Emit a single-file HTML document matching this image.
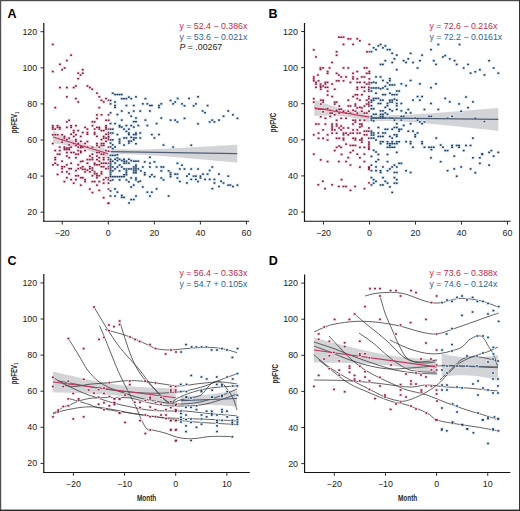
<!DOCTYPE html>
<html><head><meta charset="utf-8"><style>
html,body{margin:0;padding:0;background:#fff;}
#wrap{position:relative;width:520px;height:511px;overflow:hidden;background:#fff;}
svg{position:absolute;left:0;top:0;}
.tk{font-family:"Liberation Sans", sans-serif;font-size:8.9px;fill:#222;}
.let{font-family:"Liberation Sans", sans-serif;font-size:12.5px;font-weight:bold;fill:#000;}
.yt{font-family:"Liberation Sans", sans-serif;font-size:8.4px;font-weight:bold;fill:#2a2a2a;}
.xt{font-family:"Liberation Sans", sans-serif;font-size:9.8px;font-weight:bold;fill:#2a2a2a;}
.eq{font-family:"Liberation Sans", sans-serif;font-size:8.8px;}
</style></head><body><div id="wrap">
<svg width="520" height="511" viewBox="0 0 520 511">
<rect x="0" y="0" width="520" height="1.2" fill="#4a4a4a"/><rect x="0" y="0" width="1.2" height="511" fill="#505050"/><rect x="519" y="0" width="1" height="511" fill="#333"/><rect x="0" y="509.6" width="520" height="1.4" fill="#2a2a2a"/>
<path d="M53.03,130.99 L54.41,131.61 L55.79,132.23 L57.17,132.84 L58.56,133.45 L59.94,134.06 L61.32,134.66 L62.70,135.26 L64.08,135.86 L65.46,136.45 L66.85,137.04 L68.23,137.62 L69.61,138.19 L70.99,138.76 L72.37,139.32 L73.75,139.86 L75.14,140.40 L76.52,140.93 L77.90,141.44 L79.28,141.94 L80.66,142.43 L82.05,142.90 L83.43,143.35 L84.81,143.78 L86.19,144.20 L87.57,144.59 L88.95,144.97 L90.34,145.34 L91.72,145.68 L93.10,146.01 L94.48,146.33 L95.86,146.64 L97.25,146.93 L98.63,147.21 L100.01,147.49 L101.39,147.75 L102.77,148.01 L104.15,148.27 L105.54,148.51 L106.92,148.76 L108.30,149.00 L108.30,158.44 L106.92,157.84 L105.54,157.25 L104.15,156.66 L102.77,156.08 L101.39,155.50 L100.01,154.93 L98.63,154.37 L97.25,153.82 L95.86,153.28 L94.48,152.75 L93.10,152.23 L91.72,151.72 L90.34,151.23 L88.95,150.76 L87.57,150.30 L86.19,149.86 L84.81,149.44 L83.43,149.04 L82.05,148.65 L80.66,148.29 L79.28,147.93 L77.90,147.60 L76.52,147.28 L75.14,146.97 L73.75,146.67 L72.37,146.38 L70.99,146.10 L69.61,145.84 L68.23,145.57 L66.85,145.32 L65.46,145.07 L64.08,144.82 L62.70,144.58 L61.32,144.35 L59.94,144.12 L58.56,143.89 L57.17,143.66 L55.79,143.44 L54.41,143.22 L53.03,143.00 Z" fill="#c4c6cb" fill-opacity="0.75"/>
<path d="M110.60,148.83 L113.77,148.99 L116.94,149.13 L120.10,149.24 L123.27,149.33 L126.44,149.40 L129.60,149.44 L132.77,149.46 L135.94,149.45 L139.10,149.42 L142.27,149.38 L145.44,149.31 L148.60,149.22 L151.77,149.13 L154.94,149.02 L158.10,148.90 L161.27,148.77 L164.44,148.64 L167.60,148.49 L170.77,148.35 L173.94,148.19 L177.10,148.04 L180.27,147.88 L183.44,147.71 L186.60,147.55 L189.77,147.38 L192.94,147.21 L196.10,147.03 L199.27,146.86 L202.44,146.68 L205.60,146.50 L208.77,146.32 L211.94,146.14 L215.10,145.96 L218.27,145.78 L221.43,145.60 L224.60,145.41 L227.77,145.23 L230.93,145.04 L234.10,144.86 L237.27,144.67 L237.27,162.68 L234.10,162.39 L230.93,162.10 L227.77,161.81 L224.60,161.52 L221.43,161.23 L218.27,160.95 L215.10,160.66 L211.94,160.37 L208.77,160.09 L205.60,159.80 L202.44,159.52 L199.27,159.24 L196.10,158.96 L192.94,158.68 L189.77,158.41 L186.60,158.14 L183.44,157.86 L180.27,157.60 L177.10,157.33 L173.94,157.07 L170.77,156.81 L167.60,156.56 L164.44,156.32 L161.27,156.08 L158.10,155.84 L154.94,155.62 L151.77,155.41 L148.60,155.21 L145.44,155.02 L142.27,154.85 L139.10,154.69 L135.94,154.56 L132.77,154.45 L129.60,154.36 L126.44,154.30 L123.27,154.26 L120.10,154.25 L116.94,154.26 L113.77,154.29 L110.60,154.35 Z" fill="#c4c6cb" fill-opacity="0.75"/>
<g fill="#f8dbe3"><rect x="51.13" y="42.76" width="3.3" height="3.3"/><rect x="69.47" y="53.48" width="3.3" height="3.3"/><rect x="65.21" y="58.90" width="3.3" height="3.3"/><rect x="58.24" y="62.65" width="3.3" height="3.3"/><rect x="63.02" y="66.26" width="3.3" height="3.3"/><rect x="60.43" y="68.07" width="3.3" height="3.3"/><rect x="51.13" y="69.88" width="3.3" height="3.3"/><rect x="81.10" y="68.07" width="3.3" height="3.3"/><rect x="76.58" y="71.56" width="3.3" height="3.3"/><rect x="81.10" y="71.56" width="3.3" height="3.3"/><rect x="78.90" y="73.37" width="3.3" height="3.3"/><rect x="76.58" y="76.98" width="3.3" height="3.3"/><rect x="58.24" y="85.90" width="3.3" height="3.3"/><rect x="65.21" y="85.90" width="3.3" height="3.3"/><rect x="72.06" y="85.90" width="3.3" height="3.3"/><rect x="74.25" y="84.35" width="3.3" height="3.3"/><rect x="85.75" y="84.35" width="3.3" height="3.3"/><rect x="88.20" y="85.90" width="3.3" height="3.3"/><rect x="90.53" y="87.58" width="3.3" height="3.3"/><rect x="95.30" y="91.52" width="3.3" height="3.3"/><rect x="65.21" y="95.13" width="3.3" height="3.3"/><rect x="97.63" y="95.13" width="3.3" height="3.3"/><rect x="74.25" y="96.94" width="3.3" height="3.3"/><rect x="76.58" y="100.30" width="3.3" height="3.3"/><rect x="99.83" y="98.62" width="3.3" height="3.3"/><rect x="102.02" y="100.30" width="3.3" height="3.3"/><rect x="104.35" y="96.94" width="3.3" height="3.3"/><rect x="106.93" y="98.62" width="3.3" height="3.3"/><rect x="53.59" y="105.98" width="3.3" height="3.3"/><rect x="97.63" y="105.98" width="3.3" height="3.3"/><rect x="95.30" y="113.21" width="3.3" height="3.3"/><rect x="99.83" y="113.21" width="3.3" height="3.3"/><rect x="106.93" y="113.21" width="3.3" height="3.3"/><rect x="95.30" y="116.83" width="3.3" height="3.3"/><rect x="67.54" y="118.64" width="3.3" height="3.3"/><rect x="65.21" y="120.19" width="3.3" height="3.3"/><rect x="90.78" y="120.19" width="3.3" height="3.3"/><rect x="92.98" y="120.19" width="3.3" height="3.3"/><rect x="104.35" y="118.64" width="3.3" height="3.3"/><rect x="106.93" y="118.64" width="3.3" height="3.3"/><rect x="51.13" y="124.06" width="3.3" height="3.3"/><rect x="51.13" y="125.74" width="3.3" height="3.3"/><rect x="51.13" y="127.42" width="3.3" height="3.3"/><rect x="53.59" y="127.42" width="3.3" height="3.3"/><rect x="55.91" y="124.06" width="3.3" height="3.3"/><rect x="55.91" y="125.74" width="3.3" height="3.3"/><rect x="58.11" y="125.74" width="3.3" height="3.3"/><rect x="58.11" y="127.42" width="3.3" height="3.3"/><rect x="65.21" y="125.74" width="3.3" height="3.3"/><rect x="69.47" y="124.06" width="3.3" height="3.3"/><rect x="69.47" y="125.74" width="3.3" height="3.3"/><rect x="74.25" y="124.06" width="3.3" height="3.3"/><rect x="83.42" y="125.74" width="3.3" height="3.3"/><rect x="85.75" y="127.42" width="3.3" height="3.3"/><rect x="90.78" y="124.06" width="3.3" height="3.3"/><rect x="92.98" y="127.42" width="3.3" height="3.3"/><rect x="95.30" y="125.74" width="3.3" height="3.3"/><rect x="97.63" y="125.74" width="3.3" height="3.3"/><rect x="97.63" y="127.42" width="3.3" height="3.3"/><rect x="99.83" y="128.97" width="3.3" height="3.3"/><rect x="102.02" y="128.97" width="3.3" height="3.3"/><rect x="104.35" y="124.06" width="3.3" height="3.3"/><rect x="104.35" y="125.74" width="3.3" height="3.3"/><rect x="104.35" y="127.42" width="3.3" height="3.3"/><rect x="106.93" y="127.42" width="3.3" height="3.3"/><rect x="72.06" y="128.97" width="3.3" height="3.3"/><rect x="72.06" y="130.91" width="3.3" height="3.3"/><rect x="76.58" y="128.97" width="3.3" height="3.3"/><rect x="81.10" y="130.91" width="3.3" height="3.3"/><rect x="85.75" y="130.91" width="3.3" height="3.3"/><rect x="85.75" y="132.59" width="3.3" height="3.3"/><rect x="92.98" y="130.91" width="3.3" height="3.3"/><rect x="92.98" y="132.59" width="3.3" height="3.3"/><rect x="106.93" y="130.91" width="3.3" height="3.3"/><rect x="106.93" y="132.59" width="3.3" height="3.3"/><rect x="51.13" y="133.11" width="3.3" height="3.3"/><rect x="53.59" y="133.11" width="3.3" height="3.3"/><rect x="55.91" y="133.11" width="3.3" height="3.3"/><rect x="60.43" y="133.11" width="3.3" height="3.3"/><rect x="69.47" y="132.59" width="3.3" height="3.3"/><rect x="74.25" y="133.11" width="3.3" height="3.3"/><rect x="104.35" y="132.59" width="3.3" height="3.3"/><rect x="62.76" y="134.78" width="3.3" height="3.3"/><rect x="62.76" y="136.46" width="3.3" height="3.3"/><rect x="67.54" y="136.46" width="3.3" height="3.3"/><rect x="72.06" y="134.78" width="3.3" height="3.3"/><rect x="79.16" y="134.78" width="3.3" height="3.3"/><rect x="95.30" y="134.78" width="3.3" height="3.3"/><rect x="102.02" y="134.78" width="3.3" height="3.3"/><rect x="102.02" y="136.46" width="3.3" height="3.3"/><rect x="104.35" y="136.46" width="3.3" height="3.3"/><rect x="106.93" y="134.78" width="3.3" height="3.3"/><rect x="106.93" y="136.46" width="3.3" height="3.3"/><rect x="106.93" y="138.01" width="3.3" height="3.3"/><rect x="60.43" y="138.01" width="3.3" height="3.3"/><rect x="65.21" y="138.01" width="3.3" height="3.3"/><rect x="74.25" y="138.01" width="3.3" height="3.3"/><rect x="74.25" y="139.69" width="3.3" height="3.3"/><rect x="79.16" y="139.69" width="3.3" height="3.3"/><rect x="99.83" y="138.01" width="3.3" height="3.3"/><rect x="104.35" y="139.69" width="3.3" height="3.3"/><rect x="51.13" y="141.89" width="3.3" height="3.3"/><rect x="60.43" y="140.60" width="3.3" height="3.3"/><rect x="67.54" y="143.18" width="3.3" height="3.3"/><rect x="72.06" y="141.89" width="3.3" height="3.3"/><rect x="76.58" y="141.89" width="3.3" height="3.3"/><rect x="83.42" y="141.89" width="3.3" height="3.3"/><rect x="85.75" y="139.95" width="3.3" height="3.3"/><rect x="95.30" y="141.89" width="3.3" height="3.3"/><rect x="99.83" y="141.89" width="3.3" height="3.3"/><rect x="102.02" y="141.89" width="3.3" height="3.3"/><rect x="58.11" y="145.50" width="3.3" height="3.3"/><rect x="62.76" y="145.50" width="3.3" height="3.3"/><rect x="62.76" y="147.05" width="3.3" height="3.3"/><rect x="65.21" y="146.41" width="3.3" height="3.3"/><rect x="67.54" y="146.41" width="3.3" height="3.3"/><rect x="69.47" y="145.50" width="3.3" height="3.3"/><rect x="74.25" y="143.83" width="3.3" height="3.3"/><rect x="76.58" y="145.50" width="3.3" height="3.3"/><rect x="79.16" y="144.47" width="3.3" height="3.3"/><rect x="79.16" y="146.02" width="3.3" height="3.3"/><rect x="81.10" y="145.50" width="3.3" height="3.3"/><rect x="85.75" y="145.50" width="3.3" height="3.3"/><rect x="90.78" y="145.50" width="3.3" height="3.3"/><rect x="95.30" y="143.83" width="3.3" height="3.3"/><rect x="97.63" y="145.50" width="3.3" height="3.3"/><rect x="99.83" y="143.83" width="3.3" height="3.3"/><rect x="102.02" y="143.83" width="3.3" height="3.3"/><rect x="106.93" y="145.50" width="3.3" height="3.3"/><rect x="53.59" y="148.93" width="3.3" height="3.3"/><rect x="58.11" y="148.93" width="3.3" height="3.3"/><rect x="76.58" y="148.93" width="3.3" height="3.3"/><rect x="83.42" y="148.93" width="3.3" height="3.3"/><rect x="104.35" y="148.93" width="3.3" height="3.3"/><rect x="106.93" y="149.58" width="3.3" height="3.3"/><rect x="63.02" y="147.90" width="3.3" height="3.3"/><rect x="65.21" y="147.90" width="3.3" height="3.3"/><rect x="67.54" y="147.90" width="3.3" height="3.3"/><rect x="55.91" y="152.55" width="3.3" height="3.3"/><rect x="58.11" y="152.55" width="3.3" height="3.3"/><rect x="65.21" y="150.87" width="3.3" height="3.3"/><rect x="69.47" y="150.87" width="3.3" height="3.3"/><rect x="72.06" y="150.87" width="3.3" height="3.3"/><rect x="74.25" y="152.55" width="3.3" height="3.3"/><rect x="76.58" y="152.55" width="3.3" height="3.3"/><rect x="79.16" y="149.58" width="3.3" height="3.3"/><rect x="79.16" y="150.87" width="3.3" height="3.3"/><rect x="90.78" y="152.55" width="3.3" height="3.3"/><rect x="95.30" y="150.87" width="3.3" height="3.3"/><rect x="97.63" y="150.87" width="3.3" height="3.3"/><rect x="99.83" y="152.55" width="3.3" height="3.3"/><rect x="102.02" y="152.55" width="3.3" height="3.3"/><rect x="53.59" y="156.04" width="3.3" height="3.3"/><rect x="53.59" y="157.97" width="3.3" height="3.3"/><rect x="65.21" y="154.36" width="3.3" height="3.3"/><rect x="67.54" y="156.04" width="3.3" height="3.3"/><rect x="74.25" y="156.04" width="3.3" height="3.3"/><rect x="88.20" y="154.36" width="3.3" height="3.3"/><rect x="90.78" y="156.04" width="3.3" height="3.3"/><rect x="95.30" y="154.36" width="3.3" height="3.3"/><rect x="95.30" y="157.97" width="3.3" height="3.3"/><rect x="97.63" y="156.04" width="3.3" height="3.3"/><rect x="102.02" y="156.04" width="3.3" height="3.3"/><rect x="102.02" y="157.97" width="3.3" height="3.3"/><rect x="106.93" y="156.04" width="3.3" height="3.3"/><rect x="106.93" y="157.97" width="3.3" height="3.3"/><rect x="60.43" y="159.52" width="3.3" height="3.3"/><rect x="79.16" y="159.91" width="3.3" height="3.3"/><rect x="81.10" y="159.52" width="3.3" height="3.3"/><rect x="85.75" y="157.97" width="3.3" height="3.3"/><rect x="88.20" y="157.97" width="3.3" height="3.3"/><rect x="90.78" y="157.97" width="3.3" height="3.3"/><rect x="97.63" y="159.52" width="3.3" height="3.3"/><rect x="51.39" y="163.14" width="3.3" height="3.3"/><rect x="53.59" y="161.59" width="3.3" height="3.3"/><rect x="55.91" y="163.14" width="3.3" height="3.3"/><rect x="65.21" y="163.14" width="3.3" height="3.3"/><rect x="69.47" y="161.59" width="3.3" height="3.3"/><rect x="76.58" y="163.14" width="3.3" height="3.3"/><rect x="85.75" y="161.59" width="3.3" height="3.3"/><rect x="92.98" y="161.59" width="3.3" height="3.3"/><rect x="92.98" y="163.14" width="3.3" height="3.3"/><rect x="95.30" y="163.14" width="3.3" height="3.3"/><rect x="97.63" y="163.14" width="3.3" height="3.3"/><rect x="99.83" y="161.59" width="3.3" height="3.3"/><rect x="102.02" y="161.59" width="3.3" height="3.3"/><rect x="104.35" y="161.59" width="3.3" height="3.3"/><rect x="106.93" y="161.59" width="3.3" height="3.3"/><rect x="60.43" y="165.08" width="3.3" height="3.3"/><rect x="60.43" y="167.02" width="3.3" height="3.3"/><rect x="62.76" y="165.08" width="3.3" height="3.3"/><rect x="67.54" y="167.02" width="3.3" height="3.3"/><rect x="69.47" y="167.02" width="3.3" height="3.3"/><rect x="76.58" y="167.02" width="3.3" height="3.3"/><rect x="79.16" y="166.37" width="3.3" height="3.3"/><rect x="81.10" y="165.08" width="3.3" height="3.3"/><rect x="81.10" y="167.66" width="3.3" height="3.3"/><rect x="83.42" y="167.66" width="3.3" height="3.3"/><rect x="85.75" y="168.57" width="3.3" height="3.3"/><rect x="88.20" y="165.08" width="3.3" height="3.3"/><rect x="88.20" y="167.02" width="3.3" height="3.3"/><rect x="90.78" y="166.37" width="3.3" height="3.3"/><rect x="90.78" y="168.57" width="3.3" height="3.3"/><rect x="99.83" y="165.08" width="3.3" height="3.3"/><rect x="102.02" y="165.08" width="3.3" height="3.3"/><rect x="104.35" y="167.02" width="3.3" height="3.3"/><rect x="106.93" y="165.08" width="3.3" height="3.3"/><rect x="106.93" y="167.02" width="3.3" height="3.3"/><rect x="60.43" y="170.24" width="3.3" height="3.3"/><rect x="65.21" y="170.24" width="3.3" height="3.3"/><rect x="67.54" y="172.18" width="3.3" height="3.3"/><rect x="74.25" y="168.95" width="3.3" height="3.3"/><rect x="83.42" y="170.24" width="3.3" height="3.3"/><rect x="88.20" y="170.24" width="3.3" height="3.3"/><rect x="92.98" y="170.24" width="3.3" height="3.3"/><rect x="92.98" y="172.18" width="3.3" height="3.3"/><rect x="95.30" y="172.18" width="3.3" height="3.3"/><rect x="99.83" y="170.24" width="3.3" height="3.3"/><rect x="99.83" y="172.18" width="3.3" height="3.3"/><rect x="55.91" y="172.83" width="3.3" height="3.3"/><rect x="65.21" y="176.06" width="3.3" height="3.3"/><rect x="69.47" y="177.99" width="3.3" height="3.3"/><rect x="74.25" y="174.12" width="3.3" height="3.3"/><rect x="76.58" y="174.12" width="3.3" height="3.3"/><rect x="74.25" y="177.99" width="3.3" height="3.3"/><rect x="79.16" y="176.06" width="3.3" height="3.3"/><rect x="81.10" y="176.06" width="3.3" height="3.3"/><rect x="83.42" y="177.99" width="3.3" height="3.3"/><rect x="83.42" y="179.93" width="3.3" height="3.3"/><rect x="90.78" y="174.12" width="3.3" height="3.3"/><rect x="95.30" y="174.12" width="3.3" height="3.3"/><rect x="97.63" y="174.12" width="3.3" height="3.3"/><rect x="95.30" y="176.06" width="3.3" height="3.3"/><rect x="102.02" y="177.99" width="3.3" height="3.3"/><rect x="104.35" y="176.06" width="3.3" height="3.3"/><rect x="106.93" y="176.06" width="3.3" height="3.3"/><rect x="106.93" y="177.99" width="3.3" height="3.3"/><rect x="62.76" y="179.93" width="3.3" height="3.3"/><rect x="72.06" y="181.48" width="3.3" height="3.3"/><rect x="90.78" y="179.93" width="3.3" height="3.3"/><rect x="92.98" y="179.93" width="3.3" height="3.3"/><rect x="97.63" y="179.93" width="3.3" height="3.3"/><rect x="102.02" y="181.48" width="3.3" height="3.3"/><rect x="106.93" y="181.48" width="3.3" height="3.3"/><rect x="79.16" y="183.55" width="3.3" height="3.3"/><rect x="95.30" y="183.55" width="3.3" height="3.3"/><rect x="88.20" y="187.42" width="3.3" height="3.3"/><rect x="97.63" y="188.71" width="3.3" height="3.3"/><rect x="106.93" y="187.42" width="3.3" height="3.3"/><rect x="90.78" y="190.91" width="3.3" height="3.3"/><rect x="102.02" y="196.08" width="3.3" height="3.3"/><rect x="106.93" y="201.63" width="3.3" height="3.3"/><rect x="106.55" y="201.65" width="3.3" height="3.3"/></g>
<g fill="#7c1c3c"><rect x="51.88" y="43.66" width="1.8" height="1.5"/><rect x="70.22" y="54.38" width="1.8" height="1.5"/><rect x="65.96" y="59.80" width="1.8" height="1.5"/><rect x="58.99" y="63.55" width="1.8" height="1.5"/><rect x="63.77" y="67.16" width="1.8" height="1.5"/><rect x="61.18" y="68.97" width="1.8" height="1.5"/><rect x="51.88" y="70.78" width="1.8" height="1.5"/><rect x="81.85" y="68.97" width="1.8" height="1.5"/><rect x="77.33" y="72.46" width="1.8" height="1.5"/><rect x="81.85" y="72.46" width="1.8" height="1.5"/><rect x="79.65" y="74.27" width="1.8" height="1.5"/><rect x="77.33" y="77.88" width="1.8" height="1.5"/><rect x="58.99" y="86.80" width="1.8" height="1.5"/><rect x="65.96" y="86.80" width="1.8" height="1.5"/><rect x="72.81" y="86.80" width="1.8" height="1.5"/><rect x="75.00" y="85.25" width="1.8" height="1.5"/><rect x="86.50" y="85.25" width="1.8" height="1.5"/><rect x="88.95" y="86.80" width="1.8" height="1.5"/><rect x="91.28" y="88.48" width="1.8" height="1.5"/><rect x="96.05" y="92.42" width="1.8" height="1.5"/><rect x="65.96" y="96.03" width="1.8" height="1.5"/><rect x="98.38" y="96.03" width="1.8" height="1.5"/><rect x="75.00" y="97.84" width="1.8" height="1.5"/><rect x="77.33" y="101.20" width="1.8" height="1.5"/><rect x="100.58" y="99.52" width="1.8" height="1.5"/><rect x="102.77" y="101.20" width="1.8" height="1.5"/><rect x="105.10" y="97.84" width="1.8" height="1.5"/><rect x="107.68" y="99.52" width="1.8" height="1.5"/><rect x="54.34" y="106.88" width="1.8" height="1.5"/><rect x="98.38" y="106.88" width="1.8" height="1.5"/><rect x="96.05" y="114.11" width="1.8" height="1.5"/><rect x="100.58" y="114.11" width="1.8" height="1.5"/><rect x="107.68" y="114.11" width="1.8" height="1.5"/><rect x="96.05" y="117.73" width="1.8" height="1.5"/><rect x="68.29" y="119.54" width="1.8" height="1.5"/><rect x="65.96" y="121.09" width="1.8" height="1.5"/><rect x="91.53" y="121.09" width="1.8" height="1.5"/><rect x="93.73" y="121.09" width="1.8" height="1.5"/><rect x="105.10" y="119.54" width="1.8" height="1.5"/><rect x="107.68" y="119.54" width="1.8" height="1.5"/><rect x="51.88" y="124.96" width="1.8" height="1.5"/><rect x="51.88" y="126.64" width="1.8" height="1.5"/><rect x="51.88" y="128.32" width="1.8" height="1.5"/><rect x="54.34" y="128.32" width="1.8" height="1.5"/><rect x="56.66" y="124.96" width="1.8" height="1.5"/><rect x="56.66" y="126.64" width="1.8" height="1.5"/><rect x="58.86" y="126.64" width="1.8" height="1.5"/><rect x="58.86" y="128.32" width="1.8" height="1.5"/><rect x="65.96" y="126.64" width="1.8" height="1.5"/><rect x="70.22" y="124.96" width="1.8" height="1.5"/><rect x="70.22" y="126.64" width="1.8" height="1.5"/><rect x="75.00" y="124.96" width="1.8" height="1.5"/><rect x="84.17" y="126.64" width="1.8" height="1.5"/><rect x="86.50" y="128.32" width="1.8" height="1.5"/><rect x="91.53" y="124.96" width="1.8" height="1.5"/><rect x="93.73" y="128.32" width="1.8" height="1.5"/><rect x="96.05" y="126.64" width="1.8" height="1.5"/><rect x="98.38" y="126.64" width="1.8" height="1.5"/><rect x="98.38" y="128.32" width="1.8" height="1.5"/><rect x="100.58" y="129.87" width="1.8" height="1.5"/><rect x="102.77" y="129.87" width="1.8" height="1.5"/><rect x="105.10" y="124.96" width="1.8" height="1.5"/><rect x="105.10" y="126.64" width="1.8" height="1.5"/><rect x="105.10" y="128.32" width="1.8" height="1.5"/><rect x="107.68" y="128.32" width="1.8" height="1.5"/><rect x="72.81" y="129.87" width="1.8" height="1.5"/><rect x="72.81" y="131.81" width="1.8" height="1.5"/><rect x="77.33" y="129.87" width="1.8" height="1.5"/><rect x="81.85" y="131.81" width="1.8" height="1.5"/><rect x="86.50" y="131.81" width="1.8" height="1.5"/><rect x="86.50" y="133.49" width="1.8" height="1.5"/><rect x="93.73" y="131.81" width="1.8" height="1.5"/><rect x="93.73" y="133.49" width="1.8" height="1.5"/><rect x="107.68" y="131.81" width="1.8" height="1.5"/><rect x="107.68" y="133.49" width="1.8" height="1.5"/><rect x="51.88" y="134.01" width="1.8" height="1.5"/><rect x="54.34" y="134.01" width="1.8" height="1.5"/><rect x="56.66" y="134.01" width="1.8" height="1.5"/><rect x="61.18" y="134.01" width="1.8" height="1.5"/><rect x="70.22" y="133.49" width="1.8" height="1.5"/><rect x="75.00" y="134.01" width="1.8" height="1.5"/><rect x="105.10" y="133.49" width="1.8" height="1.5"/><rect x="63.51" y="135.68" width="1.8" height="1.5"/><rect x="63.51" y="137.36" width="1.8" height="1.5"/><rect x="68.29" y="137.36" width="1.8" height="1.5"/><rect x="72.81" y="135.68" width="1.8" height="1.5"/><rect x="79.91" y="135.68" width="1.8" height="1.5"/><rect x="96.05" y="135.68" width="1.8" height="1.5"/><rect x="102.77" y="135.68" width="1.8" height="1.5"/><rect x="102.77" y="137.36" width="1.8" height="1.5"/><rect x="105.10" y="137.36" width="1.8" height="1.5"/><rect x="107.68" y="135.68" width="1.8" height="1.5"/><rect x="107.68" y="137.36" width="1.8" height="1.5"/><rect x="107.68" y="138.91" width="1.8" height="1.5"/><rect x="61.18" y="138.91" width="1.8" height="1.5"/><rect x="65.96" y="138.91" width="1.8" height="1.5"/><rect x="75.00" y="138.91" width="1.8" height="1.5"/><rect x="75.00" y="140.59" width="1.8" height="1.5"/><rect x="79.91" y="140.59" width="1.8" height="1.5"/><rect x="100.58" y="138.91" width="1.8" height="1.5"/><rect x="105.10" y="140.59" width="1.8" height="1.5"/><rect x="51.88" y="142.79" width="1.8" height="1.5"/><rect x="61.18" y="141.50" width="1.8" height="1.5"/><rect x="68.29" y="144.08" width="1.8" height="1.5"/><rect x="72.81" y="142.79" width="1.8" height="1.5"/><rect x="77.33" y="142.79" width="1.8" height="1.5"/><rect x="84.17" y="142.79" width="1.8" height="1.5"/><rect x="86.50" y="140.85" width="1.8" height="1.5"/><rect x="96.05" y="142.79" width="1.8" height="1.5"/><rect x="100.58" y="142.79" width="1.8" height="1.5"/><rect x="102.77" y="142.79" width="1.8" height="1.5"/><rect x="58.86" y="146.40" width="1.8" height="1.5"/><rect x="63.51" y="146.40" width="1.8" height="1.5"/><rect x="63.51" y="147.95" width="1.8" height="1.5"/><rect x="65.96" y="147.31" width="1.8" height="1.5"/><rect x="68.29" y="147.31" width="1.8" height="1.5"/><rect x="70.22" y="146.40" width="1.8" height="1.5"/><rect x="75.00" y="144.73" width="1.8" height="1.5"/><rect x="77.33" y="146.40" width="1.8" height="1.5"/><rect x="79.91" y="145.37" width="1.8" height="1.5"/><rect x="79.91" y="146.92" width="1.8" height="1.5"/><rect x="81.85" y="146.40" width="1.8" height="1.5"/><rect x="86.50" y="146.40" width="1.8" height="1.5"/><rect x="91.53" y="146.40" width="1.8" height="1.5"/><rect x="96.05" y="144.73" width="1.8" height="1.5"/><rect x="98.38" y="146.40" width="1.8" height="1.5"/><rect x="100.58" y="144.73" width="1.8" height="1.5"/><rect x="102.77" y="144.73" width="1.8" height="1.5"/><rect x="107.68" y="146.40" width="1.8" height="1.5"/><rect x="54.34" y="149.83" width="1.8" height="1.5"/><rect x="58.86" y="149.83" width="1.8" height="1.5"/><rect x="77.33" y="149.83" width="1.8" height="1.5"/><rect x="84.17" y="149.83" width="1.8" height="1.5"/><rect x="105.10" y="149.83" width="1.8" height="1.5"/><rect x="107.68" y="150.48" width="1.8" height="1.5"/><rect x="63.77" y="148.80" width="1.8" height="1.5"/><rect x="65.96" y="148.80" width="1.8" height="1.5"/><rect x="68.29" y="148.80" width="1.8" height="1.5"/><rect x="56.66" y="153.45" width="1.8" height="1.5"/><rect x="58.86" y="153.45" width="1.8" height="1.5"/><rect x="65.96" y="151.77" width="1.8" height="1.5"/><rect x="70.22" y="151.77" width="1.8" height="1.5"/><rect x="72.81" y="151.77" width="1.8" height="1.5"/><rect x="75.00" y="153.45" width="1.8" height="1.5"/><rect x="77.33" y="153.45" width="1.8" height="1.5"/><rect x="79.91" y="150.48" width="1.8" height="1.5"/><rect x="79.91" y="151.77" width="1.8" height="1.5"/><rect x="91.53" y="153.45" width="1.8" height="1.5"/><rect x="96.05" y="151.77" width="1.8" height="1.5"/><rect x="98.38" y="151.77" width="1.8" height="1.5"/><rect x="100.58" y="153.45" width="1.8" height="1.5"/><rect x="102.77" y="153.45" width="1.8" height="1.5"/><rect x="54.34" y="156.94" width="1.8" height="1.5"/><rect x="54.34" y="158.87" width="1.8" height="1.5"/><rect x="65.96" y="155.26" width="1.8" height="1.5"/><rect x="68.29" y="156.94" width="1.8" height="1.5"/><rect x="75.00" y="156.94" width="1.8" height="1.5"/><rect x="88.95" y="155.26" width="1.8" height="1.5"/><rect x="91.53" y="156.94" width="1.8" height="1.5"/><rect x="96.05" y="155.26" width="1.8" height="1.5"/><rect x="96.05" y="158.87" width="1.8" height="1.5"/><rect x="98.38" y="156.94" width="1.8" height="1.5"/><rect x="102.77" y="156.94" width="1.8" height="1.5"/><rect x="102.77" y="158.87" width="1.8" height="1.5"/><rect x="107.68" y="156.94" width="1.8" height="1.5"/><rect x="107.68" y="158.87" width="1.8" height="1.5"/><rect x="61.18" y="160.42" width="1.8" height="1.5"/><rect x="79.91" y="160.81" width="1.8" height="1.5"/><rect x="81.85" y="160.42" width="1.8" height="1.5"/><rect x="86.50" y="158.87" width="1.8" height="1.5"/><rect x="88.95" y="158.87" width="1.8" height="1.5"/><rect x="91.53" y="158.87" width="1.8" height="1.5"/><rect x="98.38" y="160.42" width="1.8" height="1.5"/><rect x="52.14" y="164.04" width="1.8" height="1.5"/><rect x="54.34" y="162.49" width="1.8" height="1.5"/><rect x="56.66" y="164.04" width="1.8" height="1.5"/><rect x="65.96" y="164.04" width="1.8" height="1.5"/><rect x="70.22" y="162.49" width="1.8" height="1.5"/><rect x="77.33" y="164.04" width="1.8" height="1.5"/><rect x="86.50" y="162.49" width="1.8" height="1.5"/><rect x="93.73" y="162.49" width="1.8" height="1.5"/><rect x="93.73" y="164.04" width="1.8" height="1.5"/><rect x="96.05" y="164.04" width="1.8" height="1.5"/><rect x="98.38" y="164.04" width="1.8" height="1.5"/><rect x="100.58" y="162.49" width="1.8" height="1.5"/><rect x="102.77" y="162.49" width="1.8" height="1.5"/><rect x="105.10" y="162.49" width="1.8" height="1.5"/><rect x="107.68" y="162.49" width="1.8" height="1.5"/><rect x="61.18" y="165.98" width="1.8" height="1.5"/><rect x="61.18" y="167.92" width="1.8" height="1.5"/><rect x="63.51" y="165.98" width="1.8" height="1.5"/><rect x="68.29" y="167.92" width="1.8" height="1.5"/><rect x="70.22" y="167.92" width="1.8" height="1.5"/><rect x="77.33" y="167.92" width="1.8" height="1.5"/><rect x="79.91" y="167.27" width="1.8" height="1.5"/><rect x="81.85" y="165.98" width="1.8" height="1.5"/><rect x="81.85" y="168.56" width="1.8" height="1.5"/><rect x="84.17" y="168.56" width="1.8" height="1.5"/><rect x="86.50" y="169.47" width="1.8" height="1.5"/><rect x="88.95" y="165.98" width="1.8" height="1.5"/><rect x="88.95" y="167.92" width="1.8" height="1.5"/><rect x="91.53" y="167.27" width="1.8" height="1.5"/><rect x="91.53" y="169.47" width="1.8" height="1.5"/><rect x="100.58" y="165.98" width="1.8" height="1.5"/><rect x="102.77" y="165.98" width="1.8" height="1.5"/><rect x="105.10" y="167.92" width="1.8" height="1.5"/><rect x="107.68" y="165.98" width="1.8" height="1.5"/><rect x="107.68" y="167.92" width="1.8" height="1.5"/><rect x="61.18" y="171.14" width="1.8" height="1.5"/><rect x="65.96" y="171.14" width="1.8" height="1.5"/><rect x="68.29" y="173.08" width="1.8" height="1.5"/><rect x="75.00" y="169.85" width="1.8" height="1.5"/><rect x="84.17" y="171.14" width="1.8" height="1.5"/><rect x="88.95" y="171.14" width="1.8" height="1.5"/><rect x="93.73" y="171.14" width="1.8" height="1.5"/><rect x="93.73" y="173.08" width="1.8" height="1.5"/><rect x="96.05" y="173.08" width="1.8" height="1.5"/><rect x="100.58" y="171.14" width="1.8" height="1.5"/><rect x="100.58" y="173.08" width="1.8" height="1.5"/><rect x="56.66" y="173.73" width="1.8" height="1.5"/><rect x="65.96" y="176.96" width="1.8" height="1.5"/><rect x="70.22" y="178.89" width="1.8" height="1.5"/><rect x="75.00" y="175.02" width="1.8" height="1.5"/><rect x="77.33" y="175.02" width="1.8" height="1.5"/><rect x="75.00" y="178.89" width="1.8" height="1.5"/><rect x="79.91" y="176.96" width="1.8" height="1.5"/><rect x="81.85" y="176.96" width="1.8" height="1.5"/><rect x="84.17" y="178.89" width="1.8" height="1.5"/><rect x="84.17" y="180.83" width="1.8" height="1.5"/><rect x="91.53" y="175.02" width="1.8" height="1.5"/><rect x="96.05" y="175.02" width="1.8" height="1.5"/><rect x="98.38" y="175.02" width="1.8" height="1.5"/><rect x="96.05" y="176.96" width="1.8" height="1.5"/><rect x="102.77" y="178.89" width="1.8" height="1.5"/><rect x="105.10" y="176.96" width="1.8" height="1.5"/><rect x="107.68" y="176.96" width="1.8" height="1.5"/><rect x="107.68" y="178.89" width="1.8" height="1.5"/><rect x="63.51" y="180.83" width="1.8" height="1.5"/><rect x="72.81" y="182.38" width="1.8" height="1.5"/><rect x="91.53" y="180.83" width="1.8" height="1.5"/><rect x="93.73" y="180.83" width="1.8" height="1.5"/><rect x="98.38" y="180.83" width="1.8" height="1.5"/><rect x="102.77" y="182.38" width="1.8" height="1.5"/><rect x="107.68" y="182.38" width="1.8" height="1.5"/><rect x="79.91" y="184.45" width="1.8" height="1.5"/><rect x="96.05" y="184.45" width="1.8" height="1.5"/><rect x="88.95" y="188.32" width="1.8" height="1.5"/><rect x="98.38" y="189.61" width="1.8" height="1.5"/><rect x="107.68" y="188.32" width="1.8" height="1.5"/><rect x="91.53" y="191.81" width="1.8" height="1.5"/><rect x="102.77" y="196.98" width="1.8" height="1.5"/><rect x="107.68" y="202.53" width="1.8" height="1.5"/><rect x="107.30" y="202.55" width="1.8" height="1.5"/></g>
<g fill="#d9e9f5"><rect x="111.07" y="91.60" width="3.3" height="3.3"/><rect x="113.39" y="92.89" width="3.3" height="3.3"/><rect x="115.72" y="92.89" width="3.3" height="3.3"/><rect x="117.91" y="92.89" width="3.3" height="3.3"/><rect x="120.11" y="92.89" width="3.3" height="3.3"/><rect x="120.11" y="97.02" width="3.3" height="3.3"/><rect x="122.43" y="97.02" width="3.3" height="3.3"/><rect x="124.76" y="97.02" width="3.3" height="3.3"/><rect x="127.21" y="95.47" width="3.3" height="3.3"/><rect x="129.54" y="97.02" width="3.3" height="3.3"/><rect x="134.31" y="95.21" width="3.3" height="3.3"/><rect x="143.74" y="97.02" width="3.3" height="3.3"/><rect x="168.93" y="98.83" width="3.3" height="3.3"/><rect x="108.87" y="98.83" width="3.3" height="3.3"/><rect x="113.39" y="100.38" width="3.3" height="3.3"/><rect x="113.39" y="103.87" width="3.3" height="3.3"/><rect x="113.39" y="105.81" width="3.3" height="3.3"/><rect x="108.87" y="102.19" width="3.3" height="3.3"/><rect x="124.76" y="103.87" width="3.3" height="3.3"/><rect x="132.12" y="103.87" width="3.3" height="3.3"/><rect x="141.16" y="102.19" width="3.3" height="3.3"/><rect x="145.68" y="102.19" width="3.3" height="3.3"/><rect x="148.26" y="103.87" width="3.3" height="3.3"/><rect x="150.20" y="103.87" width="3.3" height="3.3"/><rect x="157.30" y="103.87" width="3.3" height="3.3"/><rect x="157.30" y="105.81" width="3.3" height="3.3"/><rect x="159.63" y="102.19" width="3.3" height="3.3"/><rect x="120.11" y="109.42" width="3.3" height="3.3"/><rect x="127.21" y="111.23" width="3.3" height="3.3"/><rect x="132.12" y="109.42" width="3.3" height="3.3"/><rect x="138.58" y="109.42" width="3.3" height="3.3"/><rect x="148.26" y="109.42" width="3.3" height="3.3"/><rect x="108.87" y="111.23" width="3.3" height="3.3"/><rect x="115.72" y="112.91" width="3.3" height="3.3"/><rect x="129.54" y="114.59" width="3.3" height="3.3"/><rect x="134.31" y="116.40" width="3.3" height="3.3"/><rect x="143.74" y="118.46" width="3.3" height="3.3"/><rect x="159.63" y="116.40" width="3.3" height="3.3"/><rect x="168.93" y="118.46" width="3.3" height="3.3"/><rect x="120.11" y="118.46" width="3.3" height="3.3"/><rect x="132.12" y="120.01" width="3.3" height="3.3"/><rect x="134.31" y="120.01" width="3.3" height="3.3"/><rect x="108.87" y="121.95" width="3.3" height="3.3"/><rect x="113.39" y="121.95" width="3.3" height="3.3"/><rect x="117.91" y="123.89" width="3.3" height="3.3"/><rect x="120.11" y="125.44" width="3.3" height="3.3"/><rect x="124.76" y="123.89" width="3.3" height="3.3"/><rect x="129.54" y="123.89" width="3.3" height="3.3"/><rect x="132.12" y="125.44" width="3.3" height="3.3"/><rect x="136.64" y="123.89" width="3.3" height="3.3"/><rect x="145.68" y="123.89" width="3.3" height="3.3"/><rect x="154.98" y="121.95" width="3.3" height="3.3"/><rect x="108.87" y="127.50" width="3.3" height="3.3"/><rect x="111.07" y="127.50" width="3.3" height="3.3"/><rect x="122.43" y="127.50" width="3.3" height="3.3"/><rect x="127.21" y="127.50" width="3.3" height="3.3"/><rect x="117.91" y="125.18" width="3.3" height="3.3"/><rect x="108.87" y="131.38" width="3.3" height="3.3"/><rect x="111.07" y="131.38" width="3.3" height="3.3"/><rect x="115.72" y="132.93" width="3.3" height="3.3"/><rect x="124.76" y="129.70" width="3.3" height="3.3"/><rect x="127.21" y="131.38" width="3.3" height="3.3"/><rect x="127.21" y="132.93" width="3.3" height="3.3"/><rect x="132.12" y="132.93" width="3.3" height="3.3"/><rect x="134.31" y="131.38" width="3.3" height="3.3"/><rect x="134.31" y="132.93" width="3.3" height="3.3"/><rect x="138.58" y="131.38" width="3.3" height="3.3"/><rect x="150.20" y="132.93" width="3.3" height="3.3"/><rect x="157.30" y="132.93" width="3.3" height="3.3"/><rect x="176.04" y="96.81" width="3.3" height="3.3"/><rect x="173.48" y="100.37" width="3.3" height="3.3"/><rect x="171.49" y="102.22" width="3.3" height="3.3"/><rect x="180.31" y="102.22" width="3.3" height="3.3"/><rect x="182.87" y="104.21" width="3.3" height="3.3"/><rect x="187.43" y="96.81" width="3.3" height="3.3"/><rect x="196.39" y="95.10" width="3.3" height="3.3"/><rect x="194.26" y="102.22" width="3.3" height="3.3"/><rect x="191.98" y="104.21" width="3.3" height="3.3"/><rect x="205.93" y="103.93" width="3.3" height="3.3"/><rect x="200.95" y="109.33" width="3.3" height="3.3"/><rect x="203.37" y="111.04" width="3.3" height="3.3"/><rect x="226.56" y="109.33" width="3.3" height="3.3"/><rect x="231.26" y="113.18" width="3.3" height="3.3"/><rect x="221.87" y="114.60" width="3.3" height="3.3"/><rect x="235.81" y="116.73" width="3.3" height="3.3"/><rect x="173.48" y="118.44" width="3.3" height="3.3"/><rect x="175.76" y="120.29" width="3.3" height="3.3"/><rect x="182.87" y="116.73" width="3.3" height="3.3"/><rect x="196.39" y="122.14" width="3.3" height="3.3"/><rect x="208.06" y="120.29" width="3.3" height="3.3"/><rect x="210.62" y="118.44" width="3.3" height="3.3"/><rect x="212.76" y="120.29" width="3.3" height="3.3"/><rect x="217.31" y="118.44" width="3.3" height="3.3"/><rect x="122.43" y="136.29" width="3.3" height="3.3"/><rect x="124.76" y="136.29" width="3.3" height="3.3"/><rect x="129.54" y="135.64" width="3.3" height="3.3"/><rect x="132.12" y="136.29" width="3.3" height="3.3"/><rect x="134.31" y="136.29" width="3.3" height="3.3"/><rect x="138.58" y="136.29" width="3.3" height="3.3"/><rect x="152.78" y="136.29" width="3.3" height="3.3"/><rect x="108.87" y="138.22" width="3.3" height="3.3"/><rect x="111.07" y="138.22" width="3.3" height="3.3"/><rect x="117.91" y="137.58" width="3.3" height="3.3"/><rect x="117.91" y="139.52" width="3.3" height="3.3"/><rect x="127.21" y="139.52" width="3.3" height="3.3"/><rect x="129.54" y="139.52" width="3.3" height="3.3"/><rect x="132.12" y="138.22" width="3.3" height="3.3"/><rect x="108.87" y="141.45" width="3.3" height="3.3"/><rect x="111.07" y="143.13" width="3.3" height="3.3"/><rect x="117.91" y="141.45" width="3.3" height="3.3"/><rect x="122.43" y="143.39" width="3.3" height="3.3"/><rect x="127.21" y="141.45" width="3.3" height="3.3"/><rect x="134.31" y="142.10" width="3.3" height="3.3"/><rect x="161.83" y="143.39" width="3.3" height="3.3"/><rect x="108.87" y="145.33" width="3.3" height="3.3"/><rect x="111.07" y="147.01" width="3.3" height="3.3"/><rect x="113.39" y="145.33" width="3.3" height="3.3"/><rect x="108.87" y="153.72" width="3.3" height="3.3"/><rect x="111.07" y="153.72" width="3.3" height="3.3"/><rect x="113.39" y="153.72" width="3.3" height="3.3"/><rect x="115.72" y="153.08" width="3.3" height="3.3"/><rect x="108.87" y="157.60" width="3.3" height="3.3"/><rect x="108.87" y="159.54" width="3.3" height="3.3"/><rect x="108.87" y="161.47" width="3.3" height="3.3"/><rect x="111.07" y="159.54" width="3.3" height="3.3"/><rect x="113.39" y="157.60" width="3.3" height="3.3"/><rect x="113.39" y="161.47" width="3.3" height="3.3"/><rect x="115.72" y="156.31" width="3.3" height="3.3"/><rect x="115.72" y="158.89" width="3.3" height="3.3"/><rect x="117.91" y="157.60" width="3.3" height="3.3"/><rect x="120.11" y="158.89" width="3.3" height="3.3"/><rect x="122.43" y="157.60" width="3.3" height="3.3"/><rect x="122.43" y="159.54" width="3.3" height="3.3"/><rect x="122.43" y="161.47" width="3.3" height="3.3"/><rect x="124.76" y="159.54" width="3.3" height="3.3"/><rect x="124.76" y="161.47" width="3.3" height="3.3"/><rect x="127.21" y="157.60" width="3.3" height="3.3"/><rect x="127.21" y="161.47" width="3.3" height="3.3"/><rect x="129.54" y="158.89" width="3.3" height="3.3"/><rect x="132.12" y="159.54" width="3.3" height="3.3"/><rect x="134.31" y="159.54" width="3.3" height="3.3"/><rect x="136.64" y="159.54" width="3.3" height="3.3"/><rect x="143.10" y="160.18" width="3.3" height="3.3"/><rect x="148.26" y="155.66" width="3.3" height="3.3"/><rect x="148.26" y="161.47" width="3.3" height="3.3"/><rect x="152.78" y="160.18" width="3.3" height="3.3"/><rect x="108.87" y="163.41" width="3.3" height="3.3"/><rect x="108.87" y="165.35" width="3.3" height="3.3"/><rect x="108.87" y="167.29" width="3.3" height="3.3"/><rect x="108.87" y="169.22" width="3.3" height="3.3"/><rect x="108.87" y="171.16" width="3.3" height="3.3"/><rect x="111.07" y="165.35" width="3.3" height="3.3"/><rect x="111.07" y="169.22" width="3.3" height="3.3"/><rect x="113.39" y="167.29" width="3.3" height="3.3"/><rect x="115.72" y="165.35" width="3.3" height="3.3"/><rect x="117.91" y="163.41" width="3.3" height="3.3"/><rect x="117.91" y="169.22" width="3.3" height="3.3"/><rect x="120.11" y="165.35" width="3.3" height="3.3"/><rect x="122.43" y="167.29" width="3.3" height="3.3"/><rect x="124.76" y="167.29" width="3.3" height="3.3"/><rect x="124.76" y="169.22" width="3.3" height="3.3"/><rect x="124.76" y="171.16" width="3.3" height="3.3"/><rect x="127.21" y="167.29" width="3.3" height="3.3"/><rect x="129.54" y="167.29" width="3.3" height="3.3"/><rect x="132.12" y="165.35" width="3.3" height="3.3"/><rect x="132.12" y="167.29" width="3.3" height="3.3"/><rect x="132.12" y="169.22" width="3.3" height="3.3"/><rect x="132.12" y="171.16" width="3.3" height="3.3"/><rect x="134.31" y="163.41" width="3.3" height="3.3"/><rect x="134.31" y="165.35" width="3.3" height="3.3"/><rect x="134.31" y="167.29" width="3.3" height="3.3"/><rect x="134.31" y="169.22" width="3.3" height="3.3"/><rect x="134.31" y="171.16" width="3.3" height="3.3"/><rect x="136.64" y="167.29" width="3.3" height="3.3"/><rect x="139.22" y="169.22" width="3.3" height="3.3"/><rect x="141.16" y="165.35" width="3.3" height="3.3"/><rect x="143.10" y="171.16" width="3.3" height="3.3"/><rect x="148.26" y="165.35" width="3.3" height="3.3"/><rect x="150.20" y="173.10" width="3.3" height="3.3"/><rect x="154.98" y="165.35" width="3.3" height="3.3"/><rect x="159.63" y="165.35" width="3.3" height="3.3"/><rect x="161.83" y="165.35" width="3.3" height="3.3"/><rect x="159.63" y="169.22" width="3.3" height="3.3"/><rect x="166.99" y="169.22" width="3.3" height="3.3"/><rect x="168.93" y="171.16" width="3.3" height="3.3"/><rect x="108.87" y="173.10" width="3.3" height="3.3"/><rect x="108.87" y="175.03" width="3.3" height="3.3"/><rect x="111.07" y="175.03" width="3.3" height="3.3"/><rect x="113.39" y="175.03" width="3.3" height="3.3"/><rect x="115.72" y="175.03" width="3.3" height="3.3"/><rect x="117.91" y="175.03" width="3.3" height="3.3"/><rect x="120.11" y="175.03" width="3.3" height="3.3"/><rect x="122.43" y="173.10" width="3.3" height="3.3"/><rect x="122.43" y="175.03" width="3.3" height="3.3"/><rect x="124.76" y="173.10" width="3.3" height="3.3"/><rect x="129.54" y="176.33" width="3.3" height="3.3"/><rect x="134.31" y="176.33" width="3.3" height="3.3"/><rect x="143.10" y="173.10" width="3.3" height="3.3"/><rect x="148.26" y="175.03" width="3.3" height="3.3"/><rect x="152.78" y="175.03" width="3.3" height="3.3"/><rect x="159.63" y="176.33" width="3.3" height="3.3"/><rect x="168.93" y="173.10" width="3.3" height="3.3"/><rect x="168.93" y="175.03" width="3.3" height="3.3"/><rect x="108.87" y="178.91" width="3.3" height="3.3"/><rect x="111.07" y="178.26" width="3.3" height="3.3"/><rect x="117.91" y="178.26" width="3.3" height="3.3"/><rect x="124.76" y="178.26" width="3.3" height="3.3"/><rect x="127.21" y="180.20" width="3.3" height="3.3"/><rect x="134.31" y="178.26" width="3.3" height="3.3"/><rect x="136.64" y="180.20" width="3.3" height="3.3"/><rect x="138.58" y="179.56" width="3.3" height="3.3"/><rect x="161.83" y="178.26" width="3.3" height="3.3"/><rect x="129.54" y="185.37" width="3.3" height="3.3"/><rect x="132.12" y="183.43" width="3.3" height="3.3"/><rect x="141.16" y="185.37" width="3.3" height="3.3"/><rect x="113.39" y="187.30" width="3.3" height="3.3"/><rect x="154.98" y="187.30" width="3.3" height="3.3"/><rect x="108.87" y="189.24" width="3.3" height="3.3"/><rect x="115.72" y="190.53" width="3.3" height="3.3"/><rect x="145.68" y="190.53" width="3.3" height="3.3"/><rect x="150.20" y="190.53" width="3.3" height="3.3"/><rect x="108.87" y="194.41" width="3.3" height="3.3"/><rect x="113.39" y="194.41" width="3.3" height="3.3"/><rect x="120.11" y="193.76" width="3.3" height="3.3"/><rect x="120.11" y="195.70" width="3.3" height="3.3"/><rect x="122.43" y="195.70" width="3.3" height="3.3"/><rect x="134.31" y="194.41" width="3.3" height="3.3"/><rect x="148.26" y="194.41" width="3.3" height="3.3"/><rect x="166.99" y="194.41" width="3.3" height="3.3"/><rect x="129.54" y="197.90" width="3.3" height="3.3"/><rect x="132.12" y="197.90" width="3.3" height="3.3"/><rect x="189.56" y="143.60" width="3.3" height="3.3"/><rect x="171.49" y="145.45" width="3.3" height="3.3"/><rect x="175.76" y="161.67" width="3.3" height="3.3"/><rect x="180.31" y="163.52" width="3.3" height="3.3"/><rect x="178.18" y="167.37" width="3.3" height="3.3"/><rect x="182.87" y="167.37" width="3.3" height="3.3"/><rect x="189.56" y="167.37" width="3.3" height="3.3"/><rect x="196.39" y="167.37" width="3.3" height="3.3"/><rect x="210.62" y="165.37" width="3.3" height="3.3"/><rect x="208.06" y="168.79" width="3.3" height="3.3"/><rect x="173.48" y="172.49" width="3.3" height="3.3"/><rect x="175.76" y="172.49" width="3.3" height="3.3"/><rect x="175.76" y="176.33" width="3.3" height="3.3"/><rect x="185.29" y="174.48" width="3.3" height="3.3"/><rect x="187.43" y="172.49" width="3.3" height="3.3"/><rect x="191.98" y="174.48" width="3.3" height="3.3"/><rect x="194.26" y="174.48" width="3.3" height="3.3"/><rect x="198.81" y="174.48" width="3.3" height="3.3"/><rect x="198.81" y="176.33" width="3.3" height="3.3"/><rect x="201.37" y="172.49" width="3.3" height="3.3"/><rect x="205.93" y="172.49" width="3.3" height="3.3"/><rect x="217.31" y="172.49" width="3.3" height="3.3"/><rect x="226.56" y="174.48" width="3.3" height="3.3"/><rect x="178.18" y="179.89" width="3.3" height="3.3"/><rect x="185.29" y="181.31" width="3.3" height="3.3"/><rect x="189.56" y="177.75" width="3.3" height="3.3"/><rect x="194.26" y="177.75" width="3.3" height="3.3"/><rect x="196.39" y="179.89" width="3.3" height="3.3"/><rect x="203.37" y="177.75" width="3.3" height="3.3"/><rect x="208.06" y="177.75" width="3.3" height="3.3"/><rect x="212.76" y="177.75" width="3.3" height="3.3"/><rect x="212.76" y="181.31" width="3.3" height="3.3"/><rect x="219.45" y="179.60" width="3.3" height="3.3"/><rect x="221.87" y="181.31" width="3.3" height="3.3"/><rect x="226.56" y="183.45" width="3.3" height="3.3"/><rect x="228.70" y="183.45" width="3.3" height="3.3"/><rect x="231.26" y="184.87" width="3.3" height="3.3"/><rect x="235.81" y="183.45" width="3.3" height="3.3"/><rect x="217.31" y="184.87" width="3.3" height="3.3"/><rect x="210.62" y="187.00" width="3.3" height="3.3"/><rect x="127.35" y="201.35" width="3.3" height="3.3"/></g>
<g fill="#1f3a58"><rect x="111.82" y="92.50" width="1.8" height="1.5"/><rect x="114.14" y="93.79" width="1.8" height="1.5"/><rect x="116.47" y="93.79" width="1.8" height="1.5"/><rect x="118.66" y="93.79" width="1.8" height="1.5"/><rect x="120.86" y="93.79" width="1.8" height="1.5"/><rect x="120.86" y="97.92" width="1.8" height="1.5"/><rect x="123.18" y="97.92" width="1.8" height="1.5"/><rect x="125.51" y="97.92" width="1.8" height="1.5"/><rect x="127.96" y="96.37" width="1.8" height="1.5"/><rect x="130.29" y="97.92" width="1.8" height="1.5"/><rect x="135.06" y="96.11" width="1.8" height="1.5"/><rect x="144.49" y="97.92" width="1.8" height="1.5"/><rect x="169.68" y="99.73" width="1.8" height="1.5"/><rect x="109.62" y="99.73" width="1.8" height="1.5"/><rect x="114.14" y="101.28" width="1.8" height="1.5"/><rect x="114.14" y="104.77" width="1.8" height="1.5"/><rect x="114.14" y="106.71" width="1.8" height="1.5"/><rect x="109.62" y="103.09" width="1.8" height="1.5"/><rect x="125.51" y="104.77" width="1.8" height="1.5"/><rect x="132.87" y="104.77" width="1.8" height="1.5"/><rect x="141.91" y="103.09" width="1.8" height="1.5"/><rect x="146.43" y="103.09" width="1.8" height="1.5"/><rect x="149.01" y="104.77" width="1.8" height="1.5"/><rect x="150.95" y="104.77" width="1.8" height="1.5"/><rect x="158.05" y="104.77" width="1.8" height="1.5"/><rect x="158.05" y="106.71" width="1.8" height="1.5"/><rect x="160.38" y="103.09" width="1.8" height="1.5"/><rect x="120.86" y="110.32" width="1.8" height="1.5"/><rect x="127.96" y="112.13" width="1.8" height="1.5"/><rect x="132.87" y="110.32" width="1.8" height="1.5"/><rect x="139.33" y="110.32" width="1.8" height="1.5"/><rect x="149.01" y="110.32" width="1.8" height="1.5"/><rect x="109.62" y="112.13" width="1.8" height="1.5"/><rect x="116.47" y="113.81" width="1.8" height="1.5"/><rect x="130.29" y="115.49" width="1.8" height="1.5"/><rect x="135.06" y="117.30" width="1.8" height="1.5"/><rect x="144.49" y="119.36" width="1.8" height="1.5"/><rect x="160.38" y="117.30" width="1.8" height="1.5"/><rect x="169.68" y="119.36" width="1.8" height="1.5"/><rect x="120.86" y="119.36" width="1.8" height="1.5"/><rect x="132.87" y="120.91" width="1.8" height="1.5"/><rect x="135.06" y="120.91" width="1.8" height="1.5"/><rect x="109.62" y="122.85" width="1.8" height="1.5"/><rect x="114.14" y="122.85" width="1.8" height="1.5"/><rect x="118.66" y="124.79" width="1.8" height="1.5"/><rect x="120.86" y="126.34" width="1.8" height="1.5"/><rect x="125.51" y="124.79" width="1.8" height="1.5"/><rect x="130.29" y="124.79" width="1.8" height="1.5"/><rect x="132.87" y="126.34" width="1.8" height="1.5"/><rect x="137.39" y="124.79" width="1.8" height="1.5"/><rect x="146.43" y="124.79" width="1.8" height="1.5"/><rect x="155.73" y="122.85" width="1.8" height="1.5"/><rect x="109.62" y="128.40" width="1.8" height="1.5"/><rect x="111.82" y="128.40" width="1.8" height="1.5"/><rect x="123.18" y="128.40" width="1.8" height="1.5"/><rect x="127.96" y="128.40" width="1.8" height="1.5"/><rect x="118.66" y="126.08" width="1.8" height="1.5"/><rect x="109.62" y="132.28" width="1.8" height="1.5"/><rect x="111.82" y="132.28" width="1.8" height="1.5"/><rect x="116.47" y="133.83" width="1.8" height="1.5"/><rect x="125.51" y="130.60" width="1.8" height="1.5"/><rect x="127.96" y="132.28" width="1.8" height="1.5"/><rect x="127.96" y="133.83" width="1.8" height="1.5"/><rect x="132.87" y="133.83" width="1.8" height="1.5"/><rect x="135.06" y="132.28" width="1.8" height="1.5"/><rect x="135.06" y="133.83" width="1.8" height="1.5"/><rect x="139.33" y="132.28" width="1.8" height="1.5"/><rect x="150.95" y="133.83" width="1.8" height="1.5"/><rect x="158.05" y="133.83" width="1.8" height="1.5"/><rect x="176.79" y="97.71" width="1.8" height="1.5"/><rect x="174.23" y="101.27" width="1.8" height="1.5"/><rect x="172.24" y="103.12" width="1.8" height="1.5"/><rect x="181.06" y="103.12" width="1.8" height="1.5"/><rect x="183.62" y="105.11" width="1.8" height="1.5"/><rect x="188.18" y="97.71" width="1.8" height="1.5"/><rect x="197.14" y="96.00" width="1.8" height="1.5"/><rect x="195.01" y="103.12" width="1.8" height="1.5"/><rect x="192.73" y="105.11" width="1.8" height="1.5"/><rect x="206.68" y="104.83" width="1.8" height="1.5"/><rect x="201.70" y="110.23" width="1.8" height="1.5"/><rect x="204.12" y="111.94" width="1.8" height="1.5"/><rect x="227.31" y="110.23" width="1.8" height="1.5"/><rect x="232.01" y="114.08" width="1.8" height="1.5"/><rect x="222.62" y="115.50" width="1.8" height="1.5"/><rect x="236.56" y="117.63" width="1.8" height="1.5"/><rect x="174.23" y="119.34" width="1.8" height="1.5"/><rect x="176.51" y="121.19" width="1.8" height="1.5"/><rect x="183.62" y="117.63" width="1.8" height="1.5"/><rect x="197.14" y="123.04" width="1.8" height="1.5"/><rect x="208.81" y="121.19" width="1.8" height="1.5"/><rect x="211.37" y="119.34" width="1.8" height="1.5"/><rect x="213.51" y="121.19" width="1.8" height="1.5"/><rect x="218.06" y="119.34" width="1.8" height="1.5"/><rect x="123.18" y="137.19" width="1.8" height="1.5"/><rect x="125.51" y="137.19" width="1.8" height="1.5"/><rect x="130.29" y="136.54" width="1.8" height="1.5"/><rect x="132.87" y="137.19" width="1.8" height="1.5"/><rect x="135.06" y="137.19" width="1.8" height="1.5"/><rect x="139.33" y="137.19" width="1.8" height="1.5"/><rect x="153.53" y="137.19" width="1.8" height="1.5"/><rect x="109.62" y="139.12" width="1.8" height="1.5"/><rect x="111.82" y="139.12" width="1.8" height="1.5"/><rect x="118.66" y="138.48" width="1.8" height="1.5"/><rect x="118.66" y="140.42" width="1.8" height="1.5"/><rect x="127.96" y="140.42" width="1.8" height="1.5"/><rect x="130.29" y="140.42" width="1.8" height="1.5"/><rect x="132.87" y="139.12" width="1.8" height="1.5"/><rect x="109.62" y="142.35" width="1.8" height="1.5"/><rect x="111.82" y="144.03" width="1.8" height="1.5"/><rect x="118.66" y="142.35" width="1.8" height="1.5"/><rect x="123.18" y="144.29" width="1.8" height="1.5"/><rect x="127.96" y="142.35" width="1.8" height="1.5"/><rect x="135.06" y="143.00" width="1.8" height="1.5"/><rect x="162.58" y="144.29" width="1.8" height="1.5"/><rect x="109.62" y="146.23" width="1.8" height="1.5"/><rect x="111.82" y="147.91" width="1.8" height="1.5"/><rect x="114.14" y="146.23" width="1.8" height="1.5"/><rect x="109.62" y="154.62" width="1.8" height="1.5"/><rect x="111.82" y="154.62" width="1.8" height="1.5"/><rect x="114.14" y="154.62" width="1.8" height="1.5"/><rect x="116.47" y="153.98" width="1.8" height="1.5"/><rect x="109.62" y="158.50" width="1.8" height="1.5"/><rect x="109.62" y="160.44" width="1.8" height="1.5"/><rect x="109.62" y="162.37" width="1.8" height="1.5"/><rect x="111.82" y="160.44" width="1.8" height="1.5"/><rect x="114.14" y="158.50" width="1.8" height="1.5"/><rect x="114.14" y="162.37" width="1.8" height="1.5"/><rect x="116.47" y="157.21" width="1.8" height="1.5"/><rect x="116.47" y="159.79" width="1.8" height="1.5"/><rect x="118.66" y="158.50" width="1.8" height="1.5"/><rect x="120.86" y="159.79" width="1.8" height="1.5"/><rect x="123.18" y="158.50" width="1.8" height="1.5"/><rect x="123.18" y="160.44" width="1.8" height="1.5"/><rect x="123.18" y="162.37" width="1.8" height="1.5"/><rect x="125.51" y="160.44" width="1.8" height="1.5"/><rect x="125.51" y="162.37" width="1.8" height="1.5"/><rect x="127.96" y="158.50" width="1.8" height="1.5"/><rect x="127.96" y="162.37" width="1.8" height="1.5"/><rect x="130.29" y="159.79" width="1.8" height="1.5"/><rect x="132.87" y="160.44" width="1.8" height="1.5"/><rect x="135.06" y="160.44" width="1.8" height="1.5"/><rect x="137.39" y="160.44" width="1.8" height="1.5"/><rect x="143.85" y="161.08" width="1.8" height="1.5"/><rect x="149.01" y="156.56" width="1.8" height="1.5"/><rect x="149.01" y="162.37" width="1.8" height="1.5"/><rect x="153.53" y="161.08" width="1.8" height="1.5"/><rect x="109.62" y="164.31" width="1.8" height="1.5"/><rect x="109.62" y="166.25" width="1.8" height="1.5"/><rect x="109.62" y="168.19" width="1.8" height="1.5"/><rect x="109.62" y="170.12" width="1.8" height="1.5"/><rect x="109.62" y="172.06" width="1.8" height="1.5"/><rect x="111.82" y="166.25" width="1.8" height="1.5"/><rect x="111.82" y="170.12" width="1.8" height="1.5"/><rect x="114.14" y="168.19" width="1.8" height="1.5"/><rect x="116.47" y="166.25" width="1.8" height="1.5"/><rect x="118.66" y="164.31" width="1.8" height="1.5"/><rect x="118.66" y="170.12" width="1.8" height="1.5"/><rect x="120.86" y="166.25" width="1.8" height="1.5"/><rect x="123.18" y="168.19" width="1.8" height="1.5"/><rect x="125.51" y="168.19" width="1.8" height="1.5"/><rect x="125.51" y="170.12" width="1.8" height="1.5"/><rect x="125.51" y="172.06" width="1.8" height="1.5"/><rect x="127.96" y="168.19" width="1.8" height="1.5"/><rect x="130.29" y="168.19" width="1.8" height="1.5"/><rect x="132.87" y="166.25" width="1.8" height="1.5"/><rect x="132.87" y="168.19" width="1.8" height="1.5"/><rect x="132.87" y="170.12" width="1.8" height="1.5"/><rect x="132.87" y="172.06" width="1.8" height="1.5"/><rect x="135.06" y="164.31" width="1.8" height="1.5"/><rect x="135.06" y="166.25" width="1.8" height="1.5"/><rect x="135.06" y="168.19" width="1.8" height="1.5"/><rect x="135.06" y="170.12" width="1.8" height="1.5"/><rect x="135.06" y="172.06" width="1.8" height="1.5"/><rect x="137.39" y="168.19" width="1.8" height="1.5"/><rect x="139.97" y="170.12" width="1.8" height="1.5"/><rect x="141.91" y="166.25" width="1.8" height="1.5"/><rect x="143.85" y="172.06" width="1.8" height="1.5"/><rect x="149.01" y="166.25" width="1.8" height="1.5"/><rect x="150.95" y="174.00" width="1.8" height="1.5"/><rect x="155.73" y="166.25" width="1.8" height="1.5"/><rect x="160.38" y="166.25" width="1.8" height="1.5"/><rect x="162.58" y="166.25" width="1.8" height="1.5"/><rect x="160.38" y="170.12" width="1.8" height="1.5"/><rect x="167.74" y="170.12" width="1.8" height="1.5"/><rect x="169.68" y="172.06" width="1.8" height="1.5"/><rect x="109.62" y="174.00" width="1.8" height="1.5"/><rect x="109.62" y="175.93" width="1.8" height="1.5"/><rect x="111.82" y="175.93" width="1.8" height="1.5"/><rect x="114.14" y="175.93" width="1.8" height="1.5"/><rect x="116.47" y="175.93" width="1.8" height="1.5"/><rect x="118.66" y="175.93" width="1.8" height="1.5"/><rect x="120.86" y="175.93" width="1.8" height="1.5"/><rect x="123.18" y="174.00" width="1.8" height="1.5"/><rect x="123.18" y="175.93" width="1.8" height="1.5"/><rect x="125.51" y="174.00" width="1.8" height="1.5"/><rect x="130.29" y="177.23" width="1.8" height="1.5"/><rect x="135.06" y="177.23" width="1.8" height="1.5"/><rect x="143.85" y="174.00" width="1.8" height="1.5"/><rect x="149.01" y="175.93" width="1.8" height="1.5"/><rect x="153.53" y="175.93" width="1.8" height="1.5"/><rect x="160.38" y="177.23" width="1.8" height="1.5"/><rect x="169.68" y="174.00" width="1.8" height="1.5"/><rect x="169.68" y="175.93" width="1.8" height="1.5"/><rect x="109.62" y="179.81" width="1.8" height="1.5"/><rect x="111.82" y="179.16" width="1.8" height="1.5"/><rect x="118.66" y="179.16" width="1.8" height="1.5"/><rect x="125.51" y="179.16" width="1.8" height="1.5"/><rect x="127.96" y="181.10" width="1.8" height="1.5"/><rect x="135.06" y="179.16" width="1.8" height="1.5"/><rect x="137.39" y="181.10" width="1.8" height="1.5"/><rect x="139.33" y="180.46" width="1.8" height="1.5"/><rect x="162.58" y="179.16" width="1.8" height="1.5"/><rect x="130.29" y="186.27" width="1.8" height="1.5"/><rect x="132.87" y="184.33" width="1.8" height="1.5"/><rect x="141.91" y="186.27" width="1.8" height="1.5"/><rect x="114.14" y="188.20" width="1.8" height="1.5"/><rect x="155.73" y="188.20" width="1.8" height="1.5"/><rect x="109.62" y="190.14" width="1.8" height="1.5"/><rect x="116.47" y="191.43" width="1.8" height="1.5"/><rect x="146.43" y="191.43" width="1.8" height="1.5"/><rect x="150.95" y="191.43" width="1.8" height="1.5"/><rect x="109.62" y="195.31" width="1.8" height="1.5"/><rect x="114.14" y="195.31" width="1.8" height="1.5"/><rect x="120.86" y="194.66" width="1.8" height="1.5"/><rect x="120.86" y="196.60" width="1.8" height="1.5"/><rect x="123.18" y="196.60" width="1.8" height="1.5"/><rect x="135.06" y="195.31" width="1.8" height="1.5"/><rect x="149.01" y="195.31" width="1.8" height="1.5"/><rect x="167.74" y="195.31" width="1.8" height="1.5"/><rect x="130.29" y="198.80" width="1.8" height="1.5"/><rect x="132.87" y="198.80" width="1.8" height="1.5"/><rect x="190.31" y="144.50" width="1.8" height="1.5"/><rect x="172.24" y="146.35" width="1.8" height="1.5"/><rect x="176.51" y="162.57" width="1.8" height="1.5"/><rect x="181.06" y="164.42" width="1.8" height="1.5"/><rect x="178.93" y="168.27" width="1.8" height="1.5"/><rect x="183.62" y="168.27" width="1.8" height="1.5"/><rect x="190.31" y="168.27" width="1.8" height="1.5"/><rect x="197.14" y="168.27" width="1.8" height="1.5"/><rect x="211.37" y="166.27" width="1.8" height="1.5"/><rect x="208.81" y="169.69" width="1.8" height="1.5"/><rect x="174.23" y="173.39" width="1.8" height="1.5"/><rect x="176.51" y="173.39" width="1.8" height="1.5"/><rect x="176.51" y="177.23" width="1.8" height="1.5"/><rect x="186.04" y="175.38" width="1.8" height="1.5"/><rect x="188.18" y="173.39" width="1.8" height="1.5"/><rect x="192.73" y="175.38" width="1.8" height="1.5"/><rect x="195.01" y="175.38" width="1.8" height="1.5"/><rect x="199.56" y="175.38" width="1.8" height="1.5"/><rect x="199.56" y="177.23" width="1.8" height="1.5"/><rect x="202.12" y="173.39" width="1.8" height="1.5"/><rect x="206.68" y="173.39" width="1.8" height="1.5"/><rect x="218.06" y="173.39" width="1.8" height="1.5"/><rect x="227.31" y="175.38" width="1.8" height="1.5"/><rect x="178.93" y="180.79" width="1.8" height="1.5"/><rect x="186.04" y="182.21" width="1.8" height="1.5"/><rect x="190.31" y="178.65" width="1.8" height="1.5"/><rect x="195.01" y="178.65" width="1.8" height="1.5"/><rect x="197.14" y="180.79" width="1.8" height="1.5"/><rect x="204.12" y="178.65" width="1.8" height="1.5"/><rect x="208.81" y="178.65" width="1.8" height="1.5"/><rect x="213.51" y="178.65" width="1.8" height="1.5"/><rect x="213.51" y="182.21" width="1.8" height="1.5"/><rect x="220.20" y="180.50" width="1.8" height="1.5"/><rect x="222.62" y="182.21" width="1.8" height="1.5"/><rect x="227.31" y="184.35" width="1.8" height="1.5"/><rect x="229.45" y="184.35" width="1.8" height="1.5"/><rect x="232.01" y="185.77" width="1.8" height="1.5"/><rect x="236.56" y="184.35" width="1.8" height="1.5"/><rect x="218.06" y="185.77" width="1.8" height="1.5"/><rect x="211.37" y="187.90" width="1.8" height="1.5"/><rect x="128.10" y="202.25" width="1.8" height="1.5"/></g>
<line x1="53.03" y1="137.00" x2="108.30" y2="153.72" stroke="#c0345a" stroke-width="1.15"/>
<line x1="110.60" y1="151.59" x2="237.27" y2="153.67" stroke="#4f5e73" stroke-width="1.15"/>
<path d="M314.30,99.70 L315.68,100.19 L317.06,100.68 L318.44,101.17 L319.82,101.66 L321.20,102.14 L322.58,102.62 L323.96,103.10 L325.34,103.57 L326.72,104.04 L328.10,104.50 L329.48,104.95 L330.86,105.40 L332.24,105.84 L333.62,106.28 L335.00,106.70 L336.38,107.11 L337.76,107.51 L339.14,107.90 L340.52,108.27 L341.90,108.63 L343.28,108.96 L344.66,109.28 L346.04,109.57 L347.42,109.84 L348.80,110.08 L350.18,110.31 L351.56,110.50 L352.94,110.68 L354.32,110.83 L355.70,110.97 L357.08,111.08 L358.46,111.18 L359.84,111.26 L361.22,111.32 L362.60,111.38 L363.98,111.42 L365.36,111.46 L366.74,111.48 L368.12,111.50 L369.50,111.52 L369.50,122.60 L368.12,122.14 L366.74,121.69 L365.36,121.25 L363.98,120.82 L362.60,120.39 L361.22,119.98 L359.84,119.58 L358.46,119.19 L357.08,118.82 L355.70,118.47 L354.32,118.13 L352.94,117.82 L351.56,117.53 L350.18,117.26 L348.80,117.01 L347.42,116.79 L346.04,116.59 L344.66,116.42 L343.28,116.26 L341.90,116.13 L340.52,116.02 L339.14,115.92 L337.76,115.84 L336.38,115.77 L335.00,115.72 L333.62,115.67 L332.24,115.64 L330.86,115.61 L329.48,115.59 L328.10,115.58 L326.72,115.57 L325.34,115.57 L323.96,115.58 L322.58,115.59 L321.20,115.60 L319.82,115.61 L318.44,115.63 L317.06,115.65 L315.68,115.67 L314.30,115.70 Z" fill="#c4c6cb" fill-opacity="0.75"/>
<path d="M371.80,114.40 L374.96,114.58 L378.12,114.73 L381.29,114.86 L384.45,114.95 L387.61,115.01 L390.77,115.03 L393.94,115.03 L397.10,114.99 L400.26,114.92 L403.43,114.83 L406.59,114.71 L409.75,114.57 L412.91,114.41 L416.07,114.24 L419.24,114.06 L422.40,113.86 L425.56,113.66 L428.73,113.45 L431.89,113.23 L435.05,113.00 L438.21,112.77 L441.38,112.53 L444.54,112.29 L447.70,112.05 L450.86,111.81 L454.02,111.56 L457.19,111.31 L460.35,111.05 L463.51,110.80 L466.68,110.54 L469.84,110.28 L473.00,110.03 L476.16,109.77 L479.32,109.50 L482.49,109.24 L485.65,108.98 L488.81,108.71 L491.98,108.45 L495.14,108.18 L498.30,107.92 L498.30,130.90 L495.14,130.55 L491.98,130.20 L488.81,129.86 L485.65,129.52 L482.49,129.17 L479.32,128.83 L476.16,128.49 L473.00,128.15 L469.84,127.81 L466.68,127.47 L463.51,127.13 L460.35,126.80 L457.19,126.47 L454.02,126.14 L450.86,125.81 L447.70,125.48 L444.54,125.16 L441.38,124.84 L438.21,124.53 L435.05,124.21 L431.89,123.91 L428.73,123.61 L425.56,123.32 L422.40,123.03 L419.24,122.76 L416.07,122.49 L412.91,122.24 L409.75,122.00 L406.59,121.79 L403.43,121.59 L400.26,121.41 L397.10,121.27 L393.94,121.15 L390.77,121.06 L387.61,121.01 L384.45,120.99 L381.29,121.00 L378.12,121.04 L374.96,121.12 L371.80,121.22 Z" fill="#c4c6cb" fill-opacity="0.75"/>
<g fill="#f8dbe3"><rect x="337.19" y="35.52" width="3.3" height="3.3"/><rect x="339.51" y="35.52" width="3.3" height="3.3"/><rect x="341.84" y="35.52" width="3.3" height="3.3"/><rect x="346.62" y="37.20" width="3.3" height="3.3"/><rect x="348.81" y="37.20" width="3.3" height="3.3"/><rect x="355.66" y="37.20" width="3.3" height="3.3"/><rect x="358.24" y="39.14" width="3.3" height="3.3"/><rect x="341.84" y="42.76" width="3.3" height="3.3"/><rect x="351.40" y="42.76" width="3.3" height="3.3"/><rect x="367.67" y="42.76" width="3.3" height="3.3"/><rect x="312.13" y="48.18" width="3.3" height="3.3"/><rect x="334.99" y="50.12" width="3.3" height="3.3"/><rect x="334.99" y="53.61" width="3.3" height="3.3"/><rect x="365.35" y="50.12" width="3.3" height="3.3"/><rect x="367.93" y="50.12" width="3.3" height="3.3"/><rect x="314.33" y="55.29" width="3.3" height="3.3"/><rect x="330.47" y="60.84" width="3.3" height="3.3"/><rect x="318.85" y="66.26" width="3.3" height="3.3"/><rect x="318.85" y="67.81" width="3.3" height="3.3"/><rect x="321.43" y="66.26" width="3.3" height="3.3"/><rect x="327.89" y="66.26" width="3.3" height="3.3"/><rect x="341.84" y="66.26" width="3.3" height="3.3"/><rect x="346.62" y="66.26" width="3.3" height="3.3"/><rect x="362.76" y="66.26" width="3.3" height="3.3"/><rect x="365.09" y="66.26" width="3.3" height="3.3"/><rect x="325.95" y="69.88" width="3.3" height="3.3"/><rect x="325.95" y="71.69" width="3.3" height="3.3"/><rect x="334.99" y="71.69" width="3.3" height="3.3"/><rect x="337.19" y="73.37" width="3.3" height="3.3"/><rect x="339.51" y="75.30" width="3.3" height="3.3"/><rect x="344.42" y="75.30" width="3.3" height="3.3"/><rect x="351.40" y="71.69" width="3.3" height="3.3"/><rect x="351.40" y="75.30" width="3.3" height="3.3"/><rect x="351.40" y="77.24" width="3.3" height="3.3"/><rect x="355.66" y="69.88" width="3.3" height="3.3"/><rect x="355.66" y="77.24" width="3.3" height="3.3"/><rect x="360.18" y="75.30" width="3.3" height="3.3"/><rect x="362.76" y="75.30" width="3.3" height="3.3"/><rect x="365.09" y="71.69" width="3.3" height="3.3"/><rect x="367.67" y="69.88" width="3.3" height="3.3"/><rect x="367.67" y="71.69" width="3.3" height="3.3"/><rect x="367.67" y="77.24" width="3.3" height="3.3"/><rect x="312.13" y="75.30" width="3.3" height="3.3"/><rect x="312.13" y="77.24" width="3.3" height="3.3"/><rect x="312.13" y="79.18" width="3.3" height="3.3"/><rect x="316.27" y="73.37" width="3.3" height="3.3"/><rect x="314.33" y="80.73" width="3.3" height="3.3"/><rect x="316.91" y="79.18" width="3.3" height="3.3"/><rect x="314.33" y="82.41" width="3.3" height="3.3"/><rect x="318.85" y="82.41" width="3.3" height="3.3"/><rect x="318.85" y="84.35" width="3.3" height="3.3"/><rect x="321.43" y="84.35" width="3.3" height="3.3"/><rect x="323.76" y="82.41" width="3.3" height="3.3"/><rect x="323.76" y="80.73" width="3.3" height="3.3"/><rect x="325.95" y="80.73" width="3.3" height="3.3"/><rect x="330.47" y="82.41" width="3.3" height="3.3"/><rect x="334.99" y="79.18" width="3.3" height="3.3"/><rect x="337.19" y="79.18" width="3.3" height="3.3"/><rect x="341.84" y="79.18" width="3.3" height="3.3"/><rect x="348.81" y="80.73" width="3.3" height="3.3"/><rect x="355.66" y="80.73" width="3.3" height="3.3"/><rect x="358.24" y="80.73" width="3.3" height="3.3"/><rect x="362.76" y="80.73" width="3.3" height="3.3"/><rect x="365.09" y="82.41" width="3.3" height="3.3"/><rect x="367.67" y="80.73" width="3.3" height="3.3"/><rect x="367.67" y="82.41" width="3.3" height="3.3"/><rect x="314.33" y="85.64" width="3.3" height="3.3"/><rect x="319.11" y="85.64" width="3.3" height="3.3"/><rect x="323.76" y="85.64" width="3.3" height="3.3"/><rect x="325.95" y="85.64" width="3.3" height="3.3"/><rect x="355.66" y="85.64" width="3.3" height="3.3"/><rect x="360.18" y="85.64" width="3.3" height="3.3"/><rect x="362.76" y="85.64" width="3.3" height="3.3"/><rect x="367.28" y="85.64" width="3.3" height="3.3"/><rect x="319.11" y="87.58" width="3.3" height="3.3"/><rect x="325.95" y="89.52" width="3.3" height="3.3"/><rect x="333.06" y="87.58" width="3.3" height="3.3"/><rect x="355.66" y="87.58" width="3.3" height="3.3"/><rect x="362.76" y="89.52" width="3.3" height="3.3"/><rect x="367.28" y="87.58" width="3.3" height="3.3"/><rect x="367.28" y="89.52" width="3.3" height="3.3"/><rect x="325.95" y="93.39" width="3.3" height="3.3"/><rect x="330.47" y="94.94" width="3.3" height="3.3"/><rect x="351.40" y="94.94" width="3.3" height="3.3"/><rect x="353.72" y="93.13" width="3.3" height="3.3"/><rect x="355.66" y="93.13" width="3.3" height="3.3"/><rect x="360.18" y="93.13" width="3.3" height="3.3"/><rect x="367.28" y="94.94" width="3.3" height="3.3"/><rect x="312.13" y="97.01" width="3.3" height="3.3"/><rect x="319.11" y="98.56" width="3.3" height="3.3"/><rect x="321.43" y="98.56" width="3.3" height="3.3"/><rect x="321.43" y="100.49" width="3.3" height="3.3"/><rect x="346.62" y="98.56" width="3.3" height="3.3"/><rect x="355.66" y="97.01" width="3.3" height="3.3"/><rect x="358.24" y="98.56" width="3.3" height="3.3"/><rect x="365.09" y="98.56" width="3.3" height="3.3"/><rect x="367.28" y="97.01" width="3.3" height="3.3"/><rect x="367.28" y="100.49" width="3.3" height="3.3"/><rect x="367.28" y="102.43" width="3.3" height="3.3"/><rect x="312.13" y="100.49" width="3.3" height="3.3"/><rect x="319.11" y="102.43" width="3.3" height="3.3"/><rect x="333.06" y="100.49" width="3.3" height="3.3"/><rect x="333.06" y="102.43" width="3.3" height="3.3"/><rect x="334.99" y="100.49" width="3.3" height="3.3"/><rect x="337.58" y="104.37" width="3.3" height="3.3"/><rect x="346.62" y="104.37" width="3.3" height="3.3"/><rect x="348.81" y="104.37" width="3.3" height="3.3"/><rect x="353.72" y="102.43" width="3.3" height="3.3"/><rect x="353.72" y="104.37" width="3.3" height="3.3"/><rect x="355.66" y="106.31" width="3.3" height="3.3"/><rect x="358.24" y="105.66" width="3.3" height="3.3"/><rect x="360.18" y="106.31" width="3.3" height="3.3"/><rect x="362.76" y="104.37" width="3.3" height="3.3"/><rect x="365.09" y="102.43" width="3.3" height="3.3"/><rect x="367.28" y="104.37" width="3.3" height="3.3"/><rect x="314.33" y="106.95" width="3.3" height="3.3"/><rect x="316.91" y="107.60" width="3.3" height="3.3"/><rect x="319.11" y="107.60" width="3.3" height="3.3"/><rect x="321.43" y="107.60" width="3.3" height="3.3"/><rect x="323.76" y="107.60" width="3.3" height="3.3"/><rect x="325.95" y="106.95" width="3.3" height="3.3"/><rect x="328.54" y="108.63" width="3.3" height="3.3"/><rect x="334.99" y="108.63" width="3.3" height="3.3"/><rect x="337.58" y="107.60" width="3.3" height="3.3"/><rect x="339.51" y="107.60" width="3.3" height="3.3"/><rect x="341.84" y="109.54" width="3.3" height="3.3"/><rect x="346.62" y="109.54" width="3.3" height="3.3"/><rect x="351.40" y="108.63" width="3.3" height="3.3"/><rect x="353.72" y="109.54" width="3.3" height="3.3"/><rect x="355.66" y="111.47" width="3.3" height="3.3"/><rect x="360.18" y="109.54" width="3.3" height="3.3"/><rect x="362.76" y="111.47" width="3.3" height="3.3"/><rect x="365.09" y="111.47" width="3.3" height="3.3"/><rect x="367.28" y="109.54" width="3.3" height="3.3"/><rect x="321.43" y="110.18" width="3.3" height="3.3"/><rect x="328.54" y="111.47" width="3.3" height="3.3"/><rect x="330.47" y="111.47" width="3.3" height="3.3"/><rect x="333.06" y="113.02" width="3.3" height="3.3"/><rect x="337.58" y="111.47" width="3.3" height="3.3"/><rect x="344.42" y="111.47" width="3.3" height="3.3"/><rect x="348.81" y="111.47" width="3.3" height="3.3"/><rect x="319.11" y="115.09" width="3.3" height="3.3"/><rect x="323.76" y="116.64" width="3.3" height="3.3"/><rect x="328.54" y="114.70" width="3.3" height="3.3"/><rect x="334.99" y="118.58" width="3.3" height="3.3"/><rect x="339.51" y="116.64" width="3.3" height="3.3"/><rect x="344.42" y="116.64" width="3.3" height="3.3"/><rect x="351.40" y="118.58" width="3.3" height="3.3"/><rect x="353.72" y="118.58" width="3.3" height="3.3"/><rect x="358.24" y="118.58" width="3.3" height="3.3"/><rect x="362.76" y="118.58" width="3.3" height="3.3"/><rect x="314.33" y="122.45" width="3.3" height="3.3"/><rect x="316.91" y="122.45" width="3.3" height="3.3"/><rect x="323.76" y="122.45" width="3.3" height="3.3"/><rect x="330.47" y="122.45" width="3.3" height="3.3"/><rect x="330.47" y="124.39" width="3.3" height="3.3"/><rect x="330.47" y="126.33" width="3.3" height="3.3"/><rect x="334.99" y="122.45" width="3.3" height="3.3"/><rect x="334.99" y="124.39" width="3.3" height="3.3"/><rect x="337.58" y="126.33" width="3.3" height="3.3"/><rect x="339.51" y="124.39" width="3.3" height="3.3"/><rect x="341.84" y="126.33" width="3.3" height="3.3"/><rect x="346.62" y="126.33" width="3.3" height="3.3"/><rect x="351.40" y="122.45" width="3.3" height="3.3"/><rect x="353.72" y="120.51" width="3.3" height="3.3"/><rect x="358.24" y="122.45" width="3.3" height="3.3"/><rect x="360.18" y="122.45" width="3.3" height="3.3"/><rect x="360.18" y="124.39" width="3.3" height="3.3"/><rect x="358.24" y="125.42" width="3.3" height="3.3"/><rect x="367.28" y="126.33" width="3.3" height="3.3"/><rect x="321.43" y="128.26" width="3.3" height="3.3"/><rect x="330.47" y="128.26" width="3.3" height="3.3"/><rect x="333.06" y="128.26" width="3.3" height="3.3"/><rect x="339.51" y="128.26" width="3.3" height="3.3"/><rect x="351.40" y="128.26" width="3.3" height="3.3"/><rect x="355.66" y="128.26" width="3.3" height="3.3"/><rect x="362.76" y="129.56" width="3.3" height="3.3"/><rect x="365.09" y="129.56" width="3.3" height="3.3"/><rect x="367.28" y="129.56" width="3.3" height="3.3"/><rect x="312.13" y="133.17" width="3.3" height="3.3"/><rect x="316.91" y="131.49" width="3.3" height="3.3"/><rect x="325.95" y="133.17" width="3.3" height="3.3"/><rect x="330.47" y="131.49" width="3.3" height="3.3"/><rect x="334.99" y="131.49" width="3.3" height="3.3"/><rect x="341.84" y="131.49" width="3.3" height="3.3"/><rect x="341.84" y="133.17" width="3.3" height="3.3"/><rect x="344.42" y="131.49" width="3.3" height="3.3"/><rect x="346.62" y="133.17" width="3.3" height="3.3"/><rect x="348.81" y="131.49" width="3.3" height="3.3"/><rect x="351.40" y="131.49" width="3.3" height="3.3"/><rect x="355.66" y="131.49" width="3.3" height="3.3"/><rect x="358.24" y="131.49" width="3.3" height="3.3"/><rect x="362.76" y="133.17" width="3.3" height="3.3"/><rect x="365.09" y="133.17" width="3.3" height="3.3"/><rect x="316.91" y="136.66" width="3.3" height="3.3"/><rect x="321.43" y="136.66" width="3.3" height="3.3"/><rect x="325.95" y="138.34" width="3.3" height="3.3"/><rect x="334.99" y="136.66" width="3.3" height="3.3"/><rect x="337.58" y="136.66" width="3.3" height="3.3"/><rect x="341.84" y="136.66" width="3.3" height="3.3"/><rect x="341.84" y="138.34" width="3.3" height="3.3"/><rect x="351.40" y="136.66" width="3.3" height="3.3"/><rect x="353.72" y="136.66" width="3.3" height="3.3"/><rect x="353.72" y="138.34" width="3.3" height="3.3"/><rect x="358.24" y="138.34" width="3.3" height="3.3"/><rect x="360.18" y="136.66" width="3.3" height="3.3"/><rect x="360.18" y="138.34" width="3.3" height="3.3"/><rect x="360.18" y="140.53" width="3.3" height="3.3"/><rect x="367.28" y="136.66" width="3.3" height="3.3"/><rect x="367.28" y="140.53" width="3.3" height="3.3"/><rect x="344.42" y="142.47" width="3.3" height="3.3"/><rect x="348.81" y="143.76" width="3.3" height="3.3"/><rect x="351.40" y="143.76" width="3.3" height="3.3"/><rect x="353.72" y="143.76" width="3.3" height="3.3"/><rect x="334.99" y="145.70" width="3.3" height="3.3"/><rect x="337.58" y="144.41" width="3.3" height="3.3"/><rect x="339.51" y="145.70" width="3.3" height="3.3"/><rect x="358.24" y="145.70" width="3.3" height="3.3"/><rect x="362.76" y="145.70" width="3.3" height="3.3"/><rect x="367.28" y="142.47" width="3.3" height="3.3"/><rect x="367.28" y="144.41" width="3.3" height="3.3"/><rect x="367.28" y="146.35" width="3.3" height="3.3"/><rect x="333.06" y="148.93" width="3.3" height="3.3"/><rect x="348.81" y="150.87" width="3.3" height="3.3"/><rect x="351.40" y="148.93" width="3.3" height="3.3"/><rect x="367.28" y="147.64" width="3.3" height="3.3"/><rect x="312.13" y="152.55" width="3.3" height="3.3"/><rect x="339.90" y="152.81" width="3.3" height="3.3"/><rect x="355.66" y="152.55" width="3.3" height="3.3"/><rect x="362.76" y="152.55" width="3.3" height="3.3"/><rect x="346.62" y="156.04" width="3.3" height="3.3"/><rect x="358.24" y="156.04" width="3.3" height="3.3"/><rect x="319.11" y="158.23" width="3.3" height="3.3"/><rect x="325.95" y="159.91" width="3.3" height="3.3"/><rect x="337.19" y="159.91" width="3.3" height="3.3"/><rect x="344.42" y="159.91" width="3.3" height="3.3"/><rect x="362.76" y="159.91" width="3.3" height="3.3"/><rect x="348.81" y="163.40" width="3.3" height="3.3"/><rect x="358.24" y="165.47" width="3.3" height="3.3"/><rect x="367.28" y="165.72" width="3.3" height="3.3"/><rect x="367.28" y="167.27" width="3.3" height="3.3"/><rect x="339.90" y="177.99" width="3.3" height="3.3"/><rect x="321.17" y="179.67" width="3.3" height="3.3"/><rect x="316.65" y="183.16" width="3.3" height="3.3"/><rect x="330.47" y="183.16" width="3.3" height="3.3"/><rect x="337.19" y="184.84" width="3.3" height="3.3"/><rect x="341.84" y="184.84" width="3.3" height="3.3"/><rect x="344.42" y="184.84" width="3.3" height="3.3"/><rect x="353.46" y="184.84" width="3.3" height="3.3"/><rect x="367.28" y="181.22" width="3.3" height="3.3"/><rect x="323.37" y="187.03" width="3.3" height="3.3"/><rect x="348.81" y="188.71" width="3.3" height="3.3"/><rect x="362.76" y="187.03" width="3.3" height="3.3"/><rect x="367.55" y="165.35" width="3.3" height="3.3"/><rect x="367.55" y="167.85" width="3.3" height="3.3"/></g>
<g fill="#7c1c3c"><rect x="337.94" y="36.42" width="1.8" height="1.5"/><rect x="340.26" y="36.42" width="1.8" height="1.5"/><rect x="342.59" y="36.42" width="1.8" height="1.5"/><rect x="347.37" y="38.10" width="1.8" height="1.5"/><rect x="349.56" y="38.10" width="1.8" height="1.5"/><rect x="356.41" y="38.10" width="1.8" height="1.5"/><rect x="358.99" y="40.04" width="1.8" height="1.5"/><rect x="342.59" y="43.66" width="1.8" height="1.5"/><rect x="352.15" y="43.66" width="1.8" height="1.5"/><rect x="368.42" y="43.66" width="1.8" height="1.5"/><rect x="312.88" y="49.08" width="1.8" height="1.5"/><rect x="335.74" y="51.02" width="1.8" height="1.5"/><rect x="335.74" y="54.51" width="1.8" height="1.5"/><rect x="366.10" y="51.02" width="1.8" height="1.5"/><rect x="368.68" y="51.02" width="1.8" height="1.5"/><rect x="315.08" y="56.19" width="1.8" height="1.5"/><rect x="331.22" y="61.74" width="1.8" height="1.5"/><rect x="319.60" y="67.16" width="1.8" height="1.5"/><rect x="319.60" y="68.71" width="1.8" height="1.5"/><rect x="322.18" y="67.16" width="1.8" height="1.5"/><rect x="328.64" y="67.16" width="1.8" height="1.5"/><rect x="342.59" y="67.16" width="1.8" height="1.5"/><rect x="347.37" y="67.16" width="1.8" height="1.5"/><rect x="363.51" y="67.16" width="1.8" height="1.5"/><rect x="365.84" y="67.16" width="1.8" height="1.5"/><rect x="326.70" y="70.78" width="1.8" height="1.5"/><rect x="326.70" y="72.59" width="1.8" height="1.5"/><rect x="335.74" y="72.59" width="1.8" height="1.5"/><rect x="337.94" y="74.27" width="1.8" height="1.5"/><rect x="340.26" y="76.20" width="1.8" height="1.5"/><rect x="345.17" y="76.20" width="1.8" height="1.5"/><rect x="352.15" y="72.59" width="1.8" height="1.5"/><rect x="352.15" y="76.20" width="1.8" height="1.5"/><rect x="352.15" y="78.14" width="1.8" height="1.5"/><rect x="356.41" y="70.78" width="1.8" height="1.5"/><rect x="356.41" y="78.14" width="1.8" height="1.5"/><rect x="360.93" y="76.20" width="1.8" height="1.5"/><rect x="363.51" y="76.20" width="1.8" height="1.5"/><rect x="365.84" y="72.59" width="1.8" height="1.5"/><rect x="368.42" y="70.78" width="1.8" height="1.5"/><rect x="368.42" y="72.59" width="1.8" height="1.5"/><rect x="368.42" y="78.14" width="1.8" height="1.5"/><rect x="312.88" y="76.20" width="1.8" height="1.5"/><rect x="312.88" y="78.14" width="1.8" height="1.5"/><rect x="312.88" y="80.08" width="1.8" height="1.5"/><rect x="317.02" y="74.27" width="1.8" height="1.5"/><rect x="315.08" y="81.63" width="1.8" height="1.5"/><rect x="317.66" y="80.08" width="1.8" height="1.5"/><rect x="315.08" y="83.31" width="1.8" height="1.5"/><rect x="319.60" y="83.31" width="1.8" height="1.5"/><rect x="319.60" y="85.25" width="1.8" height="1.5"/><rect x="322.18" y="85.25" width="1.8" height="1.5"/><rect x="324.51" y="83.31" width="1.8" height="1.5"/><rect x="324.51" y="81.63" width="1.8" height="1.5"/><rect x="326.70" y="81.63" width="1.8" height="1.5"/><rect x="331.22" y="83.31" width="1.8" height="1.5"/><rect x="335.74" y="80.08" width="1.8" height="1.5"/><rect x="337.94" y="80.08" width="1.8" height="1.5"/><rect x="342.59" y="80.08" width="1.8" height="1.5"/><rect x="349.56" y="81.63" width="1.8" height="1.5"/><rect x="356.41" y="81.63" width="1.8" height="1.5"/><rect x="358.99" y="81.63" width="1.8" height="1.5"/><rect x="363.51" y="81.63" width="1.8" height="1.5"/><rect x="365.84" y="83.31" width="1.8" height="1.5"/><rect x="368.42" y="81.63" width="1.8" height="1.5"/><rect x="368.42" y="83.31" width="1.8" height="1.5"/><rect x="315.08" y="86.54" width="1.8" height="1.5"/><rect x="319.86" y="86.54" width="1.8" height="1.5"/><rect x="324.51" y="86.54" width="1.8" height="1.5"/><rect x="326.70" y="86.54" width="1.8" height="1.5"/><rect x="356.41" y="86.54" width="1.8" height="1.5"/><rect x="360.93" y="86.54" width="1.8" height="1.5"/><rect x="363.51" y="86.54" width="1.8" height="1.5"/><rect x="368.03" y="86.54" width="1.8" height="1.5"/><rect x="319.86" y="88.48" width="1.8" height="1.5"/><rect x="326.70" y="90.42" width="1.8" height="1.5"/><rect x="333.81" y="88.48" width="1.8" height="1.5"/><rect x="356.41" y="88.48" width="1.8" height="1.5"/><rect x="363.51" y="90.42" width="1.8" height="1.5"/><rect x="368.03" y="88.48" width="1.8" height="1.5"/><rect x="368.03" y="90.42" width="1.8" height="1.5"/><rect x="326.70" y="94.29" width="1.8" height="1.5"/><rect x="331.22" y="95.84" width="1.8" height="1.5"/><rect x="352.15" y="95.84" width="1.8" height="1.5"/><rect x="354.47" y="94.03" width="1.8" height="1.5"/><rect x="356.41" y="94.03" width="1.8" height="1.5"/><rect x="360.93" y="94.03" width="1.8" height="1.5"/><rect x="368.03" y="95.84" width="1.8" height="1.5"/><rect x="312.88" y="97.91" width="1.8" height="1.5"/><rect x="319.86" y="99.46" width="1.8" height="1.5"/><rect x="322.18" y="99.46" width="1.8" height="1.5"/><rect x="322.18" y="101.39" width="1.8" height="1.5"/><rect x="347.37" y="99.46" width="1.8" height="1.5"/><rect x="356.41" y="97.91" width="1.8" height="1.5"/><rect x="358.99" y="99.46" width="1.8" height="1.5"/><rect x="365.84" y="99.46" width="1.8" height="1.5"/><rect x="368.03" y="97.91" width="1.8" height="1.5"/><rect x="368.03" y="101.39" width="1.8" height="1.5"/><rect x="368.03" y="103.33" width="1.8" height="1.5"/><rect x="312.88" y="101.39" width="1.8" height="1.5"/><rect x="319.86" y="103.33" width="1.8" height="1.5"/><rect x="333.81" y="101.39" width="1.8" height="1.5"/><rect x="333.81" y="103.33" width="1.8" height="1.5"/><rect x="335.74" y="101.39" width="1.8" height="1.5"/><rect x="338.33" y="105.27" width="1.8" height="1.5"/><rect x="347.37" y="105.27" width="1.8" height="1.5"/><rect x="349.56" y="105.27" width="1.8" height="1.5"/><rect x="354.47" y="103.33" width="1.8" height="1.5"/><rect x="354.47" y="105.27" width="1.8" height="1.5"/><rect x="356.41" y="107.21" width="1.8" height="1.5"/><rect x="358.99" y="106.56" width="1.8" height="1.5"/><rect x="360.93" y="107.21" width="1.8" height="1.5"/><rect x="363.51" y="105.27" width="1.8" height="1.5"/><rect x="365.84" y="103.33" width="1.8" height="1.5"/><rect x="368.03" y="105.27" width="1.8" height="1.5"/><rect x="315.08" y="107.85" width="1.8" height="1.5"/><rect x="317.66" y="108.50" width="1.8" height="1.5"/><rect x="319.86" y="108.50" width="1.8" height="1.5"/><rect x="322.18" y="108.50" width="1.8" height="1.5"/><rect x="324.51" y="108.50" width="1.8" height="1.5"/><rect x="326.70" y="107.85" width="1.8" height="1.5"/><rect x="329.29" y="109.53" width="1.8" height="1.5"/><rect x="335.74" y="109.53" width="1.8" height="1.5"/><rect x="338.33" y="108.50" width="1.8" height="1.5"/><rect x="340.26" y="108.50" width="1.8" height="1.5"/><rect x="342.59" y="110.44" width="1.8" height="1.5"/><rect x="347.37" y="110.44" width="1.8" height="1.5"/><rect x="352.15" y="109.53" width="1.8" height="1.5"/><rect x="354.47" y="110.44" width="1.8" height="1.5"/><rect x="356.41" y="112.37" width="1.8" height="1.5"/><rect x="360.93" y="110.44" width="1.8" height="1.5"/><rect x="363.51" y="112.37" width="1.8" height="1.5"/><rect x="365.84" y="112.37" width="1.8" height="1.5"/><rect x="368.03" y="110.44" width="1.8" height="1.5"/><rect x="322.18" y="111.08" width="1.8" height="1.5"/><rect x="329.29" y="112.37" width="1.8" height="1.5"/><rect x="331.22" y="112.37" width="1.8" height="1.5"/><rect x="333.81" y="113.92" width="1.8" height="1.5"/><rect x="338.33" y="112.37" width="1.8" height="1.5"/><rect x="345.17" y="112.37" width="1.8" height="1.5"/><rect x="349.56" y="112.37" width="1.8" height="1.5"/><rect x="319.86" y="115.99" width="1.8" height="1.5"/><rect x="324.51" y="117.54" width="1.8" height="1.5"/><rect x="329.29" y="115.60" width="1.8" height="1.5"/><rect x="335.74" y="119.48" width="1.8" height="1.5"/><rect x="340.26" y="117.54" width="1.8" height="1.5"/><rect x="345.17" y="117.54" width="1.8" height="1.5"/><rect x="352.15" y="119.48" width="1.8" height="1.5"/><rect x="354.47" y="119.48" width="1.8" height="1.5"/><rect x="358.99" y="119.48" width="1.8" height="1.5"/><rect x="363.51" y="119.48" width="1.8" height="1.5"/><rect x="315.08" y="123.35" width="1.8" height="1.5"/><rect x="317.66" y="123.35" width="1.8" height="1.5"/><rect x="324.51" y="123.35" width="1.8" height="1.5"/><rect x="331.22" y="123.35" width="1.8" height="1.5"/><rect x="331.22" y="125.29" width="1.8" height="1.5"/><rect x="331.22" y="127.23" width="1.8" height="1.5"/><rect x="335.74" y="123.35" width="1.8" height="1.5"/><rect x="335.74" y="125.29" width="1.8" height="1.5"/><rect x="338.33" y="127.23" width="1.8" height="1.5"/><rect x="340.26" y="125.29" width="1.8" height="1.5"/><rect x="342.59" y="127.23" width="1.8" height="1.5"/><rect x="347.37" y="127.23" width="1.8" height="1.5"/><rect x="352.15" y="123.35" width="1.8" height="1.5"/><rect x="354.47" y="121.41" width="1.8" height="1.5"/><rect x="358.99" y="123.35" width="1.8" height="1.5"/><rect x="360.93" y="123.35" width="1.8" height="1.5"/><rect x="360.93" y="125.29" width="1.8" height="1.5"/><rect x="358.99" y="126.32" width="1.8" height="1.5"/><rect x="368.03" y="127.23" width="1.8" height="1.5"/><rect x="322.18" y="129.16" width="1.8" height="1.5"/><rect x="331.22" y="129.16" width="1.8" height="1.5"/><rect x="333.81" y="129.16" width="1.8" height="1.5"/><rect x="340.26" y="129.16" width="1.8" height="1.5"/><rect x="352.15" y="129.16" width="1.8" height="1.5"/><rect x="356.41" y="129.16" width="1.8" height="1.5"/><rect x="363.51" y="130.46" width="1.8" height="1.5"/><rect x="365.84" y="130.46" width="1.8" height="1.5"/><rect x="368.03" y="130.46" width="1.8" height="1.5"/><rect x="312.88" y="134.07" width="1.8" height="1.5"/><rect x="317.66" y="132.39" width="1.8" height="1.5"/><rect x="326.70" y="134.07" width="1.8" height="1.5"/><rect x="331.22" y="132.39" width="1.8" height="1.5"/><rect x="335.74" y="132.39" width="1.8" height="1.5"/><rect x="342.59" y="132.39" width="1.8" height="1.5"/><rect x="342.59" y="134.07" width="1.8" height="1.5"/><rect x="345.17" y="132.39" width="1.8" height="1.5"/><rect x="347.37" y="134.07" width="1.8" height="1.5"/><rect x="349.56" y="132.39" width="1.8" height="1.5"/><rect x="352.15" y="132.39" width="1.8" height="1.5"/><rect x="356.41" y="132.39" width="1.8" height="1.5"/><rect x="358.99" y="132.39" width="1.8" height="1.5"/><rect x="363.51" y="134.07" width="1.8" height="1.5"/><rect x="365.84" y="134.07" width="1.8" height="1.5"/><rect x="317.66" y="137.56" width="1.8" height="1.5"/><rect x="322.18" y="137.56" width="1.8" height="1.5"/><rect x="326.70" y="139.24" width="1.8" height="1.5"/><rect x="335.74" y="137.56" width="1.8" height="1.5"/><rect x="338.33" y="137.56" width="1.8" height="1.5"/><rect x="342.59" y="137.56" width="1.8" height="1.5"/><rect x="342.59" y="139.24" width="1.8" height="1.5"/><rect x="352.15" y="137.56" width="1.8" height="1.5"/><rect x="354.47" y="137.56" width="1.8" height="1.5"/><rect x="354.47" y="139.24" width="1.8" height="1.5"/><rect x="358.99" y="139.24" width="1.8" height="1.5"/><rect x="360.93" y="137.56" width="1.8" height="1.5"/><rect x="360.93" y="139.24" width="1.8" height="1.5"/><rect x="360.93" y="141.43" width="1.8" height="1.5"/><rect x="368.03" y="137.56" width="1.8" height="1.5"/><rect x="368.03" y="141.43" width="1.8" height="1.5"/><rect x="345.17" y="143.37" width="1.8" height="1.5"/><rect x="349.56" y="144.66" width="1.8" height="1.5"/><rect x="352.15" y="144.66" width="1.8" height="1.5"/><rect x="354.47" y="144.66" width="1.8" height="1.5"/><rect x="335.74" y="146.60" width="1.8" height="1.5"/><rect x="338.33" y="145.31" width="1.8" height="1.5"/><rect x="340.26" y="146.60" width="1.8" height="1.5"/><rect x="358.99" y="146.60" width="1.8" height="1.5"/><rect x="363.51" y="146.60" width="1.8" height="1.5"/><rect x="368.03" y="143.37" width="1.8" height="1.5"/><rect x="368.03" y="145.31" width="1.8" height="1.5"/><rect x="368.03" y="147.25" width="1.8" height="1.5"/><rect x="333.81" y="149.83" width="1.8" height="1.5"/><rect x="349.56" y="151.77" width="1.8" height="1.5"/><rect x="352.15" y="149.83" width="1.8" height="1.5"/><rect x="368.03" y="148.54" width="1.8" height="1.5"/><rect x="312.88" y="153.45" width="1.8" height="1.5"/><rect x="340.65" y="153.71" width="1.8" height="1.5"/><rect x="356.41" y="153.45" width="1.8" height="1.5"/><rect x="363.51" y="153.45" width="1.8" height="1.5"/><rect x="347.37" y="156.94" width="1.8" height="1.5"/><rect x="358.99" y="156.94" width="1.8" height="1.5"/><rect x="319.86" y="159.13" width="1.8" height="1.5"/><rect x="326.70" y="160.81" width="1.8" height="1.5"/><rect x="337.94" y="160.81" width="1.8" height="1.5"/><rect x="345.17" y="160.81" width="1.8" height="1.5"/><rect x="363.51" y="160.81" width="1.8" height="1.5"/><rect x="349.56" y="164.30" width="1.8" height="1.5"/><rect x="358.99" y="166.37" width="1.8" height="1.5"/><rect x="368.03" y="166.62" width="1.8" height="1.5"/><rect x="368.03" y="168.17" width="1.8" height="1.5"/><rect x="340.65" y="178.89" width="1.8" height="1.5"/><rect x="321.92" y="180.57" width="1.8" height="1.5"/><rect x="317.40" y="184.06" width="1.8" height="1.5"/><rect x="331.22" y="184.06" width="1.8" height="1.5"/><rect x="337.94" y="185.74" width="1.8" height="1.5"/><rect x="342.59" y="185.74" width="1.8" height="1.5"/><rect x="345.17" y="185.74" width="1.8" height="1.5"/><rect x="354.21" y="185.74" width="1.8" height="1.5"/><rect x="368.03" y="182.12" width="1.8" height="1.5"/><rect x="324.12" y="187.93" width="1.8" height="1.5"/><rect x="349.56" y="189.61" width="1.8" height="1.5"/><rect x="363.51" y="187.93" width="1.8" height="1.5"/><rect x="368.30" y="166.25" width="1.8" height="1.5"/><rect x="368.30" y="168.75" width="1.8" height="1.5"/></g>
<g fill="#d9e9f5"><rect x="372.00" y="46.17" width="3.3" height="3.3"/><rect x="374.35" y="47.97" width="3.3" height="3.3"/><rect x="376.70" y="44.23" width="3.3" height="3.3"/><rect x="378.92" y="42.84" width="3.3" height="3.3"/><rect x="381.27" y="46.17" width="3.3" height="3.3"/><rect x="383.63" y="44.23" width="3.3" height="3.3"/><rect x="385.84" y="47.97" width="3.3" height="3.3"/><rect x="388.20" y="47.97" width="3.3" height="3.3"/><rect x="369.78" y="50.04" width="3.3" height="3.3"/><rect x="390.55" y="51.70" width="3.3" height="3.3"/><rect x="395.12" y="53.50" width="3.3" height="3.3"/><rect x="408.97" y="51.70" width="3.3" height="3.3"/><rect x="420.46" y="53.50" width="3.3" height="3.3"/><rect x="429.32" y="47.97" width="3.3" height="3.3"/><rect x="436.66" y="42.84" width="3.3" height="3.3"/><rect x="383.63" y="59.04" width="3.3" height="3.3"/><rect x="390.55" y="60.84" width="3.3" height="3.3"/><rect x="392.77" y="57.24" width="3.3" height="3.3"/><rect x="402.04" y="59.04" width="3.3" height="3.3"/><rect x="404.40" y="60.84" width="3.3" height="3.3"/><rect x="406.61" y="57.24" width="3.3" height="3.3"/><rect x="411.32" y="60.84" width="3.3" height="3.3"/><rect x="418.24" y="59.04" width="3.3" height="3.3"/><rect x="432.09" y="59.04" width="3.3" height="3.3"/><rect x="434.30" y="62.78" width="3.3" height="3.3"/><rect x="378.92" y="62.78" width="3.3" height="3.3"/><rect x="381.27" y="62.78" width="3.3" height="3.3"/><rect x="395.12" y="68.04" width="3.3" height="3.3"/><rect x="415.89" y="66.38" width="3.3" height="3.3"/><rect x="374.35" y="75.24" width="3.3" height="3.3"/><rect x="378.92" y="75.24" width="3.3" height="3.3"/><rect x="388.20" y="77.04" width="3.3" height="3.3"/><rect x="388.20" y="79.12" width="3.3" height="3.3"/><rect x="381.27" y="78.84" width="3.3" height="3.3"/><rect x="408.97" y="78.84" width="3.3" height="3.3"/><rect x="369.78" y="81.20" width="3.3" height="3.3"/><rect x="372.00" y="80.50" width="3.3" height="3.3"/><rect x="374.35" y="81.20" width="3.3" height="3.3"/><rect x="385.84" y="81.20" width="3.3" height="3.3"/><rect x="388.20" y="83.27" width="3.3" height="3.3"/><rect x="390.55" y="83.27" width="3.3" height="3.3"/><rect x="392.77" y="83.27" width="3.3" height="3.3"/><rect x="399.69" y="82.17" width="3.3" height="3.3"/><rect x="404.40" y="83.97" width="3.3" height="3.3"/><rect x="418.24" y="82.17" width="3.3" height="3.3"/><rect x="434.30" y="82.17" width="3.3" height="3.3"/><rect x="369.78" y="86.32" width="3.3" height="3.3"/><rect x="372.00" y="86.32" width="3.3" height="3.3"/><rect x="374.35" y="86.32" width="3.3" height="3.3"/><rect x="376.70" y="86.32" width="3.3" height="3.3"/><rect x="378.92" y="87.15" width="3.3" height="3.3"/><rect x="381.27" y="86.32" width="3.3" height="3.3"/><rect x="383.63" y="84.66" width="3.3" height="3.3"/><rect x="385.84" y="87.43" width="3.3" height="3.3"/><rect x="429.32" y="86.04" width="3.3" height="3.3"/><rect x="457.84" y="42.84" width="3.3" height="3.3"/><rect x="441.23" y="55.30" width="3.3" height="3.3"/><rect x="443.58" y="53.92" width="3.3" height="3.3"/><rect x="448.15" y="57.24" width="3.3" height="3.3"/><rect x="452.86" y="59.04" width="3.3" height="3.3"/><rect x="455.07" y="62.78" width="3.3" height="3.3"/><rect x="462.00" y="66.38" width="3.3" height="3.3"/><rect x="466.43" y="62.78" width="3.3" height="3.3"/><rect x="468.92" y="71.50" width="3.3" height="3.3"/><rect x="473.63" y="70.12" width="3.3" height="3.3"/><rect x="478.20" y="68.04" width="3.3" height="3.3"/><rect x="482.77" y="73.30" width="3.3" height="3.3"/><rect x="487.47" y="59.04" width="3.3" height="3.3"/><rect x="492.04" y="66.38" width="3.3" height="3.3"/><rect x="496.61" y="71.50" width="3.3" height="3.3"/><rect x="369.78" y="89.40" width="3.3" height="3.3"/><rect x="395.12" y="89.40" width="3.3" height="3.3"/><rect x="397.47" y="89.40" width="3.3" height="3.3"/><rect x="374.35" y="91.61" width="3.3" height="3.3"/><rect x="381.27" y="93.00" width="3.3" height="3.3"/><rect x="383.63" y="93.00" width="3.3" height="3.3"/><rect x="388.20" y="91.61" width="3.3" height="3.3"/><rect x="390.55" y="93.00" width="3.3" height="3.3"/><rect x="392.77" y="93.00" width="3.3" height="3.3"/><rect x="395.12" y="93.00" width="3.3" height="3.3"/><rect x="415.89" y="94.93" width="3.3" height="3.3"/><rect x="420.46" y="94.93" width="3.3" height="3.3"/><rect x="372.00" y="96.73" width="3.3" height="3.3"/><rect x="374.35" y="96.73" width="3.3" height="3.3"/><rect x="376.70" y="96.73" width="3.3" height="3.3"/><rect x="369.78" y="98.53" width="3.3" height="3.3"/><rect x="369.78" y="100.47" width="3.3" height="3.3"/><rect x="372.00" y="98.53" width="3.3" height="3.3"/><rect x="376.70" y="101.86" width="3.3" height="3.3"/><rect x="378.92" y="101.86" width="3.3" height="3.3"/><rect x="378.92" y="98.53" width="3.3" height="3.3"/><rect x="381.27" y="98.53" width="3.3" height="3.3"/><rect x="388.20" y="98.53" width="3.3" height="3.3"/><rect x="388.20" y="100.47" width="3.3" height="3.3"/><rect x="390.55" y="98.53" width="3.3" height="3.3"/><rect x="390.55" y="100.47" width="3.3" height="3.3"/><rect x="392.77" y="97.43" width="3.3" height="3.3"/><rect x="395.12" y="98.53" width="3.3" height="3.3"/><rect x="395.12" y="101.86" width="3.3" height="3.3"/><rect x="395.12" y="104.07" width="3.3" height="3.3"/><rect x="385.84" y="101.86" width="3.3" height="3.3"/><rect x="385.84" y="104.07" width="3.3" height="3.3"/><rect x="399.69" y="101.86" width="3.3" height="3.3"/><rect x="411.32" y="98.53" width="3.3" height="3.3"/><rect x="418.24" y="98.53" width="3.3" height="3.3"/><rect x="429.32" y="101.86" width="3.3" height="3.3"/><rect x="369.78" y="104.07" width="3.3" height="3.3"/><rect x="369.78" y="107.12" width="3.3" height="3.3"/><rect x="372.00" y="107.12" width="3.3" height="3.3"/><rect x="378.92" y="109.20" width="3.3" height="3.3"/><rect x="381.27" y="109.20" width="3.3" height="3.3"/><rect x="383.63" y="105.73" width="3.3" height="3.3"/><rect x="388.20" y="107.81" width="3.3" height="3.3"/><rect x="390.55" y="109.20" width="3.3" height="3.3"/><rect x="395.12" y="107.81" width="3.3" height="3.3"/><rect x="399.69" y="109.20" width="3.3" height="3.3"/><rect x="406.61" y="107.81" width="3.3" height="3.3"/><rect x="422.81" y="107.81" width="3.3" height="3.3"/><rect x="436.66" y="107.81" width="3.3" height="3.3"/><rect x="404.40" y="111.27" width="3.3" height="3.3"/><rect x="408.97" y="111.27" width="3.3" height="3.3"/><rect x="372.00" y="112.66" width="3.3" height="3.3"/><rect x="374.35" y="112.66" width="3.3" height="3.3"/><rect x="378.92" y="112.66" width="3.3" height="3.3"/><rect x="378.92" y="114.73" width="3.3" height="3.3"/><rect x="381.27" y="112.66" width="3.3" height="3.3"/><rect x="381.27" y="114.73" width="3.3" height="3.3"/><rect x="383.63" y="111.27" width="3.3" height="3.3"/><rect x="385.84" y="112.66" width="3.3" height="3.3"/><rect x="369.78" y="114.73" width="3.3" height="3.3"/><rect x="369.78" y="116.53" width="3.3" height="3.3"/><rect x="372.00" y="116.53" width="3.3" height="3.3"/><rect x="374.35" y="116.53" width="3.3" height="3.3"/><rect x="376.70" y="116.53" width="3.3" height="3.3"/><rect x="378.92" y="116.53" width="3.3" height="3.3"/><rect x="381.27" y="116.53" width="3.3" height="3.3"/><rect x="383.63" y="116.53" width="3.3" height="3.3"/><rect x="388.20" y="116.53" width="3.3" height="3.3"/><rect x="390.55" y="116.53" width="3.3" height="3.3"/><rect x="399.69" y="114.73" width="3.3" height="3.3"/><rect x="402.04" y="114.73" width="3.3" height="3.3"/><rect x="413.53" y="116.53" width="3.3" height="3.3"/><rect x="427.38" y="114.73" width="3.3" height="3.3"/><rect x="429.73" y="114.73" width="3.3" height="3.3"/><rect x="369.78" y="118.47" width="3.3" height="3.3"/><rect x="372.00" y="119.30" width="3.3" height="3.3"/><rect x="392.77" y="118.47" width="3.3" height="3.3"/><rect x="399.69" y="118.47" width="3.3" height="3.3"/><rect x="415.89" y="118.47" width="3.3" height="3.3"/><rect x="418.24" y="120.27" width="3.3" height="3.3"/><rect x="422.81" y="120.27" width="3.3" height="3.3"/><rect x="395.12" y="122.07" width="3.3" height="3.3"/><rect x="402.04" y="123.73" width="3.3" height="3.3"/><rect x="408.97" y="122.07" width="3.3" height="3.3"/><rect x="420.46" y="122.07" width="3.3" height="3.3"/><rect x="376.70" y="125.81" width="3.3" height="3.3"/><rect x="383.63" y="127.61" width="3.3" height="3.3"/><rect x="385.84" y="127.61" width="3.3" height="3.3"/><rect x="390.55" y="127.61" width="3.3" height="3.3"/><rect x="392.77" y="125.81" width="3.3" height="3.3"/><rect x="395.12" y="125.81" width="3.3" height="3.3"/><rect x="397.47" y="127.61" width="3.3" height="3.3"/><rect x="397.47" y="129.55" width="3.3" height="3.3"/><rect x="399.69" y="127.61" width="3.3" height="3.3"/><rect x="406.61" y="129.55" width="3.3" height="3.3"/><rect x="411.32" y="129.55" width="3.3" height="3.3"/><rect x="415.89" y="131.35" width="3.3" height="3.3"/><rect x="369.78" y="129.55" width="3.3" height="3.3"/><rect x="369.78" y="131.35" width="3.3" height="3.3"/><rect x="369.78" y="133.43" width="3.3" height="3.3"/><rect x="372.00" y="131.35" width="3.3" height="3.3"/><rect x="372.00" y="133.43" width="3.3" height="3.3"/><rect x="376.70" y="131.35" width="3.3" height="3.3"/><rect x="381.27" y="131.35" width="3.3" height="3.3"/><rect x="383.63" y="131.35" width="3.3" height="3.3"/><rect x="413.53" y="133.15" width="3.3" height="3.3"/><rect x="413.53" y="135.09" width="3.3" height="3.3"/><rect x="376.70" y="134.81" width="3.3" height="3.3"/><rect x="378.92" y="134.81" width="3.3" height="3.3"/><rect x="381.27" y="134.81" width="3.3" height="3.3"/><rect x="388.20" y="134.81" width="3.3" height="3.3"/><rect x="390.55" y="136.47" width="3.3" height="3.3"/><rect x="392.77" y="133.15" width="3.3" height="3.3"/><rect x="395.12" y="133.15" width="3.3" height="3.3"/><rect x="395.12" y="134.81" width="3.3" height="3.3"/><rect x="369.78" y="136.47" width="3.3" height="3.3"/><rect x="372.00" y="136.47" width="3.3" height="3.3"/><rect x="374.35" y="138.27" width="3.3" height="3.3"/><rect x="434.58" y="136.47" width="3.3" height="3.3"/><rect x="378.92" y="140.07" width="3.3" height="3.3"/><rect x="378.92" y="142.01" width="3.3" height="3.3"/><rect x="381.27" y="140.07" width="3.3" height="3.3"/><rect x="385.84" y="140.07" width="3.3" height="3.3"/><rect x="385.84" y="142.01" width="3.3" height="3.3"/><rect x="388.20" y="142.01" width="3.3" height="3.3"/><rect x="390.55" y="140.07" width="3.3" height="3.3"/><rect x="390.55" y="142.01" width="3.3" height="3.3"/><rect x="392.77" y="142.01" width="3.3" height="3.3"/><rect x="395.12" y="140.07" width="3.3" height="3.3"/><rect x="395.12" y="142.01" width="3.3" height="3.3"/><rect x="397.47" y="140.07" width="3.3" height="3.3"/><rect x="404.40" y="140.07" width="3.3" height="3.3"/><rect x="408.97" y="140.07" width="3.3" height="3.3"/><rect x="408.97" y="142.01" width="3.3" height="3.3"/><rect x="420.46" y="140.07" width="3.3" height="3.3"/><rect x="420.46" y="142.01" width="3.3" height="3.3"/><rect x="388.20" y="143.81" width="3.3" height="3.3"/><rect x="385.84" y="145.61" width="3.3" height="3.3"/><rect x="388.20" y="145.61" width="3.3" height="3.3"/><rect x="390.55" y="145.61" width="3.3" height="3.3"/><rect x="392.77" y="145.61" width="3.3" height="3.3"/><rect x="411.32" y="145.61" width="3.3" height="3.3"/><rect x="422.81" y="145.61" width="3.3" height="3.3"/><rect x="427.38" y="145.61" width="3.3" height="3.3"/><rect x="429.73" y="145.61" width="3.3" height="3.3"/><rect x="432.09" y="145.61" width="3.3" height="3.3"/><rect x="429.73" y="147.97" width="3.3" height="3.3"/><rect x="372.00" y="148.66" width="3.3" height="3.3"/><rect x="374.35" y="150.32" width="3.3" height="3.3"/><rect x="395.12" y="150.73" width="3.3" height="3.3"/><rect x="443.58" y="96.73" width="3.3" height="3.3"/><rect x="448.15" y="100.20" width="3.3" height="3.3"/><rect x="464.35" y="95.35" width="3.3" height="3.3"/><rect x="457.43" y="102.27" width="3.3" height="3.3"/><rect x="471.27" y="100.20" width="3.3" height="3.3"/><rect x="466.43" y="106.01" width="3.3" height="3.3"/><rect x="459.50" y="109.61" width="3.3" height="3.3"/><rect x="450.50" y="114.73" width="3.3" height="3.3"/><rect x="445.93" y="116.53" width="3.3" height="3.3"/><rect x="473.63" y="116.53" width="3.3" height="3.3"/><rect x="482.77" y="119.86" width="3.3" height="3.3"/><rect x="471.27" y="136.47" width="3.3" height="3.3"/><rect x="439.01" y="143.40" width="3.3" height="3.3"/><rect x="441.23" y="145.61" width="3.3" height="3.3"/><rect x="450.50" y="143.81" width="3.3" height="3.3"/><rect x="450.50" y="145.61" width="3.3" height="3.3"/><rect x="455.07" y="143.81" width="3.3" height="3.3"/><rect x="457.43" y="143.81" width="3.3" height="3.3"/><rect x="457.43" y="145.61" width="3.3" height="3.3"/><rect x="464.35" y="143.81" width="3.3" height="3.3"/><rect x="468.92" y="143.81" width="3.3" height="3.3"/><rect x="443.58" y="148.93" width="3.3" height="3.3"/><rect x="445.93" y="148.93" width="3.3" height="3.3"/><rect x="462.00" y="148.93" width="3.3" height="3.3"/><rect x="487.47" y="150.73" width="3.3" height="3.3"/><rect x="489.69" y="148.93" width="3.3" height="3.3"/><rect x="496.61" y="150.73" width="3.3" height="3.3"/><rect x="480.55" y="152.12" width="3.3" height="3.3"/><rect x="376.70" y="152.84" width="3.3" height="3.3"/><rect x="385.84" y="152.84" width="3.3" height="3.3"/><rect x="369.78" y="154.78" width="3.3" height="3.3"/><rect x="376.70" y="157.97" width="3.3" height="3.3"/><rect x="374.35" y="160.04" width="3.3" height="3.3"/><rect x="385.84" y="160.04" width="3.3" height="3.3"/><rect x="429.32" y="156.17" width="3.3" height="3.3"/><rect x="397.47" y="161.70" width="3.3" height="3.3"/><rect x="399.69" y="161.70" width="3.3" height="3.3"/><rect x="369.78" y="163.50" width="3.3" height="3.3"/><rect x="374.35" y="165.30" width="3.3" height="3.3"/><rect x="381.27" y="165.30" width="3.3" height="3.3"/><rect x="392.77" y="163.50" width="3.3" height="3.3"/><rect x="390.55" y="165.30" width="3.3" height="3.3"/><rect x="395.12" y="165.30" width="3.3" height="3.3"/><rect x="388.20" y="167.24" width="3.3" height="3.3"/><rect x="369.78" y="169.04" width="3.3" height="3.3"/><rect x="374.35" y="169.04" width="3.3" height="3.3"/><rect x="378.92" y="169.04" width="3.3" height="3.3"/><rect x="378.92" y="170.84" width="3.3" height="3.3"/><rect x="385.84" y="169.04" width="3.3" height="3.3"/><rect x="404.40" y="169.04" width="3.3" height="3.3"/><rect x="408.97" y="170.84" width="3.3" height="3.3"/><rect x="392.77" y="170.84" width="3.3" height="3.3"/><rect x="395.12" y="170.84" width="3.3" height="3.3"/><rect x="369.78" y="175.97" width="3.3" height="3.3"/><rect x="372.00" y="178.04" width="3.3" height="3.3"/><rect x="374.35" y="179.70" width="3.3" height="3.3"/><rect x="381.27" y="175.97" width="3.3" height="3.3"/><rect x="392.77" y="175.97" width="3.3" height="3.3"/><rect x="395.12" y="178.04" width="3.3" height="3.3"/><rect x="383.63" y="179.70" width="3.3" height="3.3"/><rect x="369.78" y="183.30" width="3.3" height="3.3"/><rect x="372.00" y="181.50" width="3.3" height="3.3"/><rect x="378.92" y="183.30" width="3.3" height="3.3"/><rect x="381.27" y="183.30" width="3.3" height="3.3"/><rect x="385.84" y="181.50" width="3.3" height="3.3"/><rect x="392.77" y="181.50" width="3.3" height="3.3"/><rect x="395.12" y="181.50" width="3.3" height="3.3"/><rect x="388.20" y="185.24" width="3.3" height="3.3"/><rect x="390.55" y="190.78" width="3.3" height="3.3"/><rect x="452.58" y="154.50" width="3.3" height="3.3"/><rect x="471.27" y="156.17" width="3.3" height="3.3"/><rect x="478.20" y="156.17" width="3.3" height="3.3"/><rect x="480.55" y="152.84" width="3.3" height="3.3"/><rect x="492.04" y="154.50" width="3.3" height="3.3"/><rect x="439.01" y="160.04" width="3.3" height="3.3"/><rect x="478.20" y="161.70" width="3.3" height="3.3"/><rect x="487.47" y="163.50" width="3.3" height="3.3"/><rect x="459.50" y="165.30" width="3.3" height="3.3"/><rect x="452.58" y="167.24" width="3.3" height="3.3"/><rect x="445.93" y="169.04" width="3.3" height="3.3"/><rect x="468.92" y="167.24" width="3.3" height="3.3"/><rect x="473.63" y="171.12" width="3.3" height="3.3"/><rect x="455.07" y="174.58" width="3.3" height="3.3"/></g>
<g fill="#1f3a58"><rect x="372.75" y="47.07" width="1.8" height="1.5"/><rect x="375.10" y="48.87" width="1.8" height="1.5"/><rect x="377.45" y="45.13" width="1.8" height="1.5"/><rect x="379.67" y="43.74" width="1.8" height="1.5"/><rect x="382.02" y="47.07" width="1.8" height="1.5"/><rect x="384.38" y="45.13" width="1.8" height="1.5"/><rect x="386.59" y="48.87" width="1.8" height="1.5"/><rect x="388.95" y="48.87" width="1.8" height="1.5"/><rect x="370.53" y="50.94" width="1.8" height="1.5"/><rect x="391.30" y="52.60" width="1.8" height="1.5"/><rect x="395.87" y="54.40" width="1.8" height="1.5"/><rect x="409.72" y="52.60" width="1.8" height="1.5"/><rect x="421.21" y="54.40" width="1.8" height="1.5"/><rect x="430.07" y="48.87" width="1.8" height="1.5"/><rect x="437.41" y="43.74" width="1.8" height="1.5"/><rect x="384.38" y="59.94" width="1.8" height="1.5"/><rect x="391.30" y="61.74" width="1.8" height="1.5"/><rect x="393.52" y="58.14" width="1.8" height="1.5"/><rect x="402.79" y="59.94" width="1.8" height="1.5"/><rect x="405.15" y="61.74" width="1.8" height="1.5"/><rect x="407.36" y="58.14" width="1.8" height="1.5"/><rect x="412.07" y="61.74" width="1.8" height="1.5"/><rect x="418.99" y="59.94" width="1.8" height="1.5"/><rect x="432.84" y="59.94" width="1.8" height="1.5"/><rect x="435.05" y="63.68" width="1.8" height="1.5"/><rect x="379.67" y="63.68" width="1.8" height="1.5"/><rect x="382.02" y="63.68" width="1.8" height="1.5"/><rect x="395.87" y="68.94" width="1.8" height="1.5"/><rect x="416.64" y="67.28" width="1.8" height="1.5"/><rect x="375.10" y="76.14" width="1.8" height="1.5"/><rect x="379.67" y="76.14" width="1.8" height="1.5"/><rect x="388.95" y="77.94" width="1.8" height="1.5"/><rect x="388.95" y="80.02" width="1.8" height="1.5"/><rect x="382.02" y="79.74" width="1.8" height="1.5"/><rect x="409.72" y="79.74" width="1.8" height="1.5"/><rect x="370.53" y="82.10" width="1.8" height="1.5"/><rect x="372.75" y="81.40" width="1.8" height="1.5"/><rect x="375.10" y="82.10" width="1.8" height="1.5"/><rect x="386.59" y="82.10" width="1.8" height="1.5"/><rect x="388.95" y="84.17" width="1.8" height="1.5"/><rect x="391.30" y="84.17" width="1.8" height="1.5"/><rect x="393.52" y="84.17" width="1.8" height="1.5"/><rect x="400.44" y="83.07" width="1.8" height="1.5"/><rect x="405.15" y="84.87" width="1.8" height="1.5"/><rect x="418.99" y="83.07" width="1.8" height="1.5"/><rect x="435.05" y="83.07" width="1.8" height="1.5"/><rect x="370.53" y="87.22" width="1.8" height="1.5"/><rect x="372.75" y="87.22" width="1.8" height="1.5"/><rect x="375.10" y="87.22" width="1.8" height="1.5"/><rect x="377.45" y="87.22" width="1.8" height="1.5"/><rect x="379.67" y="88.05" width="1.8" height="1.5"/><rect x="382.02" y="87.22" width="1.8" height="1.5"/><rect x="384.38" y="85.56" width="1.8" height="1.5"/><rect x="386.59" y="88.33" width="1.8" height="1.5"/><rect x="430.07" y="86.94" width="1.8" height="1.5"/><rect x="458.59" y="43.74" width="1.8" height="1.5"/><rect x="441.98" y="56.20" width="1.8" height="1.5"/><rect x="444.33" y="54.82" width="1.8" height="1.5"/><rect x="448.90" y="58.14" width="1.8" height="1.5"/><rect x="453.61" y="59.94" width="1.8" height="1.5"/><rect x="455.82" y="63.68" width="1.8" height="1.5"/><rect x="462.75" y="67.28" width="1.8" height="1.5"/><rect x="467.18" y="63.68" width="1.8" height="1.5"/><rect x="469.67" y="72.40" width="1.8" height="1.5"/><rect x="474.38" y="71.02" width="1.8" height="1.5"/><rect x="478.95" y="68.94" width="1.8" height="1.5"/><rect x="483.52" y="74.20" width="1.8" height="1.5"/><rect x="488.22" y="59.94" width="1.8" height="1.5"/><rect x="492.79" y="67.28" width="1.8" height="1.5"/><rect x="497.36" y="72.40" width="1.8" height="1.5"/><rect x="370.53" y="90.30" width="1.8" height="1.5"/><rect x="395.87" y="90.30" width="1.8" height="1.5"/><rect x="398.22" y="90.30" width="1.8" height="1.5"/><rect x="375.10" y="92.51" width="1.8" height="1.5"/><rect x="382.02" y="93.90" width="1.8" height="1.5"/><rect x="384.38" y="93.90" width="1.8" height="1.5"/><rect x="388.95" y="92.51" width="1.8" height="1.5"/><rect x="391.30" y="93.90" width="1.8" height="1.5"/><rect x="393.52" y="93.90" width="1.8" height="1.5"/><rect x="395.87" y="93.90" width="1.8" height="1.5"/><rect x="416.64" y="95.83" width="1.8" height="1.5"/><rect x="421.21" y="95.83" width="1.8" height="1.5"/><rect x="372.75" y="97.63" width="1.8" height="1.5"/><rect x="375.10" y="97.63" width="1.8" height="1.5"/><rect x="377.45" y="97.63" width="1.8" height="1.5"/><rect x="370.53" y="99.43" width="1.8" height="1.5"/><rect x="370.53" y="101.37" width="1.8" height="1.5"/><rect x="372.75" y="99.43" width="1.8" height="1.5"/><rect x="377.45" y="102.76" width="1.8" height="1.5"/><rect x="379.67" y="102.76" width="1.8" height="1.5"/><rect x="379.67" y="99.43" width="1.8" height="1.5"/><rect x="382.02" y="99.43" width="1.8" height="1.5"/><rect x="388.95" y="99.43" width="1.8" height="1.5"/><rect x="388.95" y="101.37" width="1.8" height="1.5"/><rect x="391.30" y="99.43" width="1.8" height="1.5"/><rect x="391.30" y="101.37" width="1.8" height="1.5"/><rect x="393.52" y="98.33" width="1.8" height="1.5"/><rect x="395.87" y="99.43" width="1.8" height="1.5"/><rect x="395.87" y="102.76" width="1.8" height="1.5"/><rect x="395.87" y="104.97" width="1.8" height="1.5"/><rect x="386.59" y="102.76" width="1.8" height="1.5"/><rect x="386.59" y="104.97" width="1.8" height="1.5"/><rect x="400.44" y="102.76" width="1.8" height="1.5"/><rect x="412.07" y="99.43" width="1.8" height="1.5"/><rect x="418.99" y="99.43" width="1.8" height="1.5"/><rect x="430.07" y="102.76" width="1.8" height="1.5"/><rect x="370.53" y="104.97" width="1.8" height="1.5"/><rect x="370.53" y="108.02" width="1.8" height="1.5"/><rect x="372.75" y="108.02" width="1.8" height="1.5"/><rect x="379.67" y="110.10" width="1.8" height="1.5"/><rect x="382.02" y="110.10" width="1.8" height="1.5"/><rect x="384.38" y="106.63" width="1.8" height="1.5"/><rect x="388.95" y="108.71" width="1.8" height="1.5"/><rect x="391.30" y="110.10" width="1.8" height="1.5"/><rect x="395.87" y="108.71" width="1.8" height="1.5"/><rect x="400.44" y="110.10" width="1.8" height="1.5"/><rect x="407.36" y="108.71" width="1.8" height="1.5"/><rect x="423.56" y="108.71" width="1.8" height="1.5"/><rect x="437.41" y="108.71" width="1.8" height="1.5"/><rect x="405.15" y="112.17" width="1.8" height="1.5"/><rect x="409.72" y="112.17" width="1.8" height="1.5"/><rect x="372.75" y="113.56" width="1.8" height="1.5"/><rect x="375.10" y="113.56" width="1.8" height="1.5"/><rect x="379.67" y="113.56" width="1.8" height="1.5"/><rect x="379.67" y="115.63" width="1.8" height="1.5"/><rect x="382.02" y="113.56" width="1.8" height="1.5"/><rect x="382.02" y="115.63" width="1.8" height="1.5"/><rect x="384.38" y="112.17" width="1.8" height="1.5"/><rect x="386.59" y="113.56" width="1.8" height="1.5"/><rect x="370.53" y="115.63" width="1.8" height="1.5"/><rect x="370.53" y="117.43" width="1.8" height="1.5"/><rect x="372.75" y="117.43" width="1.8" height="1.5"/><rect x="375.10" y="117.43" width="1.8" height="1.5"/><rect x="377.45" y="117.43" width="1.8" height="1.5"/><rect x="379.67" y="117.43" width="1.8" height="1.5"/><rect x="382.02" y="117.43" width="1.8" height="1.5"/><rect x="384.38" y="117.43" width="1.8" height="1.5"/><rect x="388.95" y="117.43" width="1.8" height="1.5"/><rect x="391.30" y="117.43" width="1.8" height="1.5"/><rect x="400.44" y="115.63" width="1.8" height="1.5"/><rect x="402.79" y="115.63" width="1.8" height="1.5"/><rect x="414.28" y="117.43" width="1.8" height="1.5"/><rect x="428.13" y="115.63" width="1.8" height="1.5"/><rect x="430.48" y="115.63" width="1.8" height="1.5"/><rect x="370.53" y="119.37" width="1.8" height="1.5"/><rect x="372.75" y="120.20" width="1.8" height="1.5"/><rect x="393.52" y="119.37" width="1.8" height="1.5"/><rect x="400.44" y="119.37" width="1.8" height="1.5"/><rect x="416.64" y="119.37" width="1.8" height="1.5"/><rect x="418.99" y="121.17" width="1.8" height="1.5"/><rect x="423.56" y="121.17" width="1.8" height="1.5"/><rect x="395.87" y="122.97" width="1.8" height="1.5"/><rect x="402.79" y="124.63" width="1.8" height="1.5"/><rect x="409.72" y="122.97" width="1.8" height="1.5"/><rect x="421.21" y="122.97" width="1.8" height="1.5"/><rect x="377.45" y="126.71" width="1.8" height="1.5"/><rect x="384.38" y="128.51" width="1.8" height="1.5"/><rect x="386.59" y="128.51" width="1.8" height="1.5"/><rect x="391.30" y="128.51" width="1.8" height="1.5"/><rect x="393.52" y="126.71" width="1.8" height="1.5"/><rect x="395.87" y="126.71" width="1.8" height="1.5"/><rect x="398.22" y="128.51" width="1.8" height="1.5"/><rect x="398.22" y="130.45" width="1.8" height="1.5"/><rect x="400.44" y="128.51" width="1.8" height="1.5"/><rect x="407.36" y="130.45" width="1.8" height="1.5"/><rect x="412.07" y="130.45" width="1.8" height="1.5"/><rect x="416.64" y="132.25" width="1.8" height="1.5"/><rect x="370.53" y="130.45" width="1.8" height="1.5"/><rect x="370.53" y="132.25" width="1.8" height="1.5"/><rect x="370.53" y="134.33" width="1.8" height="1.5"/><rect x="372.75" y="132.25" width="1.8" height="1.5"/><rect x="372.75" y="134.33" width="1.8" height="1.5"/><rect x="377.45" y="132.25" width="1.8" height="1.5"/><rect x="382.02" y="132.25" width="1.8" height="1.5"/><rect x="384.38" y="132.25" width="1.8" height="1.5"/><rect x="414.28" y="134.05" width="1.8" height="1.5"/><rect x="414.28" y="135.99" width="1.8" height="1.5"/><rect x="377.45" y="135.71" width="1.8" height="1.5"/><rect x="379.67" y="135.71" width="1.8" height="1.5"/><rect x="382.02" y="135.71" width="1.8" height="1.5"/><rect x="388.95" y="135.71" width="1.8" height="1.5"/><rect x="391.30" y="137.37" width="1.8" height="1.5"/><rect x="393.52" y="134.05" width="1.8" height="1.5"/><rect x="395.87" y="134.05" width="1.8" height="1.5"/><rect x="395.87" y="135.71" width="1.8" height="1.5"/><rect x="370.53" y="137.37" width="1.8" height="1.5"/><rect x="372.75" y="137.37" width="1.8" height="1.5"/><rect x="375.10" y="139.17" width="1.8" height="1.5"/><rect x="435.33" y="137.37" width="1.8" height="1.5"/><rect x="379.67" y="140.97" width="1.8" height="1.5"/><rect x="379.67" y="142.91" width="1.8" height="1.5"/><rect x="382.02" y="140.97" width="1.8" height="1.5"/><rect x="386.59" y="140.97" width="1.8" height="1.5"/><rect x="386.59" y="142.91" width="1.8" height="1.5"/><rect x="388.95" y="142.91" width="1.8" height="1.5"/><rect x="391.30" y="140.97" width="1.8" height="1.5"/><rect x="391.30" y="142.91" width="1.8" height="1.5"/><rect x="393.52" y="142.91" width="1.8" height="1.5"/><rect x="395.87" y="140.97" width="1.8" height="1.5"/><rect x="395.87" y="142.91" width="1.8" height="1.5"/><rect x="398.22" y="140.97" width="1.8" height="1.5"/><rect x="405.15" y="140.97" width="1.8" height="1.5"/><rect x="409.72" y="140.97" width="1.8" height="1.5"/><rect x="409.72" y="142.91" width="1.8" height="1.5"/><rect x="421.21" y="140.97" width="1.8" height="1.5"/><rect x="421.21" y="142.91" width="1.8" height="1.5"/><rect x="388.95" y="144.71" width="1.8" height="1.5"/><rect x="386.59" y="146.51" width="1.8" height="1.5"/><rect x="388.95" y="146.51" width="1.8" height="1.5"/><rect x="391.30" y="146.51" width="1.8" height="1.5"/><rect x="393.52" y="146.51" width="1.8" height="1.5"/><rect x="412.07" y="146.51" width="1.8" height="1.5"/><rect x="423.56" y="146.51" width="1.8" height="1.5"/><rect x="428.13" y="146.51" width="1.8" height="1.5"/><rect x="430.48" y="146.51" width="1.8" height="1.5"/><rect x="432.84" y="146.51" width="1.8" height="1.5"/><rect x="430.48" y="148.87" width="1.8" height="1.5"/><rect x="372.75" y="149.56" width="1.8" height="1.5"/><rect x="375.10" y="151.22" width="1.8" height="1.5"/><rect x="395.87" y="151.63" width="1.8" height="1.5"/><rect x="444.33" y="97.63" width="1.8" height="1.5"/><rect x="448.90" y="101.10" width="1.8" height="1.5"/><rect x="465.10" y="96.25" width="1.8" height="1.5"/><rect x="458.18" y="103.17" width="1.8" height="1.5"/><rect x="472.02" y="101.10" width="1.8" height="1.5"/><rect x="467.18" y="106.91" width="1.8" height="1.5"/><rect x="460.25" y="110.51" width="1.8" height="1.5"/><rect x="451.25" y="115.63" width="1.8" height="1.5"/><rect x="446.68" y="117.43" width="1.8" height="1.5"/><rect x="474.38" y="117.43" width="1.8" height="1.5"/><rect x="483.52" y="120.76" width="1.8" height="1.5"/><rect x="472.02" y="137.37" width="1.8" height="1.5"/><rect x="439.76" y="144.30" width="1.8" height="1.5"/><rect x="441.98" y="146.51" width="1.8" height="1.5"/><rect x="451.25" y="144.71" width="1.8" height="1.5"/><rect x="451.25" y="146.51" width="1.8" height="1.5"/><rect x="455.82" y="144.71" width="1.8" height="1.5"/><rect x="458.18" y="144.71" width="1.8" height="1.5"/><rect x="458.18" y="146.51" width="1.8" height="1.5"/><rect x="465.10" y="144.71" width="1.8" height="1.5"/><rect x="469.67" y="144.71" width="1.8" height="1.5"/><rect x="444.33" y="149.83" width="1.8" height="1.5"/><rect x="446.68" y="149.83" width="1.8" height="1.5"/><rect x="462.75" y="149.83" width="1.8" height="1.5"/><rect x="488.22" y="151.63" width="1.8" height="1.5"/><rect x="490.44" y="149.83" width="1.8" height="1.5"/><rect x="497.36" y="151.63" width="1.8" height="1.5"/><rect x="481.30" y="153.02" width="1.8" height="1.5"/><rect x="377.45" y="153.74" width="1.8" height="1.5"/><rect x="386.59" y="153.74" width="1.8" height="1.5"/><rect x="370.53" y="155.68" width="1.8" height="1.5"/><rect x="377.45" y="158.87" width="1.8" height="1.5"/><rect x="375.10" y="160.94" width="1.8" height="1.5"/><rect x="386.59" y="160.94" width="1.8" height="1.5"/><rect x="430.07" y="157.07" width="1.8" height="1.5"/><rect x="398.22" y="162.60" width="1.8" height="1.5"/><rect x="400.44" y="162.60" width="1.8" height="1.5"/><rect x="370.53" y="164.40" width="1.8" height="1.5"/><rect x="375.10" y="166.20" width="1.8" height="1.5"/><rect x="382.02" y="166.20" width="1.8" height="1.5"/><rect x="393.52" y="164.40" width="1.8" height="1.5"/><rect x="391.30" y="166.20" width="1.8" height="1.5"/><rect x="395.87" y="166.20" width="1.8" height="1.5"/><rect x="388.95" y="168.14" width="1.8" height="1.5"/><rect x="370.53" y="169.94" width="1.8" height="1.5"/><rect x="375.10" y="169.94" width="1.8" height="1.5"/><rect x="379.67" y="169.94" width="1.8" height="1.5"/><rect x="379.67" y="171.74" width="1.8" height="1.5"/><rect x="386.59" y="169.94" width="1.8" height="1.5"/><rect x="405.15" y="169.94" width="1.8" height="1.5"/><rect x="409.72" y="171.74" width="1.8" height="1.5"/><rect x="393.52" y="171.74" width="1.8" height="1.5"/><rect x="395.87" y="171.74" width="1.8" height="1.5"/><rect x="370.53" y="176.87" width="1.8" height="1.5"/><rect x="372.75" y="178.94" width="1.8" height="1.5"/><rect x="375.10" y="180.60" width="1.8" height="1.5"/><rect x="382.02" y="176.87" width="1.8" height="1.5"/><rect x="393.52" y="176.87" width="1.8" height="1.5"/><rect x="395.87" y="178.94" width="1.8" height="1.5"/><rect x="384.38" y="180.60" width="1.8" height="1.5"/><rect x="370.53" y="184.20" width="1.8" height="1.5"/><rect x="372.75" y="182.40" width="1.8" height="1.5"/><rect x="379.67" y="184.20" width="1.8" height="1.5"/><rect x="382.02" y="184.20" width="1.8" height="1.5"/><rect x="386.59" y="182.40" width="1.8" height="1.5"/><rect x="393.52" y="182.40" width="1.8" height="1.5"/><rect x="395.87" y="182.40" width="1.8" height="1.5"/><rect x="388.95" y="186.14" width="1.8" height="1.5"/><rect x="391.30" y="191.68" width="1.8" height="1.5"/><rect x="453.33" y="155.40" width="1.8" height="1.5"/><rect x="472.02" y="157.07" width="1.8" height="1.5"/><rect x="478.95" y="157.07" width="1.8" height="1.5"/><rect x="481.30" y="153.74" width="1.8" height="1.5"/><rect x="492.79" y="155.40" width="1.8" height="1.5"/><rect x="439.76" y="160.94" width="1.8" height="1.5"/><rect x="478.95" y="162.60" width="1.8" height="1.5"/><rect x="488.22" y="164.40" width="1.8" height="1.5"/><rect x="460.25" y="166.20" width="1.8" height="1.5"/><rect x="453.33" y="168.14" width="1.8" height="1.5"/><rect x="446.68" y="169.94" width="1.8" height="1.5"/><rect x="469.67" y="168.14" width="1.8" height="1.5"/><rect x="474.38" y="172.02" width="1.8" height="1.5"/><rect x="455.82" y="175.48" width="1.8" height="1.5"/></g>
<line x1="314.30" y1="107.70" x2="369.50" y2="117.06" stroke="#c0345a" stroke-width="1.15"/>
<line x1="371.80" y1="117.81" x2="498.30" y2="119.41" stroke="#4f5e73" stroke-width="1.15"/>
<path d="M52.94,371.49 L56.01,372.23 L59.08,372.97 L62.15,373.70 L65.22,374.43 L68.28,375.15 L71.35,375.86 L74.42,376.56 L77.49,377.26 L80.56,377.94 L83.63,378.61 L86.70,379.27 L89.77,379.91 L92.84,380.54 L95.91,381.15 L98.97,381.74 L102.04,382.31 L105.11,382.85 L108.18,383.37 L111.25,383.86 L114.32,384.32 L117.39,384.74 L120.46,385.14 L123.53,385.51 L126.60,385.85 L129.66,386.15 L132.73,386.43 L135.80,386.68 L138.87,386.91 L141.94,387.12 L145.01,387.30 L148.08,387.46 L151.15,387.61 L154.22,387.74 L157.29,387.86 L160.35,387.97 L163.42,388.06 L166.49,388.15 L169.56,388.23 L172.63,388.30 L175.70,388.36 L175.70,407.04 L172.63,406.31 L169.56,405.60 L166.49,404.89 L163.42,404.19 L160.35,403.50 L157.29,402.82 L154.22,402.15 L151.15,401.49 L148.08,400.86 L145.01,400.23 L141.94,399.63 L138.87,399.05 L135.80,398.49 L132.73,397.96 L129.66,397.45 L126.60,396.97 L123.53,396.52 L120.46,396.10 L117.39,395.71 L114.32,395.36 L111.25,395.03 L108.18,394.73 L105.11,394.46 L102.04,394.22 L98.97,394.00 L95.91,393.80 L92.84,393.62 L89.77,393.47 L86.70,393.32 L83.63,393.20 L80.56,393.08 L77.49,392.98 L74.42,392.89 L71.35,392.80 L68.28,392.73 L65.22,392.66 L62.15,392.60 L59.08,392.55 L56.01,392.50 L52.94,392.46 Z" fill="#c4c6cb" fill-opacity="0.75"/>
<path d="M180.81,395.87 L182.22,395.88 L183.63,395.88 L185.03,395.87 L186.44,395.85 L187.85,395.82 L189.25,395.78 L190.66,395.74 L192.07,395.69 L193.47,395.62 L194.88,395.55 L196.29,395.47 L197.69,395.38 L199.10,395.28 L200.51,395.17 L201.91,395.06 L203.32,394.94 L204.73,394.81 L206.13,394.67 L207.54,394.53 L208.95,394.38 L210.35,394.22 L211.76,394.06 L213.17,393.89 L214.57,393.72 L215.98,393.54 L217.39,393.36 L218.79,393.18 L220.20,392.99 L221.61,392.80 L223.01,392.60 L224.42,392.40 L225.83,392.20 L227.23,392.00 L228.64,391.79 L230.05,391.58 L231.45,391.37 L232.86,391.16 L234.27,390.94 L235.67,390.73 L237.08,390.51 L237.08,406.48 L235.67,406.36 L234.27,406.25 L232.86,406.14 L231.45,406.03 L230.05,405.92 L228.64,405.82 L227.23,405.71 L225.83,405.62 L224.42,405.52 L223.01,405.42 L221.61,405.33 L220.20,405.24 L218.79,405.16 L217.39,405.08 L215.98,405.00 L214.57,404.93 L213.17,404.86 L211.76,404.80 L210.35,404.75 L208.95,404.69 L207.54,404.65 L206.13,404.61 L204.73,404.58 L203.32,404.55 L201.91,404.53 L200.51,404.52 L199.10,404.52 L197.69,404.52 L196.29,404.54 L194.88,404.56 L193.47,404.59 L192.07,404.63 L190.66,404.68 L189.25,404.74 L187.85,404.81 L186.44,404.89 L185.03,404.98 L183.63,405.07 L182.22,405.17 L180.81,405.28 Z" fill="#c4c6cb" fill-opacity="0.75"/>
<path d="M105.00,329.60 C107.17,330.17 113.83,331.77 118.00,333.00 C122.17,334.23 125.33,335.17 130.00,337.00 C134.67,338.83 141.67,342.07 146.00,344.00 C150.33,345.93 152.00,347.60 156.00,348.60 C160.00,349.60 165.00,350.00 170.00,350.00 C175.00,350.00 180.00,349.03 186.00,348.60 C192.00,348.17 200.00,347.40 206.00,347.40 C212.00,347.40 216.83,347.73 222.00,348.60 C227.17,349.47 234.50,351.93 237.00,352.60" fill="none" stroke="#3a3a3a" stroke-width="0.8"/>
<path d="M94.00,307.00 C96.00,310.33 102.00,320.67 106.00,327.00 C110.00,333.33 114.33,340.00 118.00,345.00 C121.67,350.00 124.67,353.17 128.00,357.00 C131.33,360.83 134.67,364.00 138.00,368.00 C141.33,372.00 144.67,376.83 148.00,381.00 C151.33,385.17 155.00,389.67 158.00,393.00 C161.00,396.33 163.67,399.33 166.00,401.00 C168.33,402.67 169.67,403.17 172.00,403.00 C174.33,402.83 177.00,400.83 180.00,400.00 C183.00,399.17 186.50,398.83 190.00,398.00 C193.50,397.17 198.00,396.83 201.00,395.00 C204.00,393.17 205.83,389.17 208.00,387.00 C210.17,384.83 211.83,382.83 214.00,382.00 C216.17,381.17 218.83,380.83 221.00,382.00 C223.17,383.17 225.00,386.33 227.00,389.00 C229.00,391.67 231.33,394.50 233.00,398.00 C234.67,401.50 236.33,408.00 237.00,410.00" fill="none" stroke="#3a3a3a" stroke-width="0.8"/>
<path d="M99.60,325.60 C100.60,328.00 103.53,334.93 105.60,340.00 C107.67,345.07 109.80,350.57 112.00,356.00 C114.20,361.43 116.20,366.88 118.80,372.60 C121.40,378.32 124.65,384.40 127.60,390.30 C130.55,396.20 134.15,403.00 136.50,408.00 C138.85,413.00 139.95,416.80 141.70,420.30 C143.45,423.80 145.23,427.38 147.00,429.00 C148.77,430.62 149.30,429.33 152.30,430.00 C155.30,430.67 160.38,431.68 165.00,433.00 C169.62,434.32 175.00,436.98 180.00,437.90 C185.00,438.82 190.00,438.73 195.00,438.50 C200.00,438.27 203.83,436.83 210.00,436.50 C216.17,436.17 228.33,436.50 232.00,436.50" fill="none" stroke="#3a3a3a" stroke-width="0.8"/>
<path d="M119.60,321.00 C120.58,324.17 123.52,334.00 125.50,340.00 C127.48,346.00 129.35,351.83 131.50,357.00 C133.65,362.17 136.08,367.17 138.40,371.00 C140.72,374.83 143.08,377.38 145.40,380.00 C147.72,382.62 150.00,384.43 152.30,386.70 C154.60,388.97 156.92,391.28 159.20,393.60 C161.48,395.92 163.98,399.15 166.00,400.60 C168.02,402.05 169.30,402.73 171.30,402.30 C173.30,401.87 174.88,399.55 178.00,398.00 C181.12,396.45 185.50,394.50 190.00,393.00 C194.50,391.50 200.00,390.00 205.00,389.00 C210.00,388.00 214.67,387.50 220.00,387.00 C225.33,386.50 234.17,386.17 237.00,386.00" fill="none" stroke="#3a3a3a" stroke-width="0.8"/>
<path d="M68.40,338.60 C70.00,341.17 74.80,348.77 78.00,354.00 C81.20,359.23 84.27,365.50 87.60,370.00 C90.93,374.50 94.27,378.00 98.00,381.00 C101.73,384.00 105.67,386.00 110.00,388.00 C114.33,390.00 119.00,391.33 124.00,393.00 C129.00,394.67 134.00,396.50 140.00,398.00 C146.00,399.50 153.33,401.00 160.00,402.00 C166.67,403.00 173.33,404.00 180.00,404.00 C186.67,404.00 193.33,403.33 200.00,402.00 C206.67,400.67 213.83,398.17 220.00,396.00 C226.17,393.83 234.17,390.17 237.00,389.00" fill="none" stroke="#3a3a3a" stroke-width="0.8"/>
<path d="M53.00,377.30 C54.50,378.23 58.67,381.07 62.00,382.90 C65.33,384.73 69.40,386.60 73.00,388.30 C76.60,390.00 79.77,391.58 83.60,393.10 C87.43,394.62 91.60,395.92 96.00,397.40 C100.40,398.88 105.33,400.65 110.00,402.00 C114.67,403.35 117.67,404.17 124.00,405.50 C130.33,406.83 140.33,409.08 148.00,410.00 C155.67,410.92 163.77,410.83 170.00,411.00 C176.23,411.17 180.27,410.72 185.40,411.00 C190.53,411.28 195.70,412.17 200.80,412.70 C205.90,413.23 209.97,413.68 216.00,414.20 C222.03,414.72 233.50,415.53 237.00,415.80" fill="none" stroke="#3a3a3a" stroke-width="0.8"/>
<path d="M63.20,385.00 C65.13,385.25 70.33,386.63 74.80,386.50 C79.27,386.37 84.37,384.83 90.00,384.20 C95.63,383.57 102.33,383.30 108.60,382.70 C114.87,382.10 121.48,380.80 127.60,380.60 C133.72,380.40 139.40,380.93 145.30,381.50 C151.20,382.07 157.22,383.27 163.00,384.00 C168.78,384.73 173.83,385.98 180.00,385.90 C186.17,385.82 193.33,384.15 200.00,383.50 C206.67,382.85 213.83,381.92 220.00,382.00 C226.17,382.08 234.17,383.67 237.00,384.00" fill="none" stroke="#3a3a3a" stroke-width="0.8"/>
<path d="M57.80,380.80 C60.67,381.33 68.63,382.85 75.00,384.00 C81.37,385.15 88.50,386.53 96.00,387.70 C103.50,388.87 111.83,390.12 120.00,391.00 C128.17,391.88 137.50,392.67 145.00,393.00 C152.50,393.33 158.33,393.33 165.00,393.00 C171.67,392.67 178.33,392.17 185.00,391.00 C191.67,389.83 199.17,387.83 205.00,386.00 C210.83,384.17 214.62,382.07 220.00,380.00 C225.38,377.93 234.42,374.67 237.30,373.60" fill="none" stroke="#3a3a3a" stroke-width="0.8"/>
<path d="M53.00,413.00 C53.80,412.65 56.10,411.88 57.80,410.90 C59.50,409.92 61.40,408.00 63.20,407.10 C65.00,406.20 66.08,406.48 68.60,405.50 C71.12,404.52 74.90,402.37 78.30,401.20 C81.70,400.03 86.05,399.03 89.00,398.50 C91.95,397.97 92.50,398.17 96.00,398.00 C99.50,397.83 104.33,397.50 110.00,397.50 C115.67,397.50 123.33,397.08 130.00,398.00 C136.67,398.92 143.33,401.67 150.00,403.00 C156.67,404.33 161.67,405.67 170.00,406.00 C178.33,406.33 191.67,406.00 200.00,405.00 C208.33,404.00 213.83,401.83 220.00,400.00 C226.17,398.17 234.17,395.00 237.00,394.00" fill="none" stroke="#3a3a3a" stroke-width="0.8"/>
<path d="M53.00,414.00 C54.52,413.48 58.78,411.78 62.10,410.90 C65.42,410.02 69.32,409.33 72.90,408.70 C76.48,408.07 79.75,407.37 83.60,407.10 C87.45,406.83 91.07,406.68 96.00,407.10 C100.93,407.52 107.53,408.62 113.20,409.60 C118.87,410.58 123.87,411.93 130.00,413.00 C136.13,414.07 143.33,415.17 150.00,416.00 C156.67,416.83 161.67,417.50 170.00,418.00 C178.33,418.50 191.67,418.67 200.00,419.00 C208.33,419.33 213.83,419.67 220.00,420.00 C226.17,420.33 234.17,420.83 237.00,421.00" fill="none" stroke="#3a3a3a" stroke-width="0.8"/>
<path d="M68.60,398.50 C70.22,398.95 74.90,400.22 78.30,401.20 C81.70,402.18 86.05,403.42 89.00,404.40 C91.95,405.38 92.50,406.17 96.00,407.10 C99.50,408.03 104.33,409.02 110.00,410.00 C115.67,410.98 123.33,412.00 130.00,413.00 C136.67,414.00 143.33,415.00 150.00,416.00 C156.67,417.00 163.33,418.08 170.00,419.00 C176.67,419.92 183.33,420.83 190.00,421.50 C196.67,422.17 202.17,422.50 210.00,423.00 C217.83,423.50 232.50,424.25 237.00,424.50" fill="none" stroke="#3a3a3a" stroke-width="0.8"/>
<line x1="52.94" y1="381.97" x2="175.70" y2="397.70" stroke="#c0345a" stroke-width="1.15"/>
<line x1="180.81" y1="400.58" x2="237.08" y2="398.49" stroke="#4f5e73" stroke-width="1.15"/>
<g fill="#f8dbe3"><rect x="92.35" y="305.35" width="3.3" height="3.3"/><rect x="117.95" y="319.35" width="3.3" height="3.3"/><rect x="117.95" y="322.95" width="3.3" height="3.3"/><rect x="112.35" y="324.95" width="3.3" height="3.3"/><rect x="107.35" y="323.35" width="3.3" height="3.3"/><rect x="107.35" y="328.95" width="3.3" height="3.3"/><rect x="102.35" y="335.75" width="3.3" height="3.3"/><rect x="97.35" y="337.75" width="3.3" height="3.3"/><rect x="66.75" y="336.95" width="3.3" height="3.3"/><rect x="81.95" y="346.95" width="3.3" height="3.3"/><rect x="128.35" y="335.35" width="3.3" height="3.3"/><rect x="133.35" y="337.75" width="3.3" height="3.3"/><rect x="137.95" y="339.75" width="3.3" height="3.3"/><rect x="148.35" y="342.95" width="3.3" height="3.3"/><rect x="153.95" y="346.95" width="3.3" height="3.3"/><rect x="163.95" y="352.35" width="3.3" height="3.3"/><rect x="169.35" y="348.35" width="3.3" height="3.3"/><rect x="174.35" y="350.35" width="3.3" height="3.3"/><rect x="51.27" y="375.66" width="3.3" height="3.3"/><rect x="51.27" y="384.89" width="3.3" height="3.3"/><rect x="61.58" y="384.89" width="3.3" height="3.3"/><rect x="66.66" y="379.50" width="3.3" height="3.3"/><rect x="82.04" y="377.66" width="3.3" height="3.3"/><rect x="71.58" y="391.81" width="3.3" height="3.3"/><rect x="66.66" y="397.20" width="3.3" height="3.3"/><rect x="76.97" y="397.20" width="3.3" height="3.3"/><rect x="76.97" y="398.73" width="3.3" height="3.3"/><rect x="61.58" y="404.89" width="3.3" height="3.3"/><rect x="66.66" y="404.12" width="3.3" height="3.3"/><rect x="56.50" y="408.43" width="3.3" height="3.3"/><rect x="56.50" y="410.27" width="3.3" height="3.3"/><rect x="51.27" y="415.20" width="3.3" height="3.3"/><rect x="71.58" y="417.20" width="3.3" height="3.3"/><rect x="82.04" y="415.20" width="3.3" height="3.3"/><rect x="86.97" y="388.43" width="3.3" height="3.3"/><rect x="92.35" y="391.50" width="3.3" height="3.3"/><rect x="96.97" y="387.97" width="3.3" height="3.3"/><rect x="96.97" y="395.66" width="3.3" height="3.3"/><rect x="102.35" y="391.81" width="3.3" height="3.3"/><rect x="102.35" y="386.43" width="3.3" height="3.3"/><rect x="107.73" y="381.04" width="3.3" height="3.3"/><rect x="107.73" y="394.89" width="3.3" height="3.3"/><rect x="112.81" y="397.20" width="3.3" height="3.3"/><rect x="117.73" y="397.20" width="3.3" height="3.3"/><rect x="112.81" y="401.04" width="3.3" height="3.3"/><rect x="112.81" y="402.89" width="3.3" height="3.3"/><rect x="117.73" y="411.04" width="3.3" height="3.3"/><rect x="102.35" y="407.97" width="3.3" height="3.3"/><rect x="96.97" y="402.58" width="3.3" height="3.3"/><rect x="107.73" y="404.12" width="3.3" height="3.3"/><rect x="102.35" y="401.04" width="3.3" height="3.3"/><rect x="128.15" y="379.45" width="3.3" height="3.3"/><rect x="128.15" y="382.95" width="3.3" height="3.3"/><rect x="143.35" y="379.45" width="3.3" height="3.3"/><rect x="153.85" y="381.25" width="3.3" height="3.3"/><rect x="169.15" y="384.75" width="3.3" height="3.3"/><rect x="169.15" y="388.35" width="3.3" height="3.3"/><rect x="169.15" y="390.35" width="3.3" height="3.3"/><rect x="173.95" y="384.75" width="3.3" height="3.3"/><rect x="173.95" y="388.35" width="3.3" height="3.3"/><rect x="173.95" y="390.35" width="3.3" height="3.3"/><rect x="148.55" y="395.65" width="3.3" height="3.3"/><rect x="148.55" y="397.35" width="3.3" height="3.3"/><rect x="159.35" y="395.65" width="3.3" height="3.3"/><rect x="123.35" y="393.55" width="3.3" height="3.3"/><rect x="112.75" y="397.05" width="3.3" height="3.3"/><rect x="112.75" y="400.95" width="3.3" height="3.3"/><rect x="118.05" y="397.35" width="3.3" height="3.3"/><rect x="133.05" y="400.65" width="3.3" height="3.3"/><rect x="138.35" y="400.65" width="3.3" height="3.3"/><rect x="143.65" y="398.85" width="3.3" height="3.3"/><rect x="153.85" y="400.95" width="3.3" height="3.3"/><rect x="159.35" y="402.75" width="3.3" height="3.3"/><rect x="169.15" y="400.05" width="3.3" height="3.3"/><rect x="169.15" y="405.95" width="3.3" height="3.3"/><rect x="173.95" y="403.65" width="3.3" height="3.3"/><rect x="173.95" y="408.05" width="3.3" height="3.3"/><rect x="173.95" y="409.75" width="3.3" height="3.3"/><rect x="138.35" y="405.95" width="3.3" height="3.3"/><rect x="148.55" y="405.35" width="3.3" height="3.3"/><rect x="153.85" y="408.05" width="3.3" height="3.3"/><rect x="164.35" y="408.05" width="3.3" height="3.3"/><rect x="118.05" y="411.55" width="3.3" height="3.3"/><rect x="143.65" y="413.35" width="3.3" height="3.3"/><rect x="148.55" y="415.05" width="3.3" height="3.3"/><rect x="153.85" y="415.05" width="3.3" height="3.3"/><rect x="159.35" y="413.35" width="3.3" height="3.3"/><rect x="164.35" y="413.35" width="3.3" height="3.3"/><rect x="164.35" y="416.85" width="3.3" height="3.3"/><rect x="169.15" y="418.95" width="3.3" height="3.3"/><rect x="173.95" y="418.95" width="3.3" height="3.3"/><rect x="123.35" y="420.75" width="3.3" height="3.3"/><rect x="138.35" y="418.95" width="3.3" height="3.3"/><rect x="148.55" y="428.35" width="3.3" height="3.3"/><rect x="143.65" y="431.85" width="3.3" height="3.3"/><rect x="169.15" y="428.35" width="3.3" height="3.3"/><rect x="173.95" y="428.35" width="3.3" height="3.3"/><rect x="173.95" y="439.25" width="3.3" height="3.3"/><rect x="174.55" y="402.55" width="3.3" height="3.3"/><rect x="174.55" y="408.75" width="3.3" height="3.3"/><rect x="174.55" y="418.75" width="3.3" height="3.3"/><rect x="169.15" y="418.75" width="3.3" height="3.3"/><rect x="174.55" y="427.95" width="3.3" height="3.3"/><rect x="169.15" y="427.95" width="3.3" height="3.3"/><rect x="174.55" y="438.75" width="3.3" height="3.3"/></g>
<g fill="#7c1c3c"><rect x="93.10" y="306.25" width="1.8" height="1.5"/><rect x="118.70" y="320.25" width="1.8" height="1.5"/><rect x="118.70" y="323.85" width="1.8" height="1.5"/><rect x="113.10" y="325.85" width="1.8" height="1.5"/><rect x="108.10" y="324.25" width="1.8" height="1.5"/><rect x="108.10" y="329.85" width="1.8" height="1.5"/><rect x="103.10" y="336.65" width="1.8" height="1.5"/><rect x="98.10" y="338.65" width="1.8" height="1.5"/><rect x="67.50" y="337.85" width="1.8" height="1.5"/><rect x="82.70" y="347.85" width="1.8" height="1.5"/><rect x="129.10" y="336.25" width="1.8" height="1.5"/><rect x="134.10" y="338.65" width="1.8" height="1.5"/><rect x="138.70" y="340.65" width="1.8" height="1.5"/><rect x="149.10" y="343.85" width="1.8" height="1.5"/><rect x="154.70" y="347.85" width="1.8" height="1.5"/><rect x="164.70" y="353.25" width="1.8" height="1.5"/><rect x="170.10" y="349.25" width="1.8" height="1.5"/><rect x="175.10" y="351.25" width="1.8" height="1.5"/><rect x="52.02" y="376.56" width="1.8" height="1.5"/><rect x="52.02" y="385.79" width="1.8" height="1.5"/><rect x="62.33" y="385.79" width="1.8" height="1.5"/><rect x="67.41" y="380.40" width="1.8" height="1.5"/><rect x="82.79" y="378.56" width="1.8" height="1.5"/><rect x="72.33" y="392.71" width="1.8" height="1.5"/><rect x="67.41" y="398.10" width="1.8" height="1.5"/><rect x="77.72" y="398.10" width="1.8" height="1.5"/><rect x="77.72" y="399.63" width="1.8" height="1.5"/><rect x="62.33" y="405.79" width="1.8" height="1.5"/><rect x="67.41" y="405.02" width="1.8" height="1.5"/><rect x="57.25" y="409.33" width="1.8" height="1.5"/><rect x="57.25" y="411.17" width="1.8" height="1.5"/><rect x="52.02" y="416.10" width="1.8" height="1.5"/><rect x="72.33" y="418.10" width="1.8" height="1.5"/><rect x="82.79" y="416.10" width="1.8" height="1.5"/><rect x="87.72" y="389.33" width="1.8" height="1.5"/><rect x="93.10" y="392.40" width="1.8" height="1.5"/><rect x="97.72" y="388.87" width="1.8" height="1.5"/><rect x="97.72" y="396.56" width="1.8" height="1.5"/><rect x="103.10" y="392.71" width="1.8" height="1.5"/><rect x="103.10" y="387.33" width="1.8" height="1.5"/><rect x="108.48" y="381.94" width="1.8" height="1.5"/><rect x="108.48" y="395.79" width="1.8" height="1.5"/><rect x="113.56" y="398.10" width="1.8" height="1.5"/><rect x="118.48" y="398.10" width="1.8" height="1.5"/><rect x="113.56" y="401.94" width="1.8" height="1.5"/><rect x="113.56" y="403.79" width="1.8" height="1.5"/><rect x="118.48" y="411.94" width="1.8" height="1.5"/><rect x="103.10" y="408.87" width="1.8" height="1.5"/><rect x="97.72" y="403.48" width="1.8" height="1.5"/><rect x="108.48" y="405.02" width="1.8" height="1.5"/><rect x="103.10" y="401.94" width="1.8" height="1.5"/><rect x="128.90" y="380.35" width="1.8" height="1.5"/><rect x="128.90" y="383.85" width="1.8" height="1.5"/><rect x="144.10" y="380.35" width="1.8" height="1.5"/><rect x="154.60" y="382.15" width="1.8" height="1.5"/><rect x="169.90" y="385.65" width="1.8" height="1.5"/><rect x="169.90" y="389.25" width="1.8" height="1.5"/><rect x="169.90" y="391.25" width="1.8" height="1.5"/><rect x="174.70" y="385.65" width="1.8" height="1.5"/><rect x="174.70" y="389.25" width="1.8" height="1.5"/><rect x="174.70" y="391.25" width="1.8" height="1.5"/><rect x="149.30" y="396.55" width="1.8" height="1.5"/><rect x="149.30" y="398.25" width="1.8" height="1.5"/><rect x="160.10" y="396.55" width="1.8" height="1.5"/><rect x="124.10" y="394.45" width="1.8" height="1.5"/><rect x="113.50" y="397.95" width="1.8" height="1.5"/><rect x="113.50" y="401.85" width="1.8" height="1.5"/><rect x="118.80" y="398.25" width="1.8" height="1.5"/><rect x="133.80" y="401.55" width="1.8" height="1.5"/><rect x="139.10" y="401.55" width="1.8" height="1.5"/><rect x="144.40" y="399.75" width="1.8" height="1.5"/><rect x="154.60" y="401.85" width="1.8" height="1.5"/><rect x="160.10" y="403.65" width="1.8" height="1.5"/><rect x="169.90" y="400.95" width="1.8" height="1.5"/><rect x="169.90" y="406.85" width="1.8" height="1.5"/><rect x="174.70" y="404.55" width="1.8" height="1.5"/><rect x="174.70" y="408.95" width="1.8" height="1.5"/><rect x="174.70" y="410.65" width="1.8" height="1.5"/><rect x="139.10" y="406.85" width="1.8" height="1.5"/><rect x="149.30" y="406.25" width="1.8" height="1.5"/><rect x="154.60" y="408.95" width="1.8" height="1.5"/><rect x="165.10" y="408.95" width="1.8" height="1.5"/><rect x="118.80" y="412.45" width="1.8" height="1.5"/><rect x="144.40" y="414.25" width="1.8" height="1.5"/><rect x="149.30" y="415.95" width="1.8" height="1.5"/><rect x="154.60" y="415.95" width="1.8" height="1.5"/><rect x="160.10" y="414.25" width="1.8" height="1.5"/><rect x="165.10" y="414.25" width="1.8" height="1.5"/><rect x="165.10" y="417.75" width="1.8" height="1.5"/><rect x="169.90" y="419.85" width="1.8" height="1.5"/><rect x="174.70" y="419.85" width="1.8" height="1.5"/><rect x="124.10" y="421.65" width="1.8" height="1.5"/><rect x="139.10" y="419.85" width="1.8" height="1.5"/><rect x="149.30" y="429.25" width="1.8" height="1.5"/><rect x="144.40" y="432.75" width="1.8" height="1.5"/><rect x="169.90" y="429.25" width="1.8" height="1.5"/><rect x="174.70" y="429.25" width="1.8" height="1.5"/><rect x="174.70" y="440.15" width="1.8" height="1.5"/><rect x="175.30" y="403.45" width="1.8" height="1.5"/><rect x="175.30" y="409.65" width="1.8" height="1.5"/><rect x="175.30" y="419.65" width="1.8" height="1.5"/><rect x="169.90" y="419.65" width="1.8" height="1.5"/><rect x="175.30" y="428.85" width="1.8" height="1.5"/><rect x="169.90" y="428.85" width="1.8" height="1.5"/><rect x="175.30" y="439.65" width="1.8" height="1.5"/></g>
<g fill="#d9e9f5"><rect x="179.35" y="350.35" width="3.3" height="3.3"/><rect x="184.35" y="342.95" width="3.3" height="3.3"/><rect x="189.95" y="345.35" width="3.3" height="3.3"/><rect x="194.75" y="345.35" width="3.3" height="3.3"/><rect x="199.95" y="345.35" width="3.3" height="3.3"/><rect x="204.75" y="345.35" width="3.3" height="3.3"/><rect x="209.95" y="348.35" width="3.3" height="3.3"/><rect x="215.35" y="348.35" width="3.3" height="3.3"/><rect x="220.35" y="346.95" width="3.3" height="3.3"/><rect x="225.35" y="348.35" width="3.3" height="3.3"/><rect x="230.75" y="355.75" width="3.3" height="3.3"/><rect x="235.95" y="346.95" width="3.3" height="3.3"/><rect x="189.55" y="373.85" width="3.3" height="3.3"/><rect x="199.75" y="375.35" width="3.3" height="3.3"/><rect x="205.05" y="377.35" width="3.3" height="3.3"/><rect x="215.15" y="375.35" width="3.3" height="3.3"/><rect x="225.55" y="375.35" width="3.3" height="3.3"/><rect x="231.05" y="377.35" width="3.3" height="3.3"/><rect x="235.65" y="371.95" width="3.3" height="3.3"/><rect x="179.15" y="382.75" width="3.3" height="3.3"/><rect x="184.85" y="382.75" width="3.3" height="3.3"/><rect x="179.15" y="389.95" width="3.3" height="3.3"/><rect x="184.85" y="389.95" width="3.3" height="3.3"/><rect x="199.75" y="388.55" width="3.3" height="3.3"/><rect x="199.75" y="389.95" width="3.3" height="3.3"/><rect x="210.55" y="388.55" width="3.3" height="3.3"/><rect x="215.15" y="382.75" width="3.3" height="3.3"/><rect x="220.35" y="382.75" width="3.3" height="3.3"/><rect x="220.35" y="384.35" width="3.3" height="3.3"/><rect x="225.55" y="389.95" width="3.3" height="3.3"/><rect x="231.05" y="384.35" width="3.3" height="3.3"/><rect x="235.65" y="384.35" width="3.3" height="3.3"/><rect x="235.65" y="393.65" width="3.3" height="3.3"/><rect x="220.35" y="393.65" width="3.3" height="3.3"/><rect x="210.55" y="395.35" width="3.3" height="3.3"/><rect x="184.85" y="395.35" width="3.3" height="3.3"/><rect x="179.35" y="409.35" width="3.3" height="3.3"/><rect x="179.35" y="411.85" width="3.3" height="3.3"/><rect x="184.35" y="413.35" width="3.3" height="3.3"/><rect x="179.35" y="415.65" width="3.3" height="3.3"/><rect x="179.35" y="417.95" width="3.3" height="3.3"/><rect x="179.35" y="420.35" width="3.3" height="3.3"/><rect x="184.35" y="417.95" width="3.3" height="3.3"/><rect x="184.35" y="424.15" width="3.3" height="3.3"/><rect x="184.35" y="429.95" width="3.3" height="3.3"/><rect x="189.35" y="417.35" width="3.3" height="3.3"/><rect x="189.35" y="420.75" width="3.3" height="3.3"/><rect x="194.85" y="425.65" width="3.3" height="3.3"/><rect x="194.85" y="407.95" width="3.3" height="3.3"/><rect x="199.85" y="413.35" width="3.3" height="3.3"/><rect x="199.85" y="417.35" width="3.3" height="3.3"/><rect x="199.85" y="422.55" width="3.3" height="3.3"/><rect x="204.95" y="409.55" width="3.3" height="3.3"/><rect x="204.95" y="415.15" width="3.3" height="3.3"/><rect x="210.15" y="409.55" width="3.3" height="3.3"/><rect x="210.15" y="411.85" width="3.3" height="3.3"/><rect x="210.15" y="413.35" width="3.3" height="3.3"/><rect x="215.35" y="413.35" width="3.3" height="3.3"/><rect x="215.35" y="418.75" width="3.3" height="3.3"/><rect x="215.35" y="420.75" width="3.3" height="3.3"/><rect x="215.35" y="424.15" width="3.3" height="3.3"/><rect x="215.35" y="429.95" width="3.3" height="3.3"/><rect x="220.35" y="407.95" width="3.3" height="3.3"/><rect x="220.35" y="410.35" width="3.3" height="3.3"/><rect x="220.35" y="418.75" width="3.3" height="3.3"/><rect x="225.35" y="409.55" width="3.3" height="3.3"/><rect x="225.55" y="415.15" width="3.3" height="3.3"/><rect x="230.65" y="418.75" width="3.3" height="3.3"/><rect x="230.65" y="420.75" width="3.3" height="3.3"/><rect x="230.65" y="422.55" width="3.3" height="3.3"/><rect x="235.75" y="415.65" width="3.3" height="3.3"/><rect x="235.75" y="417.95" width="3.3" height="3.3"/><rect x="235.75" y="420.35" width="3.3" height="3.3"/><rect x="235.75" y="422.55" width="3.3" height="3.3"/><rect x="230.65" y="435.15" width="3.3" height="3.3"/><rect x="189.35" y="438.75" width="3.3" height="3.3"/><rect x="184.35" y="395.65" width="3.3" height="3.3"/><rect x="184.35" y="405.65" width="3.3" height="3.3"/><rect x="189.35" y="405.65" width="3.3" height="3.3"/><rect x="194.85" y="404.15" width="3.3" height="3.3"/><rect x="189.35" y="396.35" width="3.3" height="3.3"/><rect x="210.15" y="395.65" width="3.3" height="3.3"/><rect x="220.35" y="394.85" width="3.3" height="3.3"/></g>
<g fill="#1f3a58"><rect x="180.10" y="351.25" width="1.8" height="1.5"/><rect x="185.10" y="343.85" width="1.8" height="1.5"/><rect x="190.70" y="346.25" width="1.8" height="1.5"/><rect x="195.50" y="346.25" width="1.8" height="1.5"/><rect x="200.70" y="346.25" width="1.8" height="1.5"/><rect x="205.50" y="346.25" width="1.8" height="1.5"/><rect x="210.70" y="349.25" width="1.8" height="1.5"/><rect x="216.10" y="349.25" width="1.8" height="1.5"/><rect x="221.10" y="347.85" width="1.8" height="1.5"/><rect x="226.10" y="349.25" width="1.8" height="1.5"/><rect x="231.50" y="356.65" width="1.8" height="1.5"/><rect x="236.70" y="347.85" width="1.8" height="1.5"/><rect x="190.30" y="374.75" width="1.8" height="1.5"/><rect x="200.50" y="376.25" width="1.8" height="1.5"/><rect x="205.80" y="378.25" width="1.8" height="1.5"/><rect x="215.90" y="376.25" width="1.8" height="1.5"/><rect x="226.30" y="376.25" width="1.8" height="1.5"/><rect x="231.80" y="378.25" width="1.8" height="1.5"/><rect x="236.40" y="372.85" width="1.8" height="1.5"/><rect x="179.90" y="383.65" width="1.8" height="1.5"/><rect x="185.60" y="383.65" width="1.8" height="1.5"/><rect x="179.90" y="390.85" width="1.8" height="1.5"/><rect x="185.60" y="390.85" width="1.8" height="1.5"/><rect x="200.50" y="389.45" width="1.8" height="1.5"/><rect x="200.50" y="390.85" width="1.8" height="1.5"/><rect x="211.30" y="389.45" width="1.8" height="1.5"/><rect x="215.90" y="383.65" width="1.8" height="1.5"/><rect x="221.10" y="383.65" width="1.8" height="1.5"/><rect x="221.10" y="385.25" width="1.8" height="1.5"/><rect x="226.30" y="390.85" width="1.8" height="1.5"/><rect x="231.80" y="385.25" width="1.8" height="1.5"/><rect x="236.40" y="385.25" width="1.8" height="1.5"/><rect x="236.40" y="394.55" width="1.8" height="1.5"/><rect x="221.10" y="394.55" width="1.8" height="1.5"/><rect x="211.30" y="396.25" width="1.8" height="1.5"/><rect x="185.60" y="396.25" width="1.8" height="1.5"/><rect x="180.10" y="410.25" width="1.8" height="1.5"/><rect x="180.10" y="412.75" width="1.8" height="1.5"/><rect x="185.10" y="414.25" width="1.8" height="1.5"/><rect x="180.10" y="416.55" width="1.8" height="1.5"/><rect x="180.10" y="418.85" width="1.8" height="1.5"/><rect x="180.10" y="421.25" width="1.8" height="1.5"/><rect x="185.10" y="418.85" width="1.8" height="1.5"/><rect x="185.10" y="425.05" width="1.8" height="1.5"/><rect x="185.10" y="430.85" width="1.8" height="1.5"/><rect x="190.10" y="418.25" width="1.8" height="1.5"/><rect x="190.10" y="421.65" width="1.8" height="1.5"/><rect x="195.60" y="426.55" width="1.8" height="1.5"/><rect x="195.60" y="408.85" width="1.8" height="1.5"/><rect x="200.60" y="414.25" width="1.8" height="1.5"/><rect x="200.60" y="418.25" width="1.8" height="1.5"/><rect x="200.60" y="423.45" width="1.8" height="1.5"/><rect x="205.70" y="410.45" width="1.8" height="1.5"/><rect x="205.70" y="416.05" width="1.8" height="1.5"/><rect x="210.90" y="410.45" width="1.8" height="1.5"/><rect x="210.90" y="412.75" width="1.8" height="1.5"/><rect x="210.90" y="414.25" width="1.8" height="1.5"/><rect x="216.10" y="414.25" width="1.8" height="1.5"/><rect x="216.10" y="419.65" width="1.8" height="1.5"/><rect x="216.10" y="421.65" width="1.8" height="1.5"/><rect x="216.10" y="425.05" width="1.8" height="1.5"/><rect x="216.10" y="430.85" width="1.8" height="1.5"/><rect x="221.10" y="408.85" width="1.8" height="1.5"/><rect x="221.10" y="411.25" width="1.8" height="1.5"/><rect x="221.10" y="419.65" width="1.8" height="1.5"/><rect x="226.10" y="410.45" width="1.8" height="1.5"/><rect x="226.30" y="416.05" width="1.8" height="1.5"/><rect x="231.40" y="419.65" width="1.8" height="1.5"/><rect x="231.40" y="421.65" width="1.8" height="1.5"/><rect x="231.40" y="423.45" width="1.8" height="1.5"/><rect x="236.50" y="416.55" width="1.8" height="1.5"/><rect x="236.50" y="418.85" width="1.8" height="1.5"/><rect x="236.50" y="421.25" width="1.8" height="1.5"/><rect x="236.50" y="423.45" width="1.8" height="1.5"/><rect x="231.40" y="436.05" width="1.8" height="1.5"/><rect x="190.10" y="439.65" width="1.8" height="1.5"/><rect x="185.10" y="396.55" width="1.8" height="1.5"/><rect x="185.10" y="406.55" width="1.8" height="1.5"/><rect x="190.10" y="406.55" width="1.8" height="1.5"/><rect x="195.60" y="405.05" width="1.8" height="1.5"/><rect x="190.10" y="397.25" width="1.8" height="1.5"/><rect x="210.90" y="396.55" width="1.8" height="1.5"/><rect x="221.10" y="395.75" width="1.8" height="1.5"/></g>
<path d="M313.84,337.55 L316.91,338.36 L319.98,339.17 L323.05,339.98 L326.12,340.78 L329.19,341.58 L332.25,342.38 L335.32,343.17 L338.39,343.96 L341.46,344.74 L344.53,345.52 L347.60,346.29 L350.67,347.05 L353.74,347.80 L356.81,348.54 L359.88,349.27 L362.94,349.99 L366.01,350.69 L369.08,351.37 L372.15,352.04 L375.22,352.69 L378.29,353.31 L381.36,353.90 L384.43,354.47 L387.50,355.00 L390.56,355.50 L393.63,355.96 L396.70,356.39 L399.77,356.78 L402.84,357.13 L405.91,357.45 L408.98,357.74 L412.05,357.99 L415.12,358.22 L418.19,358.42 L421.25,358.60 L424.32,358.76 L427.39,358.91 L430.46,359.03 L433.53,359.15 L436.60,359.25 L436.60,374.45 L433.53,373.71 L430.46,372.99 L427.39,372.28 L424.32,371.58 L421.25,370.90 L418.19,370.24 L415.12,369.60 L412.05,368.99 L408.98,368.41 L405.91,367.85 L402.84,367.33 L399.77,366.84 L396.70,366.39 L393.63,365.98 L390.56,365.60 L387.50,365.26 L384.43,364.95 L381.36,364.67 L378.29,364.43 L375.22,364.21 L372.15,364.01 L369.08,363.84 L366.01,363.69 L362.94,363.55 L359.88,363.42 L356.81,363.31 L353.74,363.22 L350.67,363.13 L347.60,363.05 L344.53,362.98 L341.46,362.91 L338.39,362.85 L335.32,362.80 L332.25,362.75 L329.19,362.71 L326.12,362.67 L323.05,362.63 L319.98,362.60 L316.91,362.56 L313.84,362.54 Z" fill="#c4c6cb" fill-opacity="0.75"/>
<path d="M441.72,353.65 L443.12,353.97 L444.53,354.28 L445.93,354.58 L447.34,354.87 L448.75,355.14 L450.15,355.41 L451.56,355.66 L452.97,355.90 L454.37,356.13 L455.78,356.34 L457.19,356.54 L458.59,356.72 L460.00,356.88 L461.41,357.03 L462.81,357.16 L464.22,357.27 L465.63,357.36 L467.03,357.43 L468.44,357.49 L469.85,357.53 L471.25,357.55 L472.66,357.55 L474.07,357.53 L475.47,357.49 L476.88,357.44 L478.29,357.38 L479.69,357.29 L481.10,357.19 L482.51,357.08 L483.91,356.96 L485.32,356.82 L486.73,356.67 L488.13,356.51 L489.54,356.33 L490.95,356.15 L492.35,355.96 L493.76,355.76 L495.17,355.55 L496.57,355.34 L497.98,355.12 L497.98,380.35 L496.57,380.00 L495.17,379.67 L493.76,379.33 L492.35,379.01 L490.95,378.70 L489.54,378.39 L488.13,378.10 L486.73,377.81 L485.32,377.54 L483.91,377.28 L482.51,377.03 L481.10,376.79 L479.69,376.57 L478.29,376.37 L476.88,376.18 L475.47,376.00 L474.07,375.84 L472.66,375.70 L471.25,375.58 L469.85,375.48 L468.44,375.39 L467.03,375.32 L465.63,375.27 L464.22,375.24 L462.81,375.23 L461.41,375.24 L460.00,375.26 L458.59,375.30 L457.19,375.36 L455.78,375.43 L454.37,375.52 L452.97,375.62 L451.56,375.74 L450.15,375.87 L448.75,376.01 L447.34,376.17 L445.93,376.33 L444.53,376.51 L443.12,376.70 L441.72,376.89 Z" fill="#c4c6cb" fill-opacity="0.75"/>
<path d="M365.00,296.00 C366.67,295.58 371.67,294.08 375.00,293.50 C378.33,292.92 381.33,292.65 385.00,292.50 C388.67,292.35 393.33,292.27 397.00,292.60 C400.67,292.93 403.33,293.43 407.00,294.50 C410.67,295.57 415.00,297.65 419.00,299.00 C423.00,300.35 427.17,302.00 431.00,302.60 C434.83,303.20 437.67,303.27 442.00,302.60 C446.33,301.93 452.17,299.20 457.00,298.60 C461.83,298.00 466.67,298.53 471.00,299.00 C475.33,299.47 479.33,300.40 483.00,301.40 C486.67,302.40 490.40,304.00 493.00,305.00 C495.60,306.00 497.67,307.00 498.60,307.40" fill="none" stroke="#3a3a3a" stroke-width="0.8"/>
<path d="M380.00,296.00 C380.83,298.83 383.17,307.83 385.00,313.00 C386.83,318.17 389.00,322.33 391.00,327.00 C393.00,331.67 394.67,336.17 397.00,341.00 C399.33,345.83 402.50,352.67 405.00,356.00 C407.50,359.33 409.50,360.00 412.00,361.00 C414.50,362.00 417.00,362.00 420.00,362.00 C423.00,362.00 427.17,361.33 430.00,361.00 C432.83,360.67 435.83,360.17 437.00,360.00" fill="none" stroke="#3a3a3a" stroke-width="0.8"/>
<path d="M314.00,332.00 C315.83,331.17 321.50,328.33 325.00,327.00 C328.50,325.67 330.00,324.93 335.00,324.00 C340.00,323.07 348.33,321.73 355.00,321.40 C361.67,321.07 368.33,321.40 375.00,322.00 C381.67,322.60 389.67,324.00 395.00,325.00 C400.33,326.00 402.67,326.83 407.00,328.00 C411.33,329.17 416.07,331.00 421.00,332.00 C425.93,333.00 431.27,334.50 436.60,334.00 C441.93,333.50 446.93,331.00 453.00,329.00 C459.07,327.00 467.33,324.00 473.00,322.00 C478.67,320.00 482.73,318.50 487.00,317.00 C491.27,315.50 496.67,313.67 498.60,313.00" fill="none" stroke="#3a3a3a" stroke-width="0.8"/>
<path d="M354.60,314.00 C356.33,315.50 361.60,320.17 365.00,323.00 C368.40,325.83 371.33,328.00 375.00,331.00 C378.67,334.00 383.33,337.67 387.00,341.00 C390.67,344.33 394.00,348.17 397.00,351.00 C400.00,353.83 402.00,356.17 405.00,358.00 C408.00,359.83 411.67,361.17 415.00,362.00 C418.33,362.83 421.67,363.00 425.00,363.00 C428.33,363.00 433.33,362.17 435.00,362.00" fill="none" stroke="#3a3a3a" stroke-width="0.8"/>
<path d="M359.00,333.00 C361.33,334.67 368.00,339.00 373.00,343.00 C378.00,347.00 384.50,353.33 389.00,357.00 C393.50,360.67 396.50,362.83 400.00,365.00 C403.50,367.17 405.83,368.83 410.00,370.00 C414.17,371.17 420.50,371.67 425.00,372.00 C429.50,372.33 435.00,372.00 437.00,372.00" fill="none" stroke="#3a3a3a" stroke-width="0.8"/>
<path d="M329.00,336.00 C331.00,338.17 337.17,345.00 341.00,349.00 C344.83,353.00 348.00,356.50 352.00,360.00 C356.00,363.50 360.33,367.00 365.00,370.00 C369.67,373.00 375.00,375.50 380.00,378.00 C385.00,380.50 390.50,383.00 395.00,385.00 C399.50,387.00 401.67,388.33 407.00,390.00 C412.33,391.67 420.33,392.83 427.00,395.00 C433.67,397.17 440.33,400.50 447.00,403.00 C453.67,405.50 460.33,407.83 467.00,410.00 C473.67,412.17 481.83,414.33 487.00,416.00 C492.17,417.67 496.17,419.33 498.00,420.00" fill="none" stroke="#3a3a3a" stroke-width="0.8"/>
<path d="M314.00,342.00 C317.50,343.17 328.17,346.50 335.00,349.00 C341.83,351.50 348.33,354.50 355.00,357.00 C361.67,359.50 368.33,361.83 375.00,364.00 C381.67,366.17 388.33,368.50 395.00,370.00 C401.67,371.50 408.00,372.33 415.00,373.00 C422.00,373.67 433.33,373.83 437.00,374.00" fill="none" stroke="#3a3a3a" stroke-width="0.8"/>
<path d="M314.00,380.00 C319.17,380.10 334.83,380.10 345.00,380.60 C355.17,381.10 364.33,381.93 375.00,383.00 C385.67,384.07 400.33,386.67 409.00,387.00 C417.67,387.33 420.67,385.00 427.00,385.00 C433.33,385.00 440.33,386.50 447.00,387.00 C453.67,387.50 460.33,387.50 467.00,388.00 C473.67,388.50 481.83,389.50 487.00,390.00 C492.17,390.50 496.17,390.83 498.00,391.00" fill="none" stroke="#3a3a3a" stroke-width="0.8"/>
<path d="M314.00,355.00 C316.50,357.00 323.83,363.33 329.00,367.00 C334.17,370.67 339.00,373.67 345.00,377.00 C351.00,380.33 358.33,383.67 365.00,387.00 C371.67,390.33 379.17,394.67 385.00,397.00 C390.83,399.33 396.00,400.50 400.00,401.00 C404.00,401.50 405.17,401.17 409.00,400.00 C412.83,398.83 418.33,396.50 423.00,394.00 C427.67,391.50 433.00,388.17 437.00,385.00 C441.00,381.83 443.67,378.33 447.00,375.00 C450.33,371.67 453.67,367.67 457.00,365.00 C460.33,362.33 463.67,360.67 467.00,359.00 C470.33,357.33 473.67,356.17 477.00,355.00 C480.33,353.83 483.50,353.33 487.00,352.00 C490.50,350.67 496.17,347.83 498.00,347.00" fill="none" stroke="#3a3a3a" stroke-width="0.8"/>
<path d="M319.00,360.00 C321.67,362.17 329.83,369.00 335.00,373.00 C340.17,377.00 344.17,380.67 350.00,384.00 C355.83,387.33 363.33,390.17 370.00,393.00 C376.67,395.83 383.83,399.00 390.00,401.00 C396.17,403.00 400.83,403.00 407.00,405.00 C413.17,407.00 422.00,410.50 427.00,413.00 C432.00,415.50 432.00,418.17 437.00,420.00 C442.00,421.83 450.33,422.83 457.00,424.00 C463.67,425.17 470.17,425.87 477.00,427.00 C483.83,428.13 494.50,430.17 498.00,430.80" fill="none" stroke="#3a3a3a" stroke-width="0.8"/>
<path d="M390.00,340.00 C392.00,340.97 398.00,344.07 402.00,345.80 C406.00,347.53 409.67,349.12 414.00,350.40 C418.33,351.68 423.67,352.98 428.00,353.50 C432.33,354.02 436.00,353.95 440.00,353.50 C444.00,353.05 448.33,351.88 452.00,350.80 C455.67,349.72 459.17,348.80 462.00,347.00 C464.83,345.20 466.50,341.83 469.00,340.00 C471.50,338.17 474.67,336.42 477.00,336.00 C479.33,335.58 481.07,335.75 483.00,337.50 C484.93,339.25 486.83,343.63 488.60,346.50 C490.37,349.37 492.10,351.42 493.60,354.70 C495.10,357.98 496.93,364.28 497.60,366.20" fill="none" stroke="#3a3a3a" stroke-width="0.8"/>
<path d="M440.00,380.00 C442.12,377.97 448.95,371.30 452.70,367.80 C456.45,364.30 458.95,360.83 462.50,359.00 C466.05,357.17 470.18,356.97 474.00,356.80 C477.82,356.63 481.47,357.27 485.40,358.00 C489.33,358.73 495.57,360.67 497.60,361.20" fill="none" stroke="#3a3a3a" stroke-width="0.8"/>
<path d="M314.00,346.00 C316.67,347.00 324.00,349.67 330.00,352.00 C336.00,354.33 343.33,357.67 350.00,360.00 C356.67,362.33 363.33,364.50 370.00,366.00 C376.67,367.50 383.33,368.67 390.00,369.00 C396.67,369.33 402.17,368.50 410.00,368.00 C417.83,367.50 428.67,366.33 437.00,366.00 C445.33,365.67 449.83,365.83 460.00,366.00 C470.17,366.17 491.67,366.83 498.00,367.00" fill="none" stroke="#3a3a3a" stroke-width="0.8"/>
<line x1="313.84" y1="350.04" x2="436.60" y2="366.85" stroke="#c0345a" stroke-width="1.15"/>
<line x1="441.72" y1="365.27" x2="497.98" y2="367.73" stroke="#4f5e73" stroke-width="1.15"/>
<g fill="#f8dbe3"><rect x="368.35" y="286.95" width="3.3" height="3.3"/><rect x="373.35" y="286.95" width="3.3" height="3.3"/><rect x="378.35" y="286.95" width="3.3" height="3.3"/><rect x="388.95" y="288.95" width="3.3" height="3.3"/><rect x="394.35" y="288.95" width="3.3" height="3.3"/><rect x="398.95" y="294.35" width="3.3" height="3.3"/><rect x="378.35" y="294.35" width="3.3" height="3.3"/><rect x="363.35" y="304.95" width="3.3" height="3.3"/><rect x="352.95" y="312.35" width="3.3" height="3.3"/><rect x="332.95" y="317.75" width="3.3" height="3.3"/><rect x="347.75" y="317.75" width="3.3" height="3.3"/><rect x="378.35" y="317.75" width="3.3" height="3.3"/><rect x="398.95" y="323.35" width="3.3" height="3.3"/><rect x="394.35" y="332.35" width="3.3" height="3.3"/><rect x="409.35" y="288.95" width="3.3" height="3.3"/><rect x="414.35" y="290.95" width="3.3" height="3.3"/><rect x="434.95" y="294.35" width="3.3" height="3.3"/><rect x="429.75" y="300.95" width="3.3" height="3.3"/><rect x="408.95" y="320.95" width="3.3" height="3.3"/><rect x="424.35" y="317.75" width="3.3" height="3.3"/><rect x="434.95" y="332.35" width="3.3" height="3.3"/><rect x="424.35" y="341.35" width="3.3" height="3.3"/><rect x="434.95" y="348.35" width="3.3" height="3.3"/><rect x="378.35" y="375.75" width="3.3" height="3.3"/><rect x="378.35" y="384.35" width="3.3" height="3.3"/><rect x="373.35" y="396.95" width="3.3" height="3.3"/><rect x="383.35" y="393.35" width="3.3" height="3.3"/><rect x="383.35" y="395.35" width="3.3" height="3.3"/><rect x="388.95" y="407.75" width="3.3" height="3.3"/><rect x="394.35" y="402.35" width="3.3" height="3.3"/><rect x="398.95" y="382.95" width="3.3" height="3.3"/><rect x="398.95" y="388.35" width="3.3" height="3.3"/><rect x="398.95" y="393.35" width="3.3" height="3.3"/><rect x="398.95" y="400.35" width="3.3" height="3.3"/><rect x="404.35" y="372.35" width="3.3" height="3.3"/><rect x="404.35" y="395.35" width="3.3" height="3.3"/><rect x="389.35" y="363.35" width="3.3" height="3.3"/><rect x="409.35" y="379.35" width="3.3" height="3.3"/><rect x="414.35" y="371.35" width="3.3" height="3.3"/><rect x="419.35" y="373.35" width="3.3" height="3.3"/><rect x="424.35" y="375.35" width="3.3" height="3.3"/><rect x="429.75" y="368.35" width="3.3" height="3.3"/><rect x="434.95" y="363.35" width="3.3" height="3.3"/><rect x="434.95" y="368.35" width="3.3" height="3.3"/><rect x="409.35" y="382.35" width="3.3" height="3.3"/><rect x="414.35" y="382.35" width="3.3" height="3.3"/><rect x="424.35" y="384.35" width="3.3" height="3.3"/><rect x="429.75" y="384.35" width="3.3" height="3.3"/><rect x="419.75" y="388.35" width="3.3" height="3.3"/><rect x="419.75" y="390.35" width="3.3" height="3.3"/><rect x="434.95" y="388.35" width="3.3" height="3.3"/><rect x="434.95" y="392.35" width="3.3" height="3.3"/><rect x="409.35" y="404.35" width="3.3" height="3.3"/><rect x="414.35" y="407.35" width="3.3" height="3.3"/><rect x="424.75" y="411.35" width="3.3" height="3.3"/><rect x="435.35" y="418.35" width="3.3" height="3.3"/><rect x="435.35" y="399.35" width="3.3" height="3.3"/><rect x="419.35" y="357.35" width="3.3" height="3.3"/><rect x="429.35" y="357.35" width="3.3" height="3.3"/><rect x="434.05" y="418.15" width="3.3" height="3.3"/><rect x="322.55" y="325.35" width="3.3" height="3.3"/><rect x="317.05" y="332.25" width="3.3" height="3.3"/><rect x="317.05" y="337.75" width="3.3" height="3.3"/><rect x="327.75" y="339.75" width="3.3" height="3.3"/><rect x="343.05" y="341.15" width="3.3" height="3.3"/><rect x="343.05" y="344.95" width="3.3" height="3.3"/><rect x="358.15" y="339.55" width="3.3" height="3.3"/><rect x="332.15" y="350.75" width="3.3" height="3.3"/><rect x="358.15" y="352.15" width="3.3" height="3.3"/><rect x="358.15" y="353.75" width="3.3" height="3.3"/><rect x="363.35" y="352.15" width="3.3" height="3.3"/><rect x="367.75" y="356.25" width="3.3" height="3.3"/><rect x="322.55" y="357.35" width="3.3" height="3.3"/><rect x="327.75" y="354.15" width="3.3" height="3.3"/><rect x="337.55" y="359.25" width="3.3" height="3.3"/><rect x="347.85" y="364.45" width="3.3" height="3.3"/><rect x="347.85" y="366.55" width="3.3" height="3.3"/><rect x="358.15" y="364.45" width="3.3" height="3.3"/><rect x="327.75" y="366.95" width="3.3" height="3.3"/><rect x="337.55" y="368.55" width="3.3" height="3.3"/><rect x="317.05" y="373.75" width="3.3" height="3.3"/><rect x="337.55" y="373.75" width="3.3" height="3.3"/><rect x="347.85" y="370.65" width="3.3" height="3.3"/><rect x="363.35" y="369.95" width="3.3" height="3.3"/><rect x="352.95" y="373.75" width="3.3" height="3.3"/><rect x="363.35" y="375.35" width="3.3" height="3.3"/><rect x="352.95" y="377.45" width="3.3" height="3.3"/><rect x="352.95" y="379.25" width="3.3" height="3.3"/><rect x="358.15" y="379.25" width="3.3" height="3.3"/><rect x="367.75" y="379.25" width="3.3" height="3.3"/><rect x="312.25" y="384.75" width="3.3" height="3.3"/><rect x="332.35" y="387.75" width="3.3" height="3.3"/><rect x="343.05" y="390.15" width="3.3" height="3.3"/><rect x="367.75" y="387.75" width="3.3" height="3.3"/></g>
<g fill="#7c1c3c"><rect x="369.10" y="287.85" width="1.8" height="1.5"/><rect x="374.10" y="287.85" width="1.8" height="1.5"/><rect x="379.10" y="287.85" width="1.8" height="1.5"/><rect x="389.70" y="289.85" width="1.8" height="1.5"/><rect x="395.10" y="289.85" width="1.8" height="1.5"/><rect x="399.70" y="295.25" width="1.8" height="1.5"/><rect x="379.10" y="295.25" width="1.8" height="1.5"/><rect x="364.10" y="305.85" width="1.8" height="1.5"/><rect x="353.70" y="313.25" width="1.8" height="1.5"/><rect x="333.70" y="318.65" width="1.8" height="1.5"/><rect x="348.50" y="318.65" width="1.8" height="1.5"/><rect x="379.10" y="318.65" width="1.8" height="1.5"/><rect x="399.70" y="324.25" width="1.8" height="1.5"/><rect x="395.10" y="333.25" width="1.8" height="1.5"/><rect x="410.10" y="289.85" width="1.8" height="1.5"/><rect x="415.10" y="291.85" width="1.8" height="1.5"/><rect x="435.70" y="295.25" width="1.8" height="1.5"/><rect x="430.50" y="301.85" width="1.8" height="1.5"/><rect x="409.70" y="321.85" width="1.8" height="1.5"/><rect x="425.10" y="318.65" width="1.8" height="1.5"/><rect x="435.70" y="333.25" width="1.8" height="1.5"/><rect x="425.10" y="342.25" width="1.8" height="1.5"/><rect x="435.70" y="349.25" width="1.8" height="1.5"/><rect x="379.10" y="376.65" width="1.8" height="1.5"/><rect x="379.10" y="385.25" width="1.8" height="1.5"/><rect x="374.10" y="397.85" width="1.8" height="1.5"/><rect x="384.10" y="394.25" width="1.8" height="1.5"/><rect x="384.10" y="396.25" width="1.8" height="1.5"/><rect x="389.70" y="408.65" width="1.8" height="1.5"/><rect x="395.10" y="403.25" width="1.8" height="1.5"/><rect x="399.70" y="383.85" width="1.8" height="1.5"/><rect x="399.70" y="389.25" width="1.8" height="1.5"/><rect x="399.70" y="394.25" width="1.8" height="1.5"/><rect x="399.70" y="401.25" width="1.8" height="1.5"/><rect x="405.10" y="373.25" width="1.8" height="1.5"/><rect x="405.10" y="396.25" width="1.8" height="1.5"/><rect x="390.10" y="364.25" width="1.8" height="1.5"/><rect x="410.10" y="380.25" width="1.8" height="1.5"/><rect x="415.10" y="372.25" width="1.8" height="1.5"/><rect x="420.10" y="374.25" width="1.8" height="1.5"/><rect x="425.10" y="376.25" width="1.8" height="1.5"/><rect x="430.50" y="369.25" width="1.8" height="1.5"/><rect x="435.70" y="364.25" width="1.8" height="1.5"/><rect x="435.70" y="369.25" width="1.8" height="1.5"/><rect x="410.10" y="383.25" width="1.8" height="1.5"/><rect x="415.10" y="383.25" width="1.8" height="1.5"/><rect x="425.10" y="385.25" width="1.8" height="1.5"/><rect x="430.50" y="385.25" width="1.8" height="1.5"/><rect x="420.50" y="389.25" width="1.8" height="1.5"/><rect x="420.50" y="391.25" width="1.8" height="1.5"/><rect x="435.70" y="389.25" width="1.8" height="1.5"/><rect x="435.70" y="393.25" width="1.8" height="1.5"/><rect x="410.10" y="405.25" width="1.8" height="1.5"/><rect x="415.10" y="408.25" width="1.8" height="1.5"/><rect x="425.50" y="412.25" width="1.8" height="1.5"/><rect x="436.10" y="419.25" width="1.8" height="1.5"/><rect x="436.10" y="400.25" width="1.8" height="1.5"/><rect x="420.10" y="358.25" width="1.8" height="1.5"/><rect x="430.10" y="358.25" width="1.8" height="1.5"/><rect x="434.80" y="419.05" width="1.8" height="1.5"/><rect x="323.30" y="326.25" width="1.8" height="1.5"/><rect x="317.80" y="333.15" width="1.8" height="1.5"/><rect x="317.80" y="338.65" width="1.8" height="1.5"/><rect x="328.50" y="340.65" width="1.8" height="1.5"/><rect x="343.80" y="342.05" width="1.8" height="1.5"/><rect x="343.80" y="345.85" width="1.8" height="1.5"/><rect x="358.90" y="340.45" width="1.8" height="1.5"/><rect x="332.90" y="351.65" width="1.8" height="1.5"/><rect x="358.90" y="353.05" width="1.8" height="1.5"/><rect x="358.90" y="354.65" width="1.8" height="1.5"/><rect x="364.10" y="353.05" width="1.8" height="1.5"/><rect x="368.50" y="357.15" width="1.8" height="1.5"/><rect x="323.30" y="358.25" width="1.8" height="1.5"/><rect x="328.50" y="355.05" width="1.8" height="1.5"/><rect x="338.30" y="360.15" width="1.8" height="1.5"/><rect x="348.60" y="365.35" width="1.8" height="1.5"/><rect x="348.60" y="367.45" width="1.8" height="1.5"/><rect x="358.90" y="365.35" width="1.8" height="1.5"/><rect x="328.50" y="367.85" width="1.8" height="1.5"/><rect x="338.30" y="369.45" width="1.8" height="1.5"/><rect x="317.80" y="374.65" width="1.8" height="1.5"/><rect x="338.30" y="374.65" width="1.8" height="1.5"/><rect x="348.60" y="371.55" width="1.8" height="1.5"/><rect x="364.10" y="370.85" width="1.8" height="1.5"/><rect x="353.70" y="374.65" width="1.8" height="1.5"/><rect x="364.10" y="376.25" width="1.8" height="1.5"/><rect x="353.70" y="378.35" width="1.8" height="1.5"/><rect x="353.70" y="380.15" width="1.8" height="1.5"/><rect x="358.90" y="380.15" width="1.8" height="1.5"/><rect x="368.50" y="380.15" width="1.8" height="1.5"/><rect x="313.00" y="385.65" width="1.8" height="1.5"/><rect x="333.10" y="388.65" width="1.8" height="1.5"/><rect x="343.80" y="391.05" width="1.8" height="1.5"/><rect x="368.50" y="388.65" width="1.8" height="1.5"/></g>
<g fill="#d9e9f5"><rect x="440.35" y="300.95" width="3.3" height="3.3"/><rect x="445.35" y="298.35" width="3.3" height="3.3"/><rect x="450.35" y="299.75" width="3.3" height="3.3"/><rect x="455.35" y="295.75" width="3.3" height="3.3"/><rect x="460.35" y="294.35" width="3.3" height="3.3"/><rect x="465.35" y="298.35" width="3.3" height="3.3"/><rect x="470.95" y="295.75" width="3.3" height="3.3"/><rect x="475.75" y="299.75" width="3.3" height="3.3"/><rect x="481.35" y="299.75" width="3.3" height="3.3"/><rect x="486.35" y="301.75" width="3.3" height="3.3"/><rect x="496.95" y="304.95" width="3.3" height="3.3"/><rect x="460.35" y="313.75" width="3.3" height="3.3"/><rect x="470.95" y="310.35" width="3.3" height="3.3"/><rect x="486.35" y="312.35" width="3.3" height="3.3"/><rect x="491.75" y="308.95" width="3.3" height="3.3"/><rect x="496.95" y="319.75" width="3.3" height="3.3"/><rect x="450.35" y="326.95" width="3.3" height="3.3"/><rect x="444.95" y="332.35" width="3.3" height="3.3"/><rect x="475.75" y="334.35" width="3.3" height="3.3"/><rect x="481.35" y="334.35" width="3.3" height="3.3"/><rect x="486.35" y="335.75" width="3.3" height="3.3"/><rect x="450.35" y="342.95" width="3.3" height="3.3"/><rect x="440.35" y="348.35" width="3.3" height="3.3"/><rect x="450.35" y="349.35" width="3.3" height="3.3"/><rect x="491.75" y="345.75" width="3.3" height="3.3"/><rect x="491.75" y="352.35" width="3.3" height="3.3"/><rect x="481.35" y="351.35" width="3.3" height="3.3"/><rect x="440.35" y="383.35" width="3.3" height="3.3"/><rect x="445.35" y="383.35" width="3.3" height="3.3"/><rect x="440.35" y="388.35" width="3.3" height="3.3"/><rect x="445.35" y="388.35" width="3.3" height="3.3"/><rect x="455.35" y="385.35" width="3.3" height="3.3"/><rect x="460.35" y="386.35" width="3.3" height="3.3"/><rect x="471.35" y="382.35" width="3.3" height="3.3"/><rect x="476.35" y="379.35" width="3.3" height="3.3"/><rect x="481.35" y="386.35" width="3.3" height="3.3"/><rect x="486.35" y="388.35" width="3.3" height="3.3"/><rect x="491.35" y="391.35" width="3.3" height="3.3"/><rect x="496.35" y="384.35" width="3.3" height="3.3"/><rect x="476.35" y="393.35" width="3.3" height="3.3"/><rect x="496.35" y="391.35" width="3.3" height="3.3"/><rect x="496.35" y="377.35" width="3.3" height="3.3"/><rect x="491.35" y="377.35" width="3.3" height="3.3"/><rect x="440.35" y="406.35" width="3.3" height="3.3"/><rect x="450.95" y="402.35" width="3.3" height="3.3"/><rect x="455.35" y="404.35" width="3.3" height="3.3"/><rect x="455.35" y="410.35" width="3.3" height="3.3"/><rect x="476.35" y="411.35" width="3.3" height="3.3"/><rect x="481.35" y="418.35" width="3.3" height="3.3"/><rect x="486.35" y="416.95" width="3.3" height="3.3"/><rect x="496.35" y="416.95" width="3.3" height="3.3"/><rect x="450.95" y="420.35" width="3.3" height="3.3"/><rect x="460.35" y="422.95" width="3.3" height="3.3"/><rect x="440.35" y="427.35" width="3.3" height="3.3"/><rect x="465.35" y="427.35" width="3.3" height="3.3"/><rect x="491.35" y="427.35" width="3.3" height="3.3"/><rect x="465.35" y="354.35" width="3.3" height="3.3"/><rect x="475.35" y="354.35" width="3.3" height="3.3"/><rect x="486.35" y="360.35" width="3.3" height="3.3"/><rect x="491.35" y="357.35" width="3.3" height="3.3"/><rect x="496.35" y="359.35" width="3.3" height="3.3"/><rect x="445.35" y="364.35" width="3.3" height="3.3"/><rect x="455.35" y="364.35" width="3.3" height="3.3"/><rect x="465.35" y="364.35" width="3.3" height="3.3"/><rect x="475.35" y="364.35" width="3.3" height="3.3"/><rect x="440.35" y="368.35" width="3.3" height="3.3"/><rect x="445.35" y="371.35" width="3.3" height="3.3"/><rect x="491.35" y="371.35" width="3.3" height="3.3"/><rect x="440.05" y="428.35" width="3.3" height="3.3"/><rect x="445.15" y="429.15" width="3.3" height="3.3"/><rect x="450.75" y="421.35" width="3.3" height="3.3"/><rect x="461.05" y="423.35" width="3.3" height="3.3"/><rect x="465.75" y="427.25" width="3.3" height="3.3"/><rect x="471.75" y="431.15" width="3.3" height="3.3"/><rect x="480.85" y="418.15" width="3.3" height="3.3"/><rect x="486.35" y="415.35" width="3.3" height="3.3"/><rect x="491.55" y="428.35" width="3.3" height="3.3"/><rect x="496.65" y="429.15" width="3.3" height="3.3"/><rect x="486.35" y="441.85" width="3.3" height="3.3"/><rect x="492.75" y="415.35" width="3.3" height="3.3"/><rect x="496.65" y="417.35" width="3.3" height="3.3"/></g>
<g fill="#1f3a58"><rect x="441.10" y="301.85" width="1.8" height="1.5"/><rect x="446.10" y="299.25" width="1.8" height="1.5"/><rect x="451.10" y="300.65" width="1.8" height="1.5"/><rect x="456.10" y="296.65" width="1.8" height="1.5"/><rect x="461.10" y="295.25" width="1.8" height="1.5"/><rect x="466.10" y="299.25" width="1.8" height="1.5"/><rect x="471.70" y="296.65" width="1.8" height="1.5"/><rect x="476.50" y="300.65" width="1.8" height="1.5"/><rect x="482.10" y="300.65" width="1.8" height="1.5"/><rect x="487.10" y="302.65" width="1.8" height="1.5"/><rect x="497.70" y="305.85" width="1.8" height="1.5"/><rect x="461.10" y="314.65" width="1.8" height="1.5"/><rect x="471.70" y="311.25" width="1.8" height="1.5"/><rect x="487.10" y="313.25" width="1.8" height="1.5"/><rect x="492.50" y="309.85" width="1.8" height="1.5"/><rect x="497.70" y="320.65" width="1.8" height="1.5"/><rect x="451.10" y="327.85" width="1.8" height="1.5"/><rect x="445.70" y="333.25" width="1.8" height="1.5"/><rect x="476.50" y="335.25" width="1.8" height="1.5"/><rect x="482.10" y="335.25" width="1.8" height="1.5"/><rect x="487.10" y="336.65" width="1.8" height="1.5"/><rect x="451.10" y="343.85" width="1.8" height="1.5"/><rect x="441.10" y="349.25" width="1.8" height="1.5"/><rect x="451.10" y="350.25" width="1.8" height="1.5"/><rect x="492.50" y="346.65" width="1.8" height="1.5"/><rect x="492.50" y="353.25" width="1.8" height="1.5"/><rect x="482.10" y="352.25" width="1.8" height="1.5"/><rect x="441.10" y="384.25" width="1.8" height="1.5"/><rect x="446.10" y="384.25" width="1.8" height="1.5"/><rect x="441.10" y="389.25" width="1.8" height="1.5"/><rect x="446.10" y="389.25" width="1.8" height="1.5"/><rect x="456.10" y="386.25" width="1.8" height="1.5"/><rect x="461.10" y="387.25" width="1.8" height="1.5"/><rect x="472.10" y="383.25" width="1.8" height="1.5"/><rect x="477.10" y="380.25" width="1.8" height="1.5"/><rect x="482.10" y="387.25" width="1.8" height="1.5"/><rect x="487.10" y="389.25" width="1.8" height="1.5"/><rect x="492.10" y="392.25" width="1.8" height="1.5"/><rect x="497.10" y="385.25" width="1.8" height="1.5"/><rect x="477.10" y="394.25" width="1.8" height="1.5"/><rect x="497.10" y="392.25" width="1.8" height="1.5"/><rect x="497.10" y="378.25" width="1.8" height="1.5"/><rect x="492.10" y="378.25" width="1.8" height="1.5"/><rect x="441.10" y="407.25" width="1.8" height="1.5"/><rect x="451.70" y="403.25" width="1.8" height="1.5"/><rect x="456.10" y="405.25" width="1.8" height="1.5"/><rect x="456.10" y="411.25" width="1.8" height="1.5"/><rect x="477.10" y="412.25" width="1.8" height="1.5"/><rect x="482.10" y="419.25" width="1.8" height="1.5"/><rect x="487.10" y="417.85" width="1.8" height="1.5"/><rect x="497.10" y="417.85" width="1.8" height="1.5"/><rect x="451.70" y="421.25" width="1.8" height="1.5"/><rect x="461.10" y="423.85" width="1.8" height="1.5"/><rect x="441.10" y="428.25" width="1.8" height="1.5"/><rect x="466.10" y="428.25" width="1.8" height="1.5"/><rect x="492.10" y="428.25" width="1.8" height="1.5"/><rect x="466.10" y="355.25" width="1.8" height="1.5"/><rect x="476.10" y="355.25" width="1.8" height="1.5"/><rect x="487.10" y="361.25" width="1.8" height="1.5"/><rect x="492.10" y="358.25" width="1.8" height="1.5"/><rect x="497.10" y="360.25" width="1.8" height="1.5"/><rect x="446.10" y="365.25" width="1.8" height="1.5"/><rect x="456.10" y="365.25" width="1.8" height="1.5"/><rect x="466.10" y="365.25" width="1.8" height="1.5"/><rect x="476.10" y="365.25" width="1.8" height="1.5"/><rect x="441.10" y="369.25" width="1.8" height="1.5"/><rect x="446.10" y="372.25" width="1.8" height="1.5"/><rect x="492.10" y="372.25" width="1.8" height="1.5"/><rect x="440.80" y="429.25" width="1.8" height="1.5"/><rect x="445.90" y="430.05" width="1.8" height="1.5"/><rect x="451.50" y="422.25" width="1.8" height="1.5"/><rect x="461.80" y="424.25" width="1.8" height="1.5"/><rect x="466.50" y="428.15" width="1.8" height="1.5"/><rect x="472.50" y="432.05" width="1.8" height="1.5"/><rect x="481.60" y="419.05" width="1.8" height="1.5"/><rect x="487.10" y="416.25" width="1.8" height="1.5"/><rect x="492.30" y="429.25" width="1.8" height="1.5"/><rect x="497.40" y="430.05" width="1.8" height="1.5"/><rect x="487.10" y="442.75" width="1.8" height="1.5"/><rect x="493.50" y="416.25" width="1.8" height="1.5"/><rect x="497.40" y="418.25" width="1.8" height="1.5"/></g>
<line x1="43.8" y1="23.0" x2="43.8" y2="221.7" stroke="#151515" stroke-width="1.2"/>
<line x1="43.3" y1="221.2" x2="249.2" y2="221.2" stroke="#151515" stroke-width="1.1"/>
<line x1="40.5" y1="212.20" x2="43.8" y2="212.20" stroke="#222" stroke-width="0.95"/>
<text x="37.199999999999996" y="215.20" text-anchor="end" class="tk">20</text>
<line x1="40.5" y1="176.10" x2="43.8" y2="176.10" stroke="#222" stroke-width="0.95"/>
<text x="37.199999999999996" y="179.10" text-anchor="end" class="tk">40</text>
<line x1="40.5" y1="140.00" x2="43.8" y2="140.00" stroke="#222" stroke-width="0.95"/>
<text x="37.199999999999996" y="143.00" text-anchor="end" class="tk">60</text>
<line x1="40.5" y1="103.90" x2="43.8" y2="103.90" stroke="#222" stroke-width="0.95"/>
<text x="37.199999999999996" y="106.90" text-anchor="end" class="tk">80</text>
<line x1="40.5" y1="67.80" x2="43.8" y2="67.80" stroke="#222" stroke-width="0.95"/>
<text x="37.199999999999996" y="70.80" text-anchor="end" class="tk">100</text>
<line x1="40.5" y1="31.70" x2="43.8" y2="31.70" stroke="#222" stroke-width="0.95"/>
<text x="37.199999999999996" y="34.70" text-anchor="end" class="tk">120</text>
<line x1="62.24" y1="221.2" x2="62.24" y2="224.5" stroke="#222" stroke-width="0.95"/>
<text x="62.24" y="235.50" text-anchor="middle" class="tk">−20</text>
<line x1="108.30" y1="221.2" x2="108.30" y2="224.5" stroke="#222" stroke-width="0.95"/>
<text x="108.30" y="235.50" text-anchor="middle" class="tk">0</text>
<line x1="154.36" y1="221.2" x2="154.36" y2="224.5" stroke="#222" stroke-width="0.95"/>
<text x="154.36" y="235.50" text-anchor="middle" class="tk">20</text>
<line x1="200.42" y1="221.2" x2="200.42" y2="224.5" stroke="#222" stroke-width="0.95"/>
<text x="200.42" y="235.50" text-anchor="middle" class="tk">40</text>
<line x1="246.48" y1="221.2" x2="246.48" y2="224.5" stroke="#222" stroke-width="0.95"/>
<text x="246.48" y="235.50" text-anchor="middle" class="tk">60</text>
<text x="7.4" y="18.3" class="let">A</text>
<line x1="304.5" y1="23.0" x2="304.5" y2="221.8" stroke="#151515" stroke-width="1.2"/>
<line x1="304.0" y1="221.3" x2="510.6" y2="221.3" stroke="#151515" stroke-width="1.1"/>
<line x1="301.2" y1="212.00" x2="304.5" y2="212.00" stroke="#222" stroke-width="0.95"/>
<text x="297.9" y="215.00" text-anchor="end" class="tk">20</text>
<line x1="301.2" y1="175.90" x2="304.5" y2="175.90" stroke="#222" stroke-width="0.95"/>
<text x="297.9" y="178.90" text-anchor="end" class="tk">40</text>
<line x1="301.2" y1="139.80" x2="304.5" y2="139.80" stroke="#222" stroke-width="0.95"/>
<text x="297.9" y="142.80" text-anchor="end" class="tk">60</text>
<line x1="301.2" y1="103.70" x2="304.5" y2="103.70" stroke="#222" stroke-width="0.95"/>
<text x="297.9" y="106.70" text-anchor="end" class="tk">80</text>
<line x1="301.2" y1="67.60" x2="304.5" y2="67.60" stroke="#222" stroke-width="0.95"/>
<text x="297.9" y="70.60" text-anchor="end" class="tk">100</text>
<line x1="301.2" y1="31.50" x2="304.5" y2="31.50" stroke="#222" stroke-width="0.95"/>
<text x="297.9" y="34.50" text-anchor="end" class="tk">120</text>
<line x1="323.50" y1="221.3" x2="323.50" y2="224.60000000000002" stroke="#222" stroke-width="0.95"/>
<text x="323.50" y="235.60" text-anchor="middle" class="tk">−20</text>
<line x1="369.50" y1="221.3" x2="369.50" y2="224.60000000000002" stroke="#222" stroke-width="0.95"/>
<text x="369.50" y="235.60" text-anchor="middle" class="tk">0</text>
<line x1="415.50" y1="221.3" x2="415.50" y2="224.60000000000002" stroke="#222" stroke-width="0.95"/>
<text x="415.50" y="235.60" text-anchor="middle" class="tk">20</text>
<line x1="461.50" y1="221.3" x2="461.50" y2="224.60000000000002" stroke="#222" stroke-width="0.95"/>
<text x="461.50" y="235.60" text-anchor="middle" class="tk">40</text>
<line x1="507.50" y1="221.3" x2="507.50" y2="224.60000000000002" stroke="#222" stroke-width="0.95"/>
<text x="507.50" y="235.60" text-anchor="middle" class="tk">60</text>
<text x="268.6" y="18.3" class="let">B</text>
<line x1="43.8" y1="274.0" x2="43.8" y2="473.0" stroke="#151515" stroke-width="1.2"/>
<line x1="43.3" y1="472.5" x2="249.8" y2="472.5" stroke="#151515" stroke-width="1.1"/>
<line x1="40.5" y1="463.40" x2="43.8" y2="463.40" stroke="#222" stroke-width="0.95"/>
<text x="37.199999999999996" y="466.40" text-anchor="end" class="tk">20</text>
<line x1="40.5" y1="427.30" x2="43.8" y2="427.30" stroke="#222" stroke-width="0.95"/>
<text x="37.199999999999996" y="430.30" text-anchor="end" class="tk">40</text>
<line x1="40.5" y1="391.20" x2="43.8" y2="391.20" stroke="#222" stroke-width="0.95"/>
<text x="37.199999999999996" y="394.20" text-anchor="end" class="tk">60</text>
<line x1="40.5" y1="355.10" x2="43.8" y2="355.10" stroke="#222" stroke-width="0.95"/>
<text x="37.199999999999996" y="358.10" text-anchor="end" class="tk">80</text>
<line x1="40.5" y1="319.00" x2="43.8" y2="319.00" stroke="#222" stroke-width="0.95"/>
<text x="37.199999999999996" y="322.00" text-anchor="end" class="tk">100</text>
<line x1="40.5" y1="282.90" x2="43.8" y2="282.90" stroke="#222" stroke-width="0.95"/>
<text x="37.199999999999996" y="285.90" text-anchor="end" class="tk">120</text>
<line x1="73.40" y1="472.5" x2="73.40" y2="475.8" stroke="#222" stroke-width="0.95"/>
<text x="73.40" y="486.80" text-anchor="middle" class="tk">−20</text>
<line x1="124.55" y1="472.5" x2="124.55" y2="475.8" stroke="#222" stroke-width="0.95"/>
<text x="124.55" y="486.80" text-anchor="middle" class="tk">−10</text>
<line x1="175.70" y1="472.5" x2="175.70" y2="475.8" stroke="#222" stroke-width="0.95"/>
<text x="175.70" y="486.80" text-anchor="middle" class="tk">0</text>
<line x1="226.85" y1="472.5" x2="226.85" y2="475.8" stroke="#222" stroke-width="0.95"/>
<text x="226.85" y="486.80" text-anchor="middle" class="tk">10</text>
<text x="7.6" y="265.2" class="let">C</text>
<line x1="304.6" y1="274.4" x2="304.6" y2="473.0" stroke="#151515" stroke-width="1.2"/>
<line x1="304.1" y1="472.5" x2="510.4" y2="472.5" stroke="#151515" stroke-width="1.1"/>
<line x1="301.3" y1="463.60" x2="304.6" y2="463.60" stroke="#222" stroke-width="0.95"/>
<text x="298.0" y="466.60" text-anchor="end" class="tk">20</text>
<line x1="301.3" y1="427.50" x2="304.6" y2="427.50" stroke="#222" stroke-width="0.95"/>
<text x="298.0" y="430.50" text-anchor="end" class="tk">40</text>
<line x1="301.3" y1="391.40" x2="304.6" y2="391.40" stroke="#222" stroke-width="0.95"/>
<text x="298.0" y="394.40" text-anchor="end" class="tk">60</text>
<line x1="301.3" y1="355.30" x2="304.6" y2="355.30" stroke="#222" stroke-width="0.95"/>
<text x="298.0" y="358.30" text-anchor="end" class="tk">80</text>
<line x1="301.3" y1="319.20" x2="304.6" y2="319.20" stroke="#222" stroke-width="0.95"/>
<text x="298.0" y="322.20" text-anchor="end" class="tk">100</text>
<line x1="301.3" y1="283.10" x2="304.6" y2="283.10" stroke="#222" stroke-width="0.95"/>
<text x="298.0" y="286.10" text-anchor="end" class="tk">120</text>
<line x1="334.30" y1="472.5" x2="334.30" y2="475.8" stroke="#222" stroke-width="0.95"/>
<text x="334.30" y="486.80" text-anchor="middle" class="tk">−20</text>
<line x1="385.45" y1="472.5" x2="385.45" y2="475.8" stroke="#222" stroke-width="0.95"/>
<text x="385.45" y="486.80" text-anchor="middle" class="tk">−10</text>
<line x1="436.60" y1="472.5" x2="436.60" y2="475.8" stroke="#222" stroke-width="0.95"/>
<text x="436.60" y="486.80" text-anchor="middle" class="tk">0</text>
<line x1="487.75" y1="472.5" x2="487.75" y2="475.8" stroke="#222" stroke-width="0.95"/>
<text x="487.75" y="486.80" text-anchor="middle" class="tk">10</text>
<text x="268.8" y="265.2" class="let">D</text>
<text transform="translate(16.8,122.5) rotate(-90) scale(0.72,1)" text-anchor="middle" class="yt">ppFEV<tspan font-size="5.5" dy="1.8">1</tspan></text>
<text transform="translate(275.6,122.5) rotate(-90) scale(0.72,1)" text-anchor="middle" class="yt">ppFVC</text>
<text transform="translate(16.6,373.5) rotate(-90) scale(0.72,1)" text-anchor="middle" class="yt">ppFEV<tspan font-size="5.5" dy="1.8">1</tspan></text>
<text transform="translate(278.3,373.8) rotate(-90) scale(0.72,1)" text-anchor="middle" class="yt">ppFVC</text>
<text transform="translate(146.6,501) scale(0.66,1)" text-anchor="middle" class="xt">Month</text>
<text transform="translate(407.6,501) scale(0.66,1)" text-anchor="middle" class="xt">Month</text>
<text x="179.4" y="28.7" class="eq" fill="#c0284e">y = 52.4 − 0.386x</text>
<text x="179.4" y="40.0" class="eq" fill="#2e6593">y = 53.6 − 0.021x</text>
<text x="179.4" y="50.3" class="eq" fill="#222"><tspan font-style="italic">P</tspan> = .00267</text>
<text x="429.4" y="28.7" class="eq" fill="#c0284e">y = 72.6 − 0.216x</text>
<text x="429.4" y="40.0" class="eq" fill="#2e6593">y = 72.2 − 0.0161x</text>
<text x="179.4" y="275.8" class="eq" fill="#c0284e">y = 56.4 − 0.363x</text>
<text x="179.4" y="286.7" class="eq" fill="#2e6593">y = 54.7 + 0.105x</text>
<text x="429.4" y="275.8" class="eq" fill="#c0284e">y = 73.6 − 0.388x</text>
<text x="429.4" y="286.7" class="eq" fill="#2e6593">y = 74.6 − 0.124x</text>
</svg></div></body></html>
